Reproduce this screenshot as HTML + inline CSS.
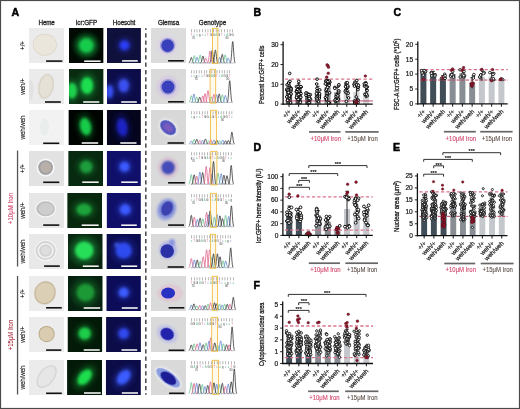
<!DOCTYPE html>
<html><head><meta charset="utf-8"><style>
html,body{margin:0;padding:0;background:#fff;width:520px;height:409px;overflow:hidden}
svg{display:block}
svg text{font-family:"Liberation Sans", Arial, sans-serif}
</style></head><body>
<svg width="520" height="409" viewBox="0 0 520 409">
<defs><clipPath id="c1"><rect x="29" y="28" width="35" height="35"/></clipPath>
<filter id="b2" x="-50%" y="-50%" width="200%" height="200%"><feGaussianBlur stdDeviation="0.5"/></filter>
<filter id="b3" x="-50%" y="-50%" width="200%" height="200%"><feGaussianBlur stdDeviation="0.6"/></filter>
<clipPath id="c4"><rect x="69" y="28" width="34.6" height="35"/></clipPath>
<filter id="b5" x="-50%" y="-50%" width="200%" height="200%"><feGaussianBlur stdDeviation="2.4"/></filter>
<filter id="b6" x="-50%" y="-50%" width="200%" height="200%"><feGaussianBlur stdDeviation="1.8"/></filter>
<clipPath id="c7"><rect x="107" y="28" width="33.9" height="35"/></clipPath>
<filter id="b8" x="-50%" y="-50%" width="200%" height="200%"><feGaussianBlur stdDeviation="1.5"/></filter>
<clipPath id="c9"><rect x="151" y="28" width="35" height="35"/></clipPath>
<filter id="b10" x="-50%" y="-50%" width="200%" height="200%"><feGaussianBlur stdDeviation="1.0"/></filter>
<filter id="b11" x="-50%" y="-50%" width="200%" height="200%"><feGaussianBlur stdDeviation="0.7"/></filter>
<clipPath id="c12"><rect x="29" y="69" width="35" height="35"/></clipPath>
<clipPath id="c13"><rect x="69" y="69" width="34.6" height="35"/></clipPath>
<clipPath id="c14"><rect x="107" y="69" width="33.9" height="35"/></clipPath>
<clipPath id="c15"><rect x="151" y="69" width="35" height="35"/></clipPath>
<clipPath id="c16"><rect x="29" y="110" width="35" height="35"/></clipPath>
<clipPath id="c17"><rect x="68.4" y="110" width="34.8" height="35"/></clipPath>
<clipPath id="c18"><rect x="106.8" y="110" width="34.1" height="35"/></clipPath>
<clipPath id="c19"><rect x="151" y="110" width="35" height="35"/></clipPath>
<filter id="b20" x="-50%" y="-50%" width="200%" height="200%"><feGaussianBlur stdDeviation="0.8"/></filter>
<clipPath id="c21"><rect x="29" y="151" width="35" height="35"/></clipPath>
<clipPath id="c22"><rect x="68.2" y="151" width="34.8" height="35"/></clipPath>
<clipPath id="c23"><rect x="106.7" y="151" width="34.2" height="35"/></clipPath>
<clipPath id="c24"><rect x="151" y="151" width="35" height="35"/></clipPath>
<filter id="b25" x="-50%" y="-50%" width="200%" height="200%"><feGaussianBlur stdDeviation="1.3"/></filter>
<filter id="b26" x="-50%" y="-50%" width="200%" height="200%"><feGaussianBlur stdDeviation="0.9"/></filter>
<clipPath id="c27"><rect x="29" y="193" width="35" height="35"/></clipPath>
<clipPath id="c28"><rect x="67.2" y="193" width="34.8" height="35"/></clipPath>
<clipPath id="c29"><rect x="106.6" y="193" width="34.3" height="35"/></clipPath>
<clipPath id="c30"><rect x="151" y="193" width="35" height="35"/></clipPath>
<clipPath id="c31"><rect x="29" y="234" width="35" height="35"/></clipPath>
<clipPath id="c32"><rect x="67.9" y="234" width="34.8" height="35"/></clipPath>
<clipPath id="c33"><rect x="106.4" y="234" width="34.5" height="35"/></clipPath>
<clipPath id="c34"><rect x="151" y="234" width="35" height="35"/></clipPath>
<clipPath id="c35"><rect x="29" y="276" width="35" height="35"/></clipPath>
<clipPath id="c36"><rect x="67.9" y="276" width="34.8" height="35"/></clipPath>
<clipPath id="c37"><rect x="106.3" y="276" width="34.6" height="35"/></clipPath>
<clipPath id="c38"><rect x="151" y="276" width="35" height="35"/></clipPath>
<filter id="b39" x="-50%" y="-50%" width="200%" height="200%"><feGaussianBlur stdDeviation="1.1"/></filter>
<clipPath id="c40"><rect x="29" y="317" width="35" height="35"/></clipPath>
<clipPath id="c41"><rect x="67.5" y="317" width="34.8" height="35"/></clipPath>
<clipPath id="c42"><rect x="106.1" y="317" width="34.8" height="35"/></clipPath>
<clipPath id="c43"><rect x="151" y="317" width="35" height="35"/></clipPath>
<clipPath id="c44"><rect x="29" y="360" width="35" height="35"/></clipPath>
<clipPath id="c45"><rect x="67.1" y="360" width="35" height="35"/></clipPath>
<clipPath id="c46"><rect x="105.8" y="360" width="35.1" height="35"/></clipPath>
<clipPath id="c47"><rect x="151" y="360" width="35" height="35"/></clipPath></defs>
<rect width="520" height="409" fill="#fff"/>
<g clip-path="url(#c1)"><rect x="29" y="28" width="35" height="35" fill="#ebebeb"/>
<ellipse cx="44.8" cy="44.8" rx="12" ry="11" fill="#ddd6c8" filter="url(#b2)"/>
<ellipse cx="44.8" cy="44.8" rx="11.2" ry="10.2" fill="#ebe6dc" filter="url(#b3)"/>
</g>
<rect x="46.1" y="60.3" width="16.2" height="1.6" fill="#111"/>
<g clip-path="url(#c4)"><rect x="69" y="28" width="34.6" height="35" fill="#020a03"/>
<ellipse cx="86.3" cy="45.5" rx="11.52" ry="11.52" fill="#16cc4c" opacity="0.4675" filter="url(#b5)"/>
<ellipse cx="86.3" cy="45.5" rx="7.2" ry="7.2" fill="#16cc4c" filter="url(#b6)"/>
</g>
<rect x="84.2" y="60.4" width="16.4" height="1.6" fill="#f2f2f2"/>
<g clip-path="url(#c7)"><rect x="107" y="28" width="33.900000000000006" height="35" fill="#10103c"/>
<ellipse cx="124.5" cy="45.3" rx="7.68" ry="7.68" fill="#2c3cf4" opacity="0.30250000000000005" filter="url(#b5)"/>
<ellipse cx="124.5" cy="45.3" rx="4.8" ry="4.8" fill="#2c3cf4" filter="url(#b8)"/>
</g>
<rect x="122.1" y="60.1" width="15.7" height="1.6" fill="#f2f2f2"/>
<g clip-path="url(#c9)"><rect x="151" y="28" width="35" height="35" fill="#dcdcdc"/>
<ellipse cx="167.6" cy="45.6" rx="10.3" ry="10.3" fill="#dcd4e4" filter="url(#b10)"/>
<ellipse cx="167.6" cy="45.6" rx="7.8" ry="7.8" fill="#a8a4da" filter="url(#b11)"/>
<ellipse cx="167.6" cy="45.6" rx="6.3" ry="6.3" fill="#3840bc" filter="url(#b3)"/>
</g>
<rect x="168.1" y="60" width="15.7" height="1.6" fill="#111"/>
<g clip-path="url(#c12)"><rect x="29" y="69" width="35" height="35" fill="#ebebeb"/>
<ellipse cx="46" cy="86.3" rx="7.6" ry="12.3" fill="#cdc6b6" transform="rotate(12 46 86.3)" filter="url(#b2)"/>
<ellipse cx="46" cy="86.3" rx="6.8" ry="11.5" fill="#e6e1d6" transform="rotate(12 46 86.3)" filter="url(#b3)"/>
<ellipse cx="30.5" cy="90" rx="3.5" ry="10.5" fill="#e8e8e8" filter="url(#b2)"/>
<ellipse cx="30.5" cy="90" rx="3" ry="10" fill="#e2e2e2" filter="url(#b3)"/>
</g>
<rect x="45" y="101.2" width="15.8" height="1.6" fill="#111"/>
<g clip-path="url(#c13)"><rect x="69" y="69" width="34.6" height="35" fill="#0a2a12"/>
<ellipse cx="87" cy="85.5" rx="10.08" ry="13.76" fill="#1ade50" opacity="0.22000000000000003" filter="url(#b5)"/>
<ellipse cx="87" cy="85.5" rx="6.3" ry="8.6" fill="#1ade50" filter="url(#b6)"/>
<ellipse cx="72" cy="90.7" rx="8" ry="12.8" fill="#1ad24c" opacity="0.22000000000000003" filter="url(#b5)"/>
<ellipse cx="72" cy="90.7" rx="5" ry="8" fill="#1ad24c" filter="url(#b6)"/>
</g>
<rect x="83.2" y="101.2" width="16.1" height="1.6" fill="#f2f2f2"/>
<g clip-path="url(#c14)"><rect x="107" y="69" width="33.900000000000006" height="35" fill="#0c0c48"/>
<ellipse cx="123.7" cy="85.5" rx="8.32" ry="10.56" fill="#3a50f0" opacity="0.24750000000000003" filter="url(#b5)"/>
<ellipse cx="123.7" cy="85.5" rx="5.2" ry="6.6" fill="#3a50f0" filter="url(#b8)"/>
<ellipse cx="109.5" cy="91.5" rx="6.08" ry="10.56" fill="#3450f0" opacity="0.22000000000000003" filter="url(#b5)"/>
<ellipse cx="109.5" cy="91.5" rx="3.8" ry="6.6" fill="#3450f0" filter="url(#b8)"/>
</g>
<rect x="121.2" y="101.2" width="15.6" height="1.6" fill="#f2f2f2"/>
<g clip-path="url(#c15)"><rect x="151" y="69" width="35" height="35" fill="#dadada"/>
<ellipse cx="168" cy="87" rx="10.8" ry="10.8" fill="#d8cce2" filter="url(#b10)" stroke="#ccb8d6" stroke-width="0.6"/>
<ellipse cx="168" cy="87" rx="8" ry="8" fill="#a8a2da" filter="url(#b11)"/>
<ellipse cx="168" cy="87" rx="6.4" ry="6.4" fill="#3840bc" filter="url(#b3)"/>
</g>
<rect x="168.1" y="101" width="15.7" height="1.6" fill="#111"/>
<g clip-path="url(#c16)"><rect x="29" y="110" width="35" height="35" fill="#f2f2f2"/>
<ellipse cx="44.5" cy="127" rx="5.6" ry="9.6" fill="#f6f8f7" filter="url(#b2)"/>
<ellipse cx="44.5" cy="127" rx="5" ry="9" fill="#e9eeec" filter="url(#b3)"/>
</g>
<rect x="43.2" y="142.5" width="16.1" height="1.6" fill="#111"/>
<g clip-path="url(#c17)"><rect x="68.4" y="110" width="34.8" height="35" fill="#000400"/>
<ellipse cx="85.5" cy="126.5" rx="8.96" ry="14.4" fill="#16cc48" transform="rotate(-12 85.5 126.5)" opacity="0.1925" filter="url(#b5)"/>
<ellipse cx="85.5" cy="126.5" rx="5.6" ry="9" fill="#16cc48" transform="rotate(-12 85.5 126.5)" filter="url(#b6)"/>
</g>
<rect x="81.7" y="142.2" width="16.5" height="1.6" fill="#f2f2f2"/>
<g clip-path="url(#c18)"><rect x="106.8" y="110" width="34.10000000000001" height="35" fill="#05051e"/>
<ellipse cx="122.2" cy="127.2" rx="8.32" ry="14.4" fill="#1a22c4" transform="rotate(-8 122.2 127.2)" opacity="0.24750000000000003" filter="url(#b5)"/>
<ellipse cx="122.2" cy="127.2" rx="5.2" ry="9" fill="#1a22c4" transform="rotate(-8 122.2 127.2)" filter="url(#b8)"/>
</g>
<rect x="120.3" y="142.2" width="16.2" height="1.6" fill="#f2f2f2"/>
<g clip-path="url(#c19)"><rect x="151" y="110" width="35" height="35" fill="#d8d8d8"/>
<ellipse cx="168.1" cy="127.6" rx="10.5" ry="7.5" fill="#f0f0f4" transform="rotate(40 168.1 127.6)" filter="url(#b20)"/>
<ellipse cx="168.1" cy="127.6" rx="9" ry="6.2" fill="#4a52bc" transform="rotate(40 168.1 127.6)" filter="url(#b2)"/>
<ellipse cx="168.1" cy="127.6" rx="6" ry="4" fill="#7a5cc0" transform="rotate(40 168.1 127.6)" filter="url(#b20)"/>
</g>
<rect x="167.6" y="142.2" width="16.2" height="1.6" fill="#111"/>
<g clip-path="url(#c21)"><rect x="29" y="151" width="35" height="35" fill="#e2e2e2"/>
<ellipse cx="45.6" cy="167.6" rx="9" ry="9" fill="#f8f8f8" filter="url(#b2)"/>
<ellipse cx="45.6" cy="167.6" rx="7.4" ry="7.4" fill="#a2a2a6" filter="url(#b3)"/>
<ellipse cx="45.8" cy="167.4" rx="5.3" ry="5.3" fill="#b4aeaa" filter="url(#b2)"/>
<ellipse cx="45.8" cy="167.4" rx="5" ry="5" fill="#b8b0a8" filter="url(#b3)"/>
</g>
<rect x="43.2" y="181.5" width="16.1" height="1.6" fill="#111"/>
<g clip-path="url(#c22)"><rect x="68.2" y="151" width="34.8" height="35" fill="#082a10"/>
<ellipse cx="86.2" cy="166.8" rx="9.92" ry="9.92" fill="#1c9e3c" opacity="0.275" filter="url(#b5)"/>
<ellipse cx="86.2" cy="166.8" rx="6.2" ry="6.2" fill="#1c9e3c" filter="url(#b6)"/>
</g>
<rect x="82.2" y="181.4" width="16.5" height="1.6" fill="#f2f2f2"/>
<g clip-path="url(#c23)"><rect x="106.7" y="151" width="34.2" height="35" fill="#10106a"/>
<ellipse cx="124.5" cy="166.7" rx="8" ry="8" fill="#3a5aff" opacity="0.24750000000000003" filter="url(#b5)"/>
<ellipse cx="124.5" cy="166.7" rx="5" ry="5" fill="#3a5aff" filter="url(#b8)"/>
</g>
<rect x="121.2" y="181.4" width="16.5" height="1.6" fill="#f2f2f2"/>
<g clip-path="url(#c24)"><rect x="151" y="151" width="35" height="35" fill="#dadada"/>
<ellipse cx="168.1" cy="167.6" rx="10" ry="10" fill="#d8c6d4" filter="url(#b25)" stroke="#d4b0cc" stroke-width="0.6"/>
<ellipse cx="168.1" cy="167.6" rx="6.8" ry="6.8" fill="#444cb8" filter="url(#b26)"/>
</g>
<rect x="168.1" y="182" width="16.7" height="1.6" fill="#111"/>
<g clip-path="url(#c27)"><rect x="29" y="193" width="35" height="35" fill="#e6e6e6"/>
<ellipse cx="45.6" cy="208.8" rx="10.6" ry="8.8" fill="#f6f6f6" filter="url(#b2)"/>
<ellipse cx="45.6" cy="208.8" rx="9.3" ry="7.5" fill="#bcbcbc" filter="url(#b3)"/>
<ellipse cx="46" cy="208.8" rx="7.6" ry="6.1" fill="#c8c8c8" filter="url(#b2)"/>
<ellipse cx="46" cy="208.8" rx="7.3" ry="5.8" fill="#cdcdcd" filter="url(#b3)"/>
</g>
<rect x="43.2" y="224.3" width="16.1" height="1.6" fill="#111"/>
<g clip-path="url(#c28)"><rect x="67.2" y="193" width="34.8" height="35" fill="#08280e"/>
<ellipse cx="84" cy="209.5" rx="12.16" ry="9.6" fill="#1ca43a" opacity="0.275" filter="url(#b5)"/>
<ellipse cx="84" cy="209.5" rx="7.6" ry="6" fill="#1ca43a" filter="url(#b6)"/>
</g>
<rect x="81.7" y="224.4" width="17" height="1.6" fill="#f2f2f2"/>
<g clip-path="url(#c29)"><rect x="106.6" y="193" width="34.30000000000001" height="35" fill="#10106a"/>
<ellipse cx="125.2" cy="209.5" rx="8.64" ry="8.64" fill="#3a5aff" opacity="0.24750000000000003" filter="url(#b5)"/>
<ellipse cx="125.2" cy="209.5" rx="5.4" ry="5.4" fill="#3a5aff" filter="url(#b8)"/>
</g>
<rect x="121.2" y="224.4" width="15.6" height="1.6" fill="#f2f2f2"/>
<g clip-path="url(#c30)"><rect x="151" y="193" width="35" height="35" fill="#d8d8d8"/>
<ellipse cx="166.5" cy="209.5" rx="9.5" ry="11.5" fill="#aab4e2" transform="rotate(25 166.5 209.5)" filter="url(#b26)"/>
<ellipse cx="166.8" cy="209" rx="8" ry="9.5" fill="#7e8cd6" transform="rotate(25 166.8 209)" filter="url(#b20)"/>
<ellipse cx="167" cy="208.5" rx="5.5" ry="7.5" fill="#3c42b0" transform="rotate(25 167 208.5)" filter="url(#b11)"/>
</g>
<rect x="168.1" y="224.3" width="15.9" height="1.6" fill="#111"/>
<g clip-path="url(#c31)"><rect x="29" y="234" width="35" height="35" fill="#e8e8e8"/>
<ellipse cx="45.6" cy="250.6" rx="11.2" ry="10.7" fill="#f4f4f4" filter="url(#b2)"/>
<ellipse cx="45.6" cy="250.6" rx="10" ry="9.5" fill="#d0d0d0" filter="url(#b3)"/>
<ellipse cx="45.6" cy="250.6" rx="8.3" ry="7.9" fill="#e8e8e8" filter="url(#b2)"/>
<ellipse cx="45.6" cy="250.6" rx="8" ry="7.6" fill="#eeeeee" filter="url(#b3)"/>
<ellipse cx="45.6" cy="250.6" rx="6.3" ry="6.1" fill="#d6d6d6" filter="url(#b2)"/>
<ellipse cx="45.6" cy="250.6" rx="6" ry="5.8" fill="#d2d2d2" filter="url(#b3)"/>
<ellipse cx="45.8" cy="250.6" rx="4.6" ry="4.4" fill="#dadada" filter="url(#b2)"/>
<ellipse cx="45.8" cy="250.6" rx="4.3" ry="4.1" fill="#dedede" filter="url(#b3)"/>
</g>
<rect x="44.1" y="265.3" width="15.7" height="1.6" fill="#111"/>
<g clip-path="url(#c32)"><rect x="67.9" y="234" width="34.8" height="35" fill="#082410"/>
<ellipse cx="84.2" cy="250.5" rx="15.04" ry="14.72" fill="#26de58" opacity="0.24750000000000003" filter="url(#b5)"/>
<ellipse cx="84.2" cy="250.5" rx="9.4" ry="9.2" fill="#26de58" filter="url(#b6)"/>
</g>
<rect x="82.8" y="265.4" width="15.9" height="1.6" fill="#f2f2f2"/>
<g clip-path="url(#c33)"><rect x="106.4" y="234" width="34.5" height="35" fill="#0c0c50"/>
<ellipse cx="123.7" cy="250.5" rx="12.8" ry="12.8" fill="#2e4cf0" opacity="0.22000000000000003" filter="url(#b5)"/>
<ellipse cx="123.7" cy="250.5" rx="8" ry="8" fill="#2e4cf0" filter="url(#b8)"/>
<ellipse cx="116.8" cy="245" rx="3.2" ry="3.2" fill="#4a6aff" opacity="0.11000000000000001" filter="url(#b5)"/>
<ellipse cx="116.8" cy="245" rx="2" ry="2" fill="#4a6aff" filter="url(#b8)"/>
</g>
<rect x="121.2" y="265.4" width="16" height="1.6" fill="#f2f2f2"/>
<g clip-path="url(#c34)"><rect x="151" y="234" width="35" height="35" fill="#d9d9d9"/>
<ellipse cx="168" cy="250" rx="9" ry="9" fill="#b0b8e4" filter="url(#b10)"/>
<ellipse cx="172" cy="242.5" rx="3" ry="3.5" fill="#8a96e0" filter="url(#b20)"/>
<ellipse cx="167.2" cy="251.1" rx="6.8" ry="6.8" fill="#2c30a6" filter="url(#b11)"/>
</g>
<rect x="167.6" y="266.2" width="16.2" height="1.6" fill="#111"/>
<g clip-path="url(#c35)"><rect x="29" y="276" width="35" height="35" fill="#ececec"/>
<ellipse cx="45" cy="292.8" rx="10.5" ry="11.5" fill="#bcaa88" transform="rotate(20 45 292.8)" filter="url(#b2)"/>
<ellipse cx="45" cy="292.8" rx="9.6" ry="10.6" fill="#dbd0b6" transform="rotate(20 45 292.8)" filter="url(#b3)"/>
</g>
<rect x="46.1" y="307" width="15.7" height="1.6" fill="#111"/>
<g clip-path="url(#c36)"><rect x="67.9" y="276" width="34.8" height="35" fill="#062010"/>
<ellipse cx="85.5" cy="292.5" rx="14.4" ry="14.4" fill="#1a9834" opacity="0.30250000000000005" filter="url(#b5)"/>
<ellipse cx="85.5" cy="292.5" rx="9" ry="9" fill="#1a9834" filter="url(#b6)"/>
</g>
<rect x="83.7" y="307.2" width="16.5" height="1.6" fill="#f2f2f2"/>
<g clip-path="url(#c37)"><rect x="106.3" y="276" width="34.60000000000001" height="35" fill="#0c0c58"/>
<ellipse cx="123.7" cy="292.5" rx="8" ry="8" fill="#3a5cff" opacity="0.24750000000000003" filter="url(#b5)"/>
<ellipse cx="123.7" cy="292.5" rx="5" ry="5" fill="#3a5cff" filter="url(#b8)"/>
</g>
<rect x="121.8" y="307.2" width="15.9" height="1.6" fill="#f2f2f2"/>
<g clip-path="url(#c38)"><rect x="151" y="276" width="35" height="35" fill="#dadada"/>
<ellipse cx="170" cy="293.1" rx="12" ry="8" fill="#e2cad6" filter="url(#b39)" stroke="#d8b0c6" stroke-width="0.6"/>
<ellipse cx="168.1" cy="293.1" rx="7" ry="5.5" fill="#2a30c4" filter="url(#b3)"/>
</g>
<rect x="168.6" y="307" width="15.7" height="1.6" fill="#111"/>
<g clip-path="url(#c40)"><rect x="29" y="317" width="35" height="35" fill="#ececec"/>
<ellipse cx="46.6" cy="334.1" rx="8.1" ry="8.1" fill="#b8a686" filter="url(#b2)"/>
<ellipse cx="46.6" cy="334.1" rx="7.2" ry="7.2" fill="#d9ccb0" filter="url(#b3)"/>
</g>
<rect x="46.1" y="349.3" width="15.2" height="1.6" fill="#111"/>
<g clip-path="url(#c41)"><rect x="67.5" y="317" width="34.8" height="35" fill="#041a08"/>
<ellipse cx="84.7" cy="333.5" rx="9.92" ry="9.92" fill="#1cce4a" opacity="0.22000000000000003" filter="url(#b5)"/>
<ellipse cx="84.7" cy="333.5" rx="6.2" ry="6.2" fill="#1cce4a" filter="url(#b6)"/>
</g>
<rect x="83.7" y="349.2" width="16" height="1.6" fill="#f2f2f2"/>
<g clip-path="url(#c42)"><rect x="106.1" y="317" width="34.80000000000001" height="35" fill="#0c0c48"/>
<ellipse cx="123.7" cy="333.5" rx="8.32" ry="8.32" fill="#3048f0" opacity="0.24750000000000003" filter="url(#b5)"/>
<ellipse cx="123.7" cy="333.5" rx="5.2" ry="5.2" fill="#3048f0" filter="url(#b8)"/>
</g>
<rect x="121.5" y="349.2" width="15.7" height="1.6" fill="#f2f2f2"/>
<g clip-path="url(#c43)"><rect x="151" y="317" width="35" height="35" fill="#d9d9d9"/>
<ellipse cx="167.1" cy="334.1" rx="11" ry="8.5" fill="#c0c2e4" transform="rotate(30 167.1 334.1)" filter="url(#b10)"/>
<ellipse cx="167.1" cy="334.1" rx="7" ry="6" fill="#2424ac" transform="rotate(30 167.1 334.1)" filter="url(#b3)"/>
</g>
<rect x="168.6" y="349.5" width="15.7" height="1.6" fill="#111"/>
<g clip-path="url(#c44)"><rect x="29" y="360" width="35" height="35" fill="#ebebeb"/>
<ellipse cx="46.6" cy="376.6" rx="12.9" ry="7.7" fill="#c9c9c9" transform="rotate(-52 46.6 376.6)" filter="url(#b2)"/>
<ellipse cx="46.6" cy="376.6" rx="12" ry="6.8" fill="#e6e6e6" transform="rotate(-52 46.6 376.6)" filter="url(#b3)"/>
</g>
<rect x="46.1" y="392.5" width="15.7" height="1.6" fill="#111"/>
<g clip-path="url(#c45)"><rect x="67.1" y="360" width="35" height="35" fill="#041a08"/>
<ellipse cx="84.7" cy="377.2" rx="14.72" ry="8.96" fill="#1cde4e" transform="rotate(-50 84.7 377.2)" opacity="0.22000000000000003" filter="url(#b5)"/>
<ellipse cx="84.7" cy="377.2" rx="9.2" ry="5.6" fill="#1cde4e" transform="rotate(-50 84.7 377.2)" filter="url(#b6)"/>
</g>
<rect x="84" y="392.2" width="16.8" height="1.6" fill="#f2f2f2"/>
<g clip-path="url(#c46)"><rect x="105.8" y="360" width="35.10000000000001" height="35" fill="#0c0c48"/>
<ellipse cx="123.7" cy="377.2" rx="13.44" ry="8.96" fill="#3a5cff" transform="rotate(-50 123.7 377.2)" opacity="0.22000000000000003" filter="url(#b5)"/>
<ellipse cx="123.7" cy="377.2" rx="8.4" ry="5.6" fill="#3a5cff" transform="rotate(-50 123.7 377.2)" filter="url(#b8)"/>
</g>
<rect x="121.8" y="392.2" width="16.2" height="1.6" fill="#f2f2f2"/>
<g clip-path="url(#c47)"><rect x="151" y="360" width="35" height="35" fill="#d9d9d9"/>
<ellipse cx="168.1" cy="377.8" rx="15.5" ry="7.2" fill="#eef0f6" transform="rotate(37 168.1 377.8)" filter="url(#b20)"/>
<ellipse cx="168.1" cy="377.8" rx="14.2" ry="6" fill="#8c9ee0" transform="rotate(37 168.1 377.8)" filter="url(#b3)"/>
<ellipse cx="168.4" cy="378.2" rx="9" ry="5" fill="#1c1c94" transform="rotate(37 168.4 378.2)" filter="url(#b3)"/>
</g>
<rect x="169.1" y="392.5" width="15.2" height="1.6" fill="#111"/>
<rect x="212.5" y="28.3" width="5.3" height="35.3" fill="#fffaec"/>
<rect x="191.2" y="29.2" width="0.6" height="3.2" fill="#8a8a8a"/>
<rect x="193.95" y="29.2" width="0.6" height="3.2" fill="#8a8a8a"/>
<rect x="196.69" y="29.2" width="0.6" height="3.2" fill="#8a8a8a"/>
<rect x="199.44" y="29.2" width="0.6" height="3.2" fill="#8a8a8a"/>
<rect x="202.19" y="29.2" width="0.6" height="3.2" fill="#8a8a8a"/>
<rect x="204.93" y="29.2" width="0.6" height="3.2" fill="#8a8a8a"/>
<rect x="207.68" y="29.2" width="0.6" height="3.2" fill="#8a8a8a"/>
<rect x="210.43" y="29.2" width="0.6" height="3.2" fill="#8a8a8a"/>
<rect x="213.17" y="29.2" width="0.6" height="3.2" fill="#8a8a8a"/>
<rect x="215.92" y="29.2" width="0.6" height="3.2" fill="#8a8a8a"/>
<rect x="218.67" y="29.2" width="0.6" height="3.2" fill="#8a8a8a"/>
<rect x="221.41" y="29.2" width="0.6" height="3.2" fill="#8a8a8a"/>
<rect x="224.16" y="29.2" width="0.6" height="3.2" fill="#8a8a8a"/>
<rect x="226.91" y="29.2" width="0.6" height="3.2" fill="#8a8a8a"/>
<rect x="229.65" y="29.2" width="0.6" height="3.2" fill="#8a8a8a"/>
<rect x="232.4" y="29.2" width="0.6" height="3.2" fill="#8a8a8a"/>
<text x="191.5" y="35.6" font-size="2.8" fill="#e0628c" text-anchor="middle">T</text>
<text x="194.25" y="35.6" font-size="2.8" fill="#6486d0" text-anchor="middle">c</text>
<text x="196.99" y="35.6" font-size="2.8" fill="#66c08a" text-anchor="middle">a</text>
<text x="199.74" y="35.6" font-size="2.8" fill="#333" text-anchor="middle">g</text>
<text x="202.49" y="35.6" font-size="2.8" fill="#6486d0" text-anchor="middle">c</text>
<text x="205.23" y="35.6" font-size="2.8" fill="#66c08a" text-anchor="middle">a</text>
<text x="207.98" y="35.6" font-size="2.8" fill="#e0628c" text-anchor="middle">T</text>
<text x="210.73" y="35.6" font-size="2.8" fill="#333" text-anchor="middle">G</text>
<text x="213.47" y="35.6" font-size="2.8" fill="#333" text-anchor="middle">G</text>
<text x="216.22" y="35.6" font-size="2.8" fill="#66c08a" text-anchor="middle">A</text>
<text x="218.97" y="35.6" font-size="2.8" fill="#333" text-anchor="middle">G</text>
<text x="221.71" y="35.6" font-size="2.8" fill="#e0628c" text-anchor="middle">T</text>
<text x="224.46" y="35.6" font-size="2.8" fill="#6486d0" text-anchor="middle">c</text>
<text x="227.21" y="35.6" font-size="2.8" fill="#66c08a" text-anchor="middle">A</text>
<text x="229.95" y="35.6" font-size="2.8" fill="#333" text-anchor="middle">G</text>
<text x="232.7" y="35.6" font-size="2.8" fill="#333" text-anchor="middle">G</text>
<text x="192" y="39" font-size="2.8" fill="#444">70</text>
<text x="225.5" y="39" font-size="2.8" fill="#444">80</text>
<line x1="190.6" y1="63" x2="235.3" y2="63" stroke="#8a8a9a" stroke-width="0.5"/>
<polyline points="188.7,62.95 189,62.86 189.3,62.65 189.6,62.25 189.9,61.57 190.2,60.6 190.5,59.45 190.8,58.34 191.1,57.62 191.4,57.5 191.7,58.05 192,59.06 192.3,60.23 192.6,61.28 192.9,62.06 193.2,62.54 193.5,62.81 193.8,62.93" fill="none" stroke="#333333" stroke-width="0.8"/>
<polyline points="191.66,62.93 191.96,62.81 192.26,62.54 192.56,62.01 192.86,61.11 193.16,59.82 193.46,58.28 193.76,56.82 194.06,55.86 194.36,55.71 194.66,56.43 194.96,57.77 195.26,59.32 195.56,60.72 195.86,61.75 196.16,62.4 196.46,62.74 196.76,62.9" fill="none" stroke="#66c08a" stroke-width="0.8"/>
<polyline points="194.5,62.95 194.8,62.85 195.1,62.64 195.4,62.22 195.7,61.52 196,60.52 196.3,59.32 196.6,58.18 196.9,57.42 197.2,57.31 197.5,57.87 197.8,58.92 198.1,60.13 198.4,61.22 198.7,62.03 199,62.53 199.3,62.8 199.6,62.92" fill="none" stroke="#6486d0" stroke-width="0.8"/>
<polyline points="197.53,62.93 197.83,62.79 198.13,62.5 198.43,61.92 198.73,60.94 199.03,59.53 199.33,57.86 199.63,56.26 199.93,55.21 200.23,55.05 200.53,55.83 200.83,57.29 201.13,58.99 201.43,60.51 201.73,61.64 202.03,62.34 202.33,62.72 202.63,62.89" fill="none" stroke="#66c08a" stroke-width="0.8"/>
<polyline points="200.38,62.94 200.68,62.82 200.98,62.57 201.28,62.07 201.58,61.24 201.88,60.04 202.18,58.6 202.48,57.24 202.78,56.34 203.08,56.2 203.38,56.87 203.68,58.12 203.98,59.57 204.28,60.87 204.58,61.84 204.88,62.44 205.18,62.76 205.48,62.91" fill="none" stroke="#333333" stroke-width="0.8"/>
<polyline points="203.08,62.95 203.38,62.87 203.68,62.69 203.98,62.34 204.28,61.73 204.58,60.87 204.88,59.85 205.18,58.87 205.48,58.22 205.78,58.12 206.08,58.6 206.38,59.5 206.68,60.54 206.98,61.47 207.28,62.16 207.58,62.6 207.88,62.83 208.18,62.94" fill="none" stroke="#e0628c" stroke-width="0.8"/>
<polyline points="217.06,62.95 217.36,62.85 217.66,62.64 217.96,62.22 218.26,61.51 218.56,60.49 218.86,59.28 219.16,58.12 219.46,57.36 219.76,57.24 220.06,57.81 220.36,58.87 220.66,60.1 220.96,61.2 221.26,62.01 221.56,62.52 221.86,62.8 222.16,62.92" fill="none" stroke="#6486d0" stroke-width="0.8"/>
<polyline points="219.63,62.92 219.93,62.78 220.23,62.45 220.53,61.82 220.83,60.75 221.13,59.22 221.43,57.39 221.73,55.65 222.03,54.5 222.33,54.32 222.63,55.18 222.93,56.77 223.23,58.62 223.53,60.29 223.83,61.51 224.13,62.28 224.43,62.69 224.73,62.88" fill="none" stroke="#333333" stroke-width="0.8"/>
<polyline points="222.63,62.92 222.93,62.79 223.23,62.48 223.53,61.88 223.83,60.87 224.13,59.42 224.43,57.69 224.73,56.04 225.03,54.96 225.33,54.79 225.63,55.6 225.93,57.11 226.23,58.86 226.53,60.43 226.83,61.59 227.13,62.32 227.43,62.71 227.73,62.89" fill="none" stroke="#66c08a" stroke-width="0.8"/>
<polyline points="225.55,62.95 225.85,62.87 226.15,62.68 226.45,62.32 226.75,61.7 227.05,60.82 227.35,59.77 227.65,58.77 227.95,58.11 228.25,58 228.55,58.5 228.85,59.42 229.15,60.48 229.45,61.44 229.75,62.14 230.05,62.59 230.35,62.82 230.65,62.93" fill="none" stroke="#6486d0" stroke-width="0.8"/>
<polyline points="207.4,62.89 207.7,62.69 208,62.25 208.3,61.38 208.6,59.91 208.9,57.81 209.2,55.29 209.5,52.91 209.8,51.33 210.1,51.08 210.4,52.26 210.7,54.45 211,56.99 211.3,59.27 211.6,60.96 211.9,62.01 212.2,62.58 212.5,62.84" fill="none" stroke="#e0628c" stroke-width="0.8"/>
<polyline points="209.6,62.88 209.9,62.67 210.2,62.18 210.5,61.24 210.8,59.65 211.1,57.37 211.4,54.65 211.7,52.07 212,50.35 212.3,50.09 212.6,51.36 212.9,53.74 213.2,56.49 213.5,58.96 213.8,60.79 214.1,61.93 214.4,62.54 214.7,62.83" fill="none" stroke="#333333" stroke-width="0.8"/>
<polyline points="212.8,62.88 213.1,62.67 213.4,62.18 213.7,61.24 214,59.65 214.3,57.37 214.6,54.65 214.9,52.07 215.2,50.35 215.5,50.09 215.8,51.36 216.1,53.74 216.4,56.49 216.7,58.96 217,60.79 217.3,61.93 217.6,62.54 217.9,62.83" fill="none" stroke="#333333" stroke-width="0.8"/>
<polyline points="230.1,62.8 230.4,62.44 230.7,61.64 231,60.08 231.3,57.44 231.6,53.65 231.9,49.13 232.2,44.83 232.5,41.99 232.8,41.55 233.1,43.66 233.4,47.61 233.7,52.19 234,56.29 234.3,59.33 234.6,61.22 234.9,62.24 235.2,62.71" fill="none" stroke="#333333" stroke-width="0.8"/>
<rect x="212.5" y="28.3" width="5.3" height="35.3" fill="none" stroke="#f0ba3c" stroke-width="0.85"/>
<rect x="210.1" y="69.3" width="5.6" height="33.8" fill="#fffaec"/>
<rect x="191.2" y="70.2" width="0.6" height="3.2" fill="#8a8a8a"/>
<rect x="193.75" y="70.2" width="0.6" height="3.2" fill="#8a8a8a"/>
<rect x="196.29" y="70.2" width="0.6" height="3.2" fill="#8a8a8a"/>
<rect x="198.84" y="70.2" width="0.6" height="3.2" fill="#8a8a8a"/>
<rect x="201.39" y="70.2" width="0.6" height="3.2" fill="#8a8a8a"/>
<rect x="203.93" y="70.2" width="0.6" height="3.2" fill="#8a8a8a"/>
<rect x="206.48" y="70.2" width="0.6" height="3.2" fill="#8a8a8a"/>
<rect x="209.03" y="70.2" width="0.6" height="3.2" fill="#8a8a8a"/>
<rect x="211.57" y="70.2" width="0.6" height="3.2" fill="#8a8a8a"/>
<rect x="214.12" y="70.2" width="0.6" height="3.2" fill="#8a8a8a"/>
<rect x="216.67" y="70.2" width="0.6" height="3.2" fill="#8a8a8a"/>
<rect x="219.21" y="70.2" width="0.6" height="3.2" fill="#8a8a8a"/>
<rect x="221.76" y="70.2" width="0.6" height="3.2" fill="#8a8a8a"/>
<rect x="224.31" y="70.2" width="0.6" height="3.2" fill="#8a8a8a"/>
<rect x="226.85" y="70.2" width="0.6" height="3.2" fill="#8a8a8a"/>
<rect x="229.4" y="70.2" width="0.6" height="3.2" fill="#8a8a8a"/>
<text x="191.5" y="76.6" font-size="2.8" fill="#6486d0" text-anchor="middle">c</text>
<text x="194.05" y="76.6" font-size="2.8" fill="#66c08a" text-anchor="middle">a</text>
<text x="196.59" y="76.6" font-size="2.8" fill="#333" text-anchor="middle">g</text>
<text x="199.14" y="76.6" font-size="2.8" fill="#6486d0" text-anchor="middle">c</text>
<text x="201.69" y="76.6" font-size="2.8" fill="#66c08a" text-anchor="middle">a</text>
<text x="204.23" y="76.6" font-size="2.8" fill="#e0628c" text-anchor="middle">T</text>
<text x="206.78" y="76.6" font-size="2.8" fill="#333" text-anchor="middle">G</text>
<text x="209.33" y="76.6" font-size="2.8" fill="#333" text-anchor="middle">G</text>
<text x="211.87" y="76.6" font-size="2.8" fill="#66c08a" text-anchor="middle">A</text>
<text x="214.42" y="76.6" font-size="2.8" fill="#333" text-anchor="middle">G</text>
<text x="216.97" y="76.6" font-size="2.8" fill="#e0628c" text-anchor="middle">T</text>
<text x="219.51" y="76.6" font-size="2.8" fill="#6486d0" text-anchor="middle">c</text>
<text x="222.06" y="76.6" font-size="2.8" fill="#66c08a" text-anchor="middle">A</text>
<text x="224.61" y="76.6" font-size="2.8" fill="#333" text-anchor="middle">G</text>
<text x="227.15" y="76.6" font-size="2.8" fill="#333" text-anchor="middle">G</text>
<text x="229.7" y="76.6" font-size="2.8" fill="#e0628c" text-anchor="middle">T</text>
<text x="194.4" y="80" font-size="2.8" fill="#444">70</text>
<text x="226.3" y="80" font-size="2.8" fill="#444">80</text>
<line x1="190.6" y1="102.5" x2="232.3" y2="102.5" stroke="#8a8a9a" stroke-width="0.5"/>
<polyline points="188.7,102.44 189,102.32 189.3,102.07 189.6,101.58 189.9,100.74 190.2,99.55 190.5,98.12 190.8,96.77 191.1,95.87 191.4,95.73 191.7,96.4 192,97.64 192.3,99.09 192.6,100.38 192.9,101.34 193.2,101.94 193.5,102.26 193.8,102.41" fill="none" stroke="#66c08a" stroke-width="0.8"/>
<polyline points="191.32,102.42 191.62,102.28 191.92,101.96 192.22,101.34 192.52,100.29 192.82,98.79 193.12,97 193.42,95.3 193.72,94.17 194.02,93.99 194.32,94.83 194.62,96.4 194.92,98.21 195.22,99.84 195.52,101.04 195.82,101.8 196.12,102.2 196.42,102.39" fill="none" stroke="#6486d0" stroke-width="0.8"/>
<polyline points="194.09,102.45 194.39,102.36 194.69,102.15 194.99,101.76 195.29,101.08 195.59,100.12 195.89,98.97 196.19,97.88 196.49,97.15 196.79,97.04 197.09,97.58 197.39,98.58 197.69,99.75 197.99,100.79 198.29,101.57 198.59,102.05 198.89,102.31 199.19,102.43" fill="none" stroke="#66c08a" stroke-width="0.8"/>
<polyline points="197.13,102.45 197.43,102.36 197.73,102.16 198.03,101.77 198.33,101.11 198.63,100.17 198.93,99.04 199.23,97.97 199.53,97.27 199.83,97.16 200.13,97.68 200.43,98.67 200.73,99.81 201.03,100.83 201.33,101.58 201.63,102.06 201.93,102.31 202.23,102.43" fill="none" stroke="#333333" stroke-width="0.8"/>
<polyline points="200.24,102.44 200.54,102.33 200.84,102.08 201.14,101.6 201.44,100.79 201.74,99.62 202.04,98.23 202.34,96.91 202.64,96.04 202.94,95.9 203.24,96.55 203.54,97.77 203.84,99.17 204.14,100.44 204.44,101.37 204.74,101.95 205.04,102.27 205.34,102.41" fill="none" stroke="#e0628c" stroke-width="0.8"/>
<polyline points="208.72,102.45 209.02,102.36 209.32,102.15 209.62,101.74 209.92,101.05 210.22,100.07 210.52,98.89 210.82,97.77 211.12,97.03 211.42,96.92 211.72,97.47 212.02,98.5 212.32,99.69 212.62,100.76 212.92,101.54 213.22,102.04 213.52,102.3 213.82,102.43" fill="none" stroke="#66c08a" stroke-width="0.8"/>
<polyline points="211.29,102.42 211.59,102.29 211.89,101.98 212.19,101.39 212.49,100.38 212.79,98.94 213.09,97.21 213.39,95.57 213.69,94.49 213.99,94.32 214.29,95.13 214.59,96.63 214.89,98.38 215.19,99.94 215.49,101.1 215.79,101.82 216.09,102.21 216.39,102.39" fill="none" stroke="#e0628c" stroke-width="0.8"/>
<polyline points="213.98,102.43 214.28,102.3 214.58,102 214.88,101.43 215.18,100.46 215.48,99.08 215.78,97.42 216.08,95.85 216.38,94.81 216.68,94.65 216.98,95.42 217.28,96.87 217.58,98.54 217.88,100.05 218.18,101.16 218.48,101.85 218.78,102.22 219.08,102.4" fill="none" stroke="#6486d0" stroke-width="0.8"/>
<polyline points="216.65,102.42 216.95,102.28 217.25,101.96 217.55,101.33 217.85,100.28 218.15,98.76 218.45,96.96 218.75,95.24 219.05,94.11 219.35,93.93 219.65,94.77 219.95,96.35 220.25,98.18 220.55,99.82 220.85,101.03 221.15,101.79 221.45,102.2 221.75,102.39" fill="none" stroke="#333333" stroke-width="0.8"/>
<polyline points="219.74,102.43 220.04,102.3 220.34,102.01 220.64,101.44 220.94,100.49 221.24,99.12 221.54,97.49 221.84,95.93 222.14,94.91 222.44,94.75 222.74,95.51 223.04,96.94 223.34,98.59 223.64,100.08 223.94,101.17 224.24,101.86 224.54,102.23 224.84,102.4" fill="none" stroke="#66c08a" stroke-width="0.8"/>
<polyline points="222.75,102.43 223.05,102.32 223.35,102.05 223.65,101.53 223.95,100.66 224.25,99.41 224.55,97.92 224.85,96.5 225.15,95.56 225.45,95.41 225.75,96.11 226.05,97.42 226.35,98.93 226.65,100.28 226.95,101.29 227.25,101.91 227.55,102.25 227.85,102.41" fill="none" stroke="#6486d0" stroke-width="0.8"/>
<polyline points="205.4,102.39 205.7,102.19 206,101.75 206.3,100.88 206.6,99.41 206.9,97.31 207.2,94.79 207.5,92.41 207.8,90.83 208.1,90.58 208.4,91.76 208.7,93.95 209,96.49 209.3,98.77 209.6,100.46 209.9,101.51 210.2,102.08 210.5,102.34" fill="none" stroke="#e0628c" stroke-width="0.8"/>
<polyline points="202.4,102.42 202.7,102.27 203,101.94 203.3,101.28 203.6,100.18 203.9,98.6 204.2,96.72 204.5,94.93 204.8,93.75 205.1,93.56 205.4,94.44 205.7,96.09 206,98 206.3,99.71 206.6,100.97 206.9,101.76 207.2,102.18 207.5,102.38" fill="none" stroke="#e0628c" stroke-width="0.8"/>
<polyline points="227.1,102.3 227.4,101.93 227.7,101.12 228,99.52 228.3,96.83 228.6,92.98 228.9,88.37 229.2,84 229.5,81.1 229.8,80.65 230.1,82.81 230.4,86.83 230.7,91.49 231,95.67 231.3,98.76 231.6,100.69 231.9,101.73 232.2,102.21" fill="none" stroke="#333333" stroke-width="0.8"/>
<rect x="210.1" y="69.3" width="5.6" height="33.8" fill="none" stroke="#f0ba3c" stroke-width="0.85"/>
<rect x="210.6" y="110.3" width="6" height="34.3" fill="#fffaec"/>
<rect x="191.2" y="111.2" width="0.6" height="3.2" fill="#8a8a8a"/>
<rect x="193.89" y="111.2" width="0.6" height="3.2" fill="#8a8a8a"/>
<rect x="196.59" y="111.2" width="0.6" height="3.2" fill="#8a8a8a"/>
<rect x="199.28" y="111.2" width="0.6" height="3.2" fill="#8a8a8a"/>
<rect x="201.97" y="111.2" width="0.6" height="3.2" fill="#8a8a8a"/>
<rect x="204.67" y="111.2" width="0.6" height="3.2" fill="#8a8a8a"/>
<rect x="207.36" y="111.2" width="0.6" height="3.2" fill="#8a8a8a"/>
<rect x="210.05" y="111.2" width="0.6" height="3.2" fill="#8a8a8a"/>
<rect x="212.75" y="111.2" width="0.6" height="3.2" fill="#8a8a8a"/>
<rect x="215.44" y="111.2" width="0.6" height="3.2" fill="#8a8a8a"/>
<rect x="218.13" y="111.2" width="0.6" height="3.2" fill="#8a8a8a"/>
<rect x="220.83" y="111.2" width="0.6" height="3.2" fill="#8a8a8a"/>
<rect x="223.52" y="111.2" width="0.6" height="3.2" fill="#8a8a8a"/>
<rect x="226.21" y="111.2" width="0.6" height="3.2" fill="#8a8a8a"/>
<rect x="228.91" y="111.2" width="0.6" height="3.2" fill="#8a8a8a"/>
<rect x="231.6" y="111.2" width="0.6" height="3.2" fill="#8a8a8a"/>
<text x="191.5" y="117.6" font-size="2.8" fill="#66c08a" text-anchor="middle">a</text>
<text x="194.19" y="117.6" font-size="2.8" fill="#333" text-anchor="middle">g</text>
<text x="196.89" y="117.6" font-size="2.8" fill="#6486d0" text-anchor="middle">c</text>
<text x="199.58" y="117.6" font-size="2.8" fill="#66c08a" text-anchor="middle">a</text>
<text x="202.27" y="117.6" font-size="2.8" fill="#e0628c" text-anchor="middle">T</text>
<text x="204.97" y="117.6" font-size="2.8" fill="#333" text-anchor="middle">G</text>
<text x="207.66" y="117.6" font-size="2.8" fill="#333" text-anchor="middle">G</text>
<text x="210.35" y="117.6" font-size="2.8" fill="#66c08a" text-anchor="middle">A</text>
<text x="213.05" y="117.6" font-size="2.8" fill="#333" text-anchor="middle">G</text>
<text x="215.74" y="117.6" font-size="2.8" fill="#e0628c" text-anchor="middle">T</text>
<text x="218.43" y="117.6" font-size="2.8" fill="#6486d0" text-anchor="middle">c</text>
<text x="221.13" y="117.6" font-size="2.8" fill="#66c08a" text-anchor="middle">A</text>
<text x="223.82" y="117.6" font-size="2.8" fill="#333" text-anchor="middle">G</text>
<text x="226.51" y="117.6" font-size="2.8" fill="#333" text-anchor="middle">G</text>
<text x="229.21" y="117.6" font-size="2.8" fill="#e0628c" text-anchor="middle">T</text>
<text x="231.9" y="117.6" font-size="2.8" fill="#6486d0" text-anchor="middle">c</text>
<text x="220.9" y="121" font-size="2.8" fill="#444">80</text>
<line x1="190.6" y1="144" x2="234.5" y2="144" stroke="#8a8a9a" stroke-width="0.5"/>
<polyline points="188.7,143.97 189,143.92 189.3,143.81 189.6,143.58 189.9,143.21 190.2,142.67 190.5,142.03 190.8,141.42 191.1,141.01 191.4,140.95 191.7,141.25 192,141.81 192.3,142.46 192.6,143.05 192.9,143.48 193.2,143.75 193.5,143.89 193.8,143.96" fill="none" stroke="#6486d0" stroke-width="0.8"/>
<polyline points="191.54,143.96 191.84,143.88 192.14,143.71 192.44,143.37 192.74,142.81 193.04,142 193.34,141.03 193.64,140.11 193.94,139.51 194.24,139.41 194.54,139.86 194.84,140.71 195.14,141.69 195.44,142.57 195.74,143.21 196.04,143.62 196.34,143.84 196.64,143.94" fill="none" stroke="#66c08a" stroke-width="0.8"/>
<polyline points="194.21,143.96 194.51,143.88 194.81,143.7 195.11,143.35 195.41,142.76 195.71,141.91 196.01,140.9 196.31,139.94 196.61,139.3 196.91,139.2 197.21,139.68 197.51,140.56 197.81,141.58 198.11,142.5 198.41,143.18 198.71,143.6 199.01,143.83 199.31,143.94" fill="none" stroke="#333333" stroke-width="0.8"/>
<polyline points="197.29,143.97 197.59,143.9 197.89,143.77 198.19,143.5 198.49,143.05 198.79,142.4 199.09,141.62 199.39,140.89 199.69,140.4 199.99,140.32 200.29,140.69 200.59,141.36 200.89,142.15 201.19,142.85 201.49,143.37 201.79,143.7 202.09,143.87 202.39,143.95" fill="none" stroke="#e0628c" stroke-width="0.8"/>
<polyline points="200.06,143.96 200.36,143.9 200.66,143.76 200.96,143.49 201.26,143.02 201.56,142.36 201.86,141.56 202.16,140.81 202.46,140.31 202.76,140.23 203.06,140.6 203.36,141.3 203.66,142.1 203.96,142.82 204.26,143.35 204.56,143.69 204.86,143.87 205.16,143.95" fill="none" stroke="#6486d0" stroke-width="0.8"/>
<polyline points="202.84,143.95 203.14,143.87 203.44,143.69 203.74,143.32 204.04,142.71 204.34,141.84 204.64,140.8 204.94,139.8 205.24,139.15 205.54,139.05 205.84,139.53 206.14,140.45 206.44,141.5 206.74,142.45 207.04,143.15 207.34,143.59 207.64,143.82 207.94,143.93" fill="none" stroke="#333333" stroke-width="0.8"/>
<polyline points="205.62,143.97 205.92,143.93 206.22,143.82 206.52,143.61 206.82,143.26 207.12,142.76 207.42,142.16 207.72,141.6 208.02,141.22 208.32,141.16 208.62,141.44 208.92,141.96 209.22,142.57 209.52,143.11 209.82,143.51 210.12,143.76 210.42,143.9 210.72,143.96" fill="none" stroke="#66c08a" stroke-width="0.8"/>
<polyline points="208.23,143.96 208.53,143.89 208.83,143.73 209.13,143.41 209.43,142.87 209.73,142.1 210.03,141.19 210.33,140.32 210.63,139.74 210.93,139.65 211.23,140.08 211.53,140.88 211.83,141.81 212.13,142.64 212.43,143.26 212.73,143.64 213.03,143.85 213.33,143.94" fill="none" stroke="#e0628c" stroke-width="0.8"/>
<polyline points="211.37,143.96 211.67,143.9 211.97,143.76 212.27,143.47 212.57,143 212.87,142.32 213.17,141.5 213.47,140.73 213.77,140.22 214.07,140.14 214.37,140.52 214.67,141.23 214.97,142.05 215.27,142.79 215.57,143.34 215.87,143.68 216.17,143.86 216.47,143.95" fill="none" stroke="#6486d0" stroke-width="0.8"/>
<polyline points="214.22,143.96 214.52,143.9 214.82,143.75 215.12,143.46 215.42,142.97 215.72,142.26 216.02,141.42 216.32,140.63 216.62,140.1 216.92,140.02 217.22,140.41 217.52,141.14 217.82,141.99 218.12,142.75 218.42,143.32 218.72,143.67 219.02,143.86 219.32,143.95" fill="none" stroke="#333333" stroke-width="0.8"/>
<polyline points="217.22,143.97 217.52,143.92 217.82,143.79 218.12,143.55 218.42,143.15 218.72,142.58 219.02,141.89 219.32,141.23 219.62,140.8 219.92,140.73 220.22,141.06 220.52,141.66 220.82,142.35 221.12,142.98 221.42,143.44 221.72,143.73 222.02,143.88 222.32,143.96" fill="none" stroke="#66c08a" stroke-width="0.8"/>
<polyline points="220.13,143.96 220.43,143.9 220.73,143.75 221.03,143.46 221.33,142.96 221.63,142.26 221.93,141.42 222.23,140.62 222.53,140.09 222.83,140 223.13,140.4 223.43,141.13 223.73,141.99 224.03,142.75 224.33,143.32 224.63,143.67 224.93,143.86 225.23,143.95" fill="none" stroke="#6486d0" stroke-width="0.8"/>
<polyline points="223.06,143.97 223.36,143.92 223.66,143.8 223.96,143.57 224.26,143.18 224.56,142.62 224.86,141.95 225.16,141.31 225.46,140.89 225.76,140.82 226.06,141.14 226.36,141.72 226.66,142.4 226.96,143.01 227.26,143.46 227.56,143.74 227.86,143.89 228.16,143.96" fill="none" stroke="#333333" stroke-width="0.8"/>
<polyline points="225.71,143.97 226.01,143.91 226.31,143.78 226.61,143.52 226.91,143.08 227.21,142.46 227.51,141.71 227.81,141 228.11,140.53 228.41,140.46 228.71,140.81 229.01,141.46 229.31,142.21 229.61,142.89 229.91,143.39 230.21,143.71 230.51,143.87 230.81,143.95" fill="none" stroke="#333333" stroke-width="0.8"/>
<polyline points="229.3,143.89 229.6,143.69 229.9,143.25 230.2,142.38 230.5,140.91 230.8,138.81 231.1,136.29 231.4,133.91 231.7,132.33 232,132.08 232.3,133.26 232.6,135.45 232.9,137.99 233.2,140.27 233.5,141.96 233.8,143.01 234.1,143.58 234.4,143.84" fill="none" stroke="#333333" stroke-width="0.8"/>
<rect x="210.6" y="110.3" width="6" height="34.3" fill="none" stroke="#f0ba3c" stroke-width="0.85"/>
<rect x="210.8" y="151.3" width="6.1" height="33.6" fill="#fffaec"/>
<rect x="191.2" y="152.2" width="0.6" height="3.2" fill="#8a8a8a"/>
<rect x="193.85" y="152.2" width="0.6" height="3.2" fill="#8a8a8a"/>
<rect x="196.49" y="152.2" width="0.6" height="3.2" fill="#8a8a8a"/>
<rect x="199.14" y="152.2" width="0.6" height="3.2" fill="#8a8a8a"/>
<rect x="201.79" y="152.2" width="0.6" height="3.2" fill="#8a8a8a"/>
<rect x="204.43" y="152.2" width="0.6" height="3.2" fill="#8a8a8a"/>
<rect x="207.08" y="152.2" width="0.6" height="3.2" fill="#8a8a8a"/>
<rect x="209.73" y="152.2" width="0.6" height="3.2" fill="#8a8a8a"/>
<rect x="212.37" y="152.2" width="0.6" height="3.2" fill="#8a8a8a"/>
<rect x="215.02" y="152.2" width="0.6" height="3.2" fill="#8a8a8a"/>
<rect x="217.67" y="152.2" width="0.6" height="3.2" fill="#8a8a8a"/>
<rect x="220.31" y="152.2" width="0.6" height="3.2" fill="#8a8a8a"/>
<rect x="222.96" y="152.2" width="0.6" height="3.2" fill="#8a8a8a"/>
<rect x="225.61" y="152.2" width="0.6" height="3.2" fill="#8a8a8a"/>
<rect x="228.25" y="152.2" width="0.6" height="3.2" fill="#8a8a8a"/>
<rect x="230.9" y="152.2" width="0.6" height="3.2" fill="#8a8a8a"/>
<text x="191.5" y="158.6" font-size="2.8" fill="#333" text-anchor="middle">g</text>
<text x="194.15" y="158.6" font-size="2.8" fill="#6486d0" text-anchor="middle">c</text>
<text x="196.79" y="158.6" font-size="2.8" fill="#66c08a" text-anchor="middle">a</text>
<text x="199.44" y="158.6" font-size="2.8" fill="#e0628c" text-anchor="middle">T</text>
<text x="202.09" y="158.6" font-size="2.8" fill="#333" text-anchor="middle">G</text>
<text x="204.73" y="158.6" font-size="2.8" fill="#333" text-anchor="middle">G</text>
<text x="207.38" y="158.6" font-size="2.8" fill="#66c08a" text-anchor="middle">A</text>
<text x="210.03" y="158.6" font-size="2.8" fill="#333" text-anchor="middle">G</text>
<text x="212.67" y="158.6" font-size="2.8" fill="#e0628c" text-anchor="middle">T</text>
<text x="215.32" y="158.6" font-size="2.8" fill="#6486d0" text-anchor="middle">c</text>
<text x="217.97" y="158.6" font-size="2.8" fill="#66c08a" text-anchor="middle">A</text>
<text x="220.61" y="158.6" font-size="2.8" fill="#333" text-anchor="middle">G</text>
<text x="223.26" y="158.6" font-size="2.8" fill="#333" text-anchor="middle">G</text>
<text x="225.91" y="158.6" font-size="2.8" fill="#e0628c" text-anchor="middle">T</text>
<text x="228.55" y="158.6" font-size="2.8" fill="#6486d0" text-anchor="middle">c</text>
<text x="231.2" y="158.6" font-size="2.8" fill="#66c08a" text-anchor="middle">a</text>
<text x="192" y="162" font-size="2.8" fill="#444">70</text>
<text x="222" y="162" font-size="2.8" fill="#444">80</text>
<line x1="190.6" y1="184.3" x2="233.8" y2="184.3" stroke="#8a8a9a" stroke-width="0.5"/>
<polyline points="188.7,184.21 189,184.05 189.3,183.68 189.6,182.97 189.9,181.78 190.2,180.06 190.5,178.01 190.8,176.06 191.1,174.77 191.4,174.57 191.7,175.53 192,177.32 192.3,179.4 192.6,181.26 192.9,182.63 193.2,183.49 193.5,183.96 193.8,184.17" fill="none" stroke="#66c08a" stroke-width="0.8"/>
<polyline points="191.61,184.21 191.91,184.05 192.21,183.7 192.51,183.01 192.81,181.84 193.11,180.16 193.41,178.16 193.71,176.26 194.01,175.01 194.31,174.81 194.61,175.75 194.91,177.49 195.21,179.52 195.51,181.33 195.81,182.68 196.11,183.51 196.41,183.96 196.71,184.17" fill="none" stroke="#333333" stroke-width="0.8"/>
<polyline points="194.22,184.22 194.52,184.09 194.82,183.79 195.12,183.2 195.42,182.21 195.72,180.8 196.02,179.1 196.32,177.49 196.62,176.42 196.92,176.26 197.22,177.05 197.52,178.53 197.82,180.25 198.12,181.79 198.42,182.92 198.72,183.63 199.02,184.02 199.32,184.19" fill="none" stroke="#e0628c" stroke-width="0.8"/>
<polyline points="197.26,184.18 197.56,183.98 197.86,183.52 198.16,182.62 198.46,181.11 198.76,178.93 199.06,176.34 199.36,173.87 199.66,172.24 199.96,171.98 200.26,173.2 200.56,175.47 200.86,178.09 201.16,180.45 201.46,182.19 201.76,183.28 202.06,183.86 202.36,184.14" fill="none" stroke="#6486d0" stroke-width="0.8"/>
<polyline points="200.03,184.19 200.33,184 200.63,183.56 200.93,182.7 201.23,181.25 201.53,179.18 201.83,176.7 202.13,174.35 202.43,172.79 202.73,172.55 203.03,173.71 203.33,175.87 203.63,178.38 203.93,180.63 204.23,182.29 204.53,183.33 204.83,183.88 205.13,184.14" fill="none" stroke="#333333" stroke-width="0.8"/>
<polyline points="209.2,184.21 209.5,184.04 209.8,183.66 210.1,182.92 210.4,181.68 210.7,179.9 211,177.77 211.3,175.75 211.6,174.42 211.9,174.21 212.2,175.2 212.5,177.06 212.8,179.21 213.1,181.14 213.4,182.57 213.7,183.46 214,183.94 214.3,184.17" fill="none" stroke="#6486d0" stroke-width="0.8"/>
<polyline points="215.47,184.2 215.77,184.01 216.07,183.59 216.37,182.77 216.67,181.4 216.97,179.42 217.27,177.06 217.57,174.82 217.87,173.34 218.17,173.11 218.47,174.21 218.77,176.27 219.07,178.66 219.37,180.8 219.67,182.38 219.97,183.37 220.27,183.9 220.57,184.15" fill="none" stroke="#66c08a" stroke-width="0.8"/>
<polyline points="218.55,184.2 218.85,184.03 219.15,183.63 219.45,182.86 219.75,181.55 220.05,179.68 220.35,177.45 220.65,175.33 220.95,173.92 221.25,173.7 221.55,174.75 221.85,176.7 222.15,178.96 222.45,180.99 222.75,182.49 223.05,183.42 223.35,183.93 223.65,184.16" fill="none" stroke="#6486d0" stroke-width="0.8"/>
<polyline points="221.33,184.21 221.63,184.06 221.93,183.72 222.23,183.06 222.53,181.93 222.83,180.32 223.13,178.39 223.43,176.57 223.73,175.36 224.03,175.17 224.33,176.07 224.63,177.75 224.93,179.7 225.23,181.44 225.53,182.74 225.83,183.54 226.13,183.98 226.43,184.18" fill="none" stroke="#333333" stroke-width="0.8"/>
<polyline points="224.4,184.22 224.7,184.08 225,183.75 225.3,183.13 225.6,182.06 225.9,180.54 226.2,178.72 226.5,177 226.8,175.86 227.1,175.68 227.4,176.53 227.7,178.11 228,179.95 228.3,181.6 228.6,182.82 228.9,183.59 229.2,184 229.5,184.19" fill="none" stroke="#333333" stroke-width="0.8"/>
<polyline points="203.6,184.13 203.9,183.84 204.2,183.17 204.5,181.86 204.8,179.66 205.1,176.51 205.4,172.74 205.7,169.16 206,166.79 206.3,166.42 206.6,168.19 206.9,171.48 207.2,175.29 207.5,178.71 207.8,181.24 208.1,182.82 208.4,183.67 208.7,184.06" fill="none" stroke="#e0628c" stroke-width="0.8"/>
<polyline points="207.4,184.14 207.7,183.86 208,183.23 208.3,182 208.6,179.92 208.9,176.94 209.2,173.38 209.5,170 209.8,167.76 210.1,167.42 210.4,169.08 210.7,172.19 211,175.79 211.3,179.02 211.6,181.41 211.9,182.9 212.2,183.7 212.5,184.08" fill="none" stroke="#e0628c" stroke-width="0.8"/>
<polyline points="210.9,184.09 211.2,183.71 211.5,182.86 211.8,181.19 212.1,178.38 212.4,174.34 212.7,169.53 213,164.95 213.3,161.93 213.6,161.46 213.9,163.71 214.2,167.91 214.5,172.79 214.8,177.16 215.1,180.39 215.4,182.41 215.7,183.49 216,184" fill="none" stroke="#333333" stroke-width="0.8"/>
<polyline points="228.6,184.12 228.9,183.81 229.2,183.11 229.5,181.73 229.8,179.41 230.1,176.08 230.4,172.1 230.7,168.32 231,165.82 231.3,165.43 231.6,167.29 231.9,170.76 232.2,174.79 232.5,178.4 232.8,181.07 233.1,182.74 233.4,183.63 233.7,184.05" fill="none" stroke="#333333" stroke-width="0.8"/>
<rect x="210.8" y="151.3" width="6.1" height="33.6" fill="none" stroke="#f0ba3c" stroke-width="0.85"/>
<rect x="210.6" y="193.3" width="5.9" height="34" fill="#fffaec"/>
<rect x="191.2" y="194.2" width="0.6" height="3.2" fill="#8a8a8a"/>
<rect x="193.86" y="194.2" width="0.6" height="3.2" fill="#8a8a8a"/>
<rect x="196.52" y="194.2" width="0.6" height="3.2" fill="#8a8a8a"/>
<rect x="199.18" y="194.2" width="0.6" height="3.2" fill="#8a8a8a"/>
<rect x="201.84" y="194.2" width="0.6" height="3.2" fill="#8a8a8a"/>
<rect x="204.5" y="194.2" width="0.6" height="3.2" fill="#8a8a8a"/>
<rect x="207.16" y="194.2" width="0.6" height="3.2" fill="#8a8a8a"/>
<rect x="209.82" y="194.2" width="0.6" height="3.2" fill="#8a8a8a"/>
<rect x="212.48" y="194.2" width="0.6" height="3.2" fill="#8a8a8a"/>
<rect x="215.14" y="194.2" width="0.6" height="3.2" fill="#8a8a8a"/>
<rect x="217.8" y="194.2" width="0.6" height="3.2" fill="#8a8a8a"/>
<rect x="220.46" y="194.2" width="0.6" height="3.2" fill="#8a8a8a"/>
<rect x="223.12" y="194.2" width="0.6" height="3.2" fill="#8a8a8a"/>
<rect x="225.78" y="194.2" width="0.6" height="3.2" fill="#8a8a8a"/>
<rect x="228.44" y="194.2" width="0.6" height="3.2" fill="#8a8a8a"/>
<rect x="231.1" y="194.2" width="0.6" height="3.2" fill="#8a8a8a"/>
<text x="191.5" y="200.6" font-size="2.8" fill="#6486d0" text-anchor="middle">c</text>
<text x="194.16" y="200.6" font-size="2.8" fill="#66c08a" text-anchor="middle">a</text>
<text x="196.82" y="200.6" font-size="2.8" fill="#e0628c" text-anchor="middle">T</text>
<text x="199.48" y="200.6" font-size="2.8" fill="#333" text-anchor="middle">G</text>
<text x="202.14" y="200.6" font-size="2.8" fill="#333" text-anchor="middle">G</text>
<text x="204.8" y="200.6" font-size="2.8" fill="#66c08a" text-anchor="middle">A</text>
<text x="207.46" y="200.6" font-size="2.8" fill="#333" text-anchor="middle">G</text>
<text x="210.12" y="200.6" font-size="2.8" fill="#e0628c" text-anchor="middle">T</text>
<text x="212.78" y="200.6" font-size="2.8" fill="#6486d0" text-anchor="middle">c</text>
<text x="215.44" y="200.6" font-size="2.8" fill="#66c08a" text-anchor="middle">A</text>
<text x="218.1" y="200.6" font-size="2.8" fill="#333" text-anchor="middle">G</text>
<text x="220.76" y="200.6" font-size="2.8" fill="#333" text-anchor="middle">G</text>
<text x="223.42" y="200.6" font-size="2.8" fill="#e0628c" text-anchor="middle">T</text>
<text x="226.08" y="200.6" font-size="2.8" fill="#6486d0" text-anchor="middle">c</text>
<text x="228.74" y="200.6" font-size="2.8" fill="#66c08a" text-anchor="middle">a</text>
<text x="231.4" y="200.6" font-size="2.8" fill="#333" text-anchor="middle">g</text>
<text x="192" y="204" font-size="2.8" fill="#444">70</text>
<text x="225" y="204" font-size="2.8" fill="#444">80</text>
<line x1="190.6" y1="226.7" x2="234" y2="226.7" stroke="#8a8a9a" stroke-width="0.5"/>
<polyline points="188.7,226.59 189,226.41 189.3,225.98 189.6,225.15 189.9,223.76 190.2,221.75 190.5,219.36 190.8,217.09 191.1,215.58 191.4,215.35 191.7,216.47 192,218.56 192.3,220.98 192.6,223.15 192.9,224.76 193.2,225.76 193.5,226.3 193.8,226.55" fill="none" stroke="#333333" stroke-width="0.8"/>
<polyline points="191.71,226.61 192.01,226.45 192.31,226.09 192.61,225.39 192.91,224.21 193.21,222.52 193.51,220.5 193.81,218.58 194.11,217.31 194.41,217.11 194.71,218.05 195.01,219.82 195.31,221.87 195.61,223.7 195.91,225.06 196.21,225.91 196.51,226.36 196.81,226.57" fill="none" stroke="#e0628c" stroke-width="0.8"/>
<polyline points="194.77,226.63 195.07,226.51 195.37,226.24 195.67,225.71 195.97,224.82 196.27,223.55 196.57,222.02 196.87,220.57 197.17,219.61 197.47,219.46 197.77,220.18 198.07,221.51 198.37,223.05 198.67,224.44 198.97,225.46 199.27,226.1 199.57,226.44 199.87,226.6" fill="none" stroke="#6486d0" stroke-width="0.8"/>
<polyline points="197.47,226.62 197.77,226.48 198.07,226.16 198.37,225.54 198.67,224.49 198.97,222.98 199.27,221.18 199.57,219.47 199.87,218.34 200.17,218.16 200.47,219.01 200.77,220.58 201.07,222.4 201.37,224.03 201.67,225.24 201.97,225.99 202.27,226.4 202.57,226.59" fill="none" stroke="#333333" stroke-width="0.8"/>
<polyline points="200.27,226.63 200.57,226.5 200.87,226.2 201.17,225.63 201.47,224.66 201.77,223.26 202.07,221.6 202.37,220.02 202.67,218.98 202.97,218.82 203.27,219.59 203.57,221.04 203.87,222.73 204.17,224.24 204.47,225.35 204.77,226.05 205.07,226.42 205.37,226.59" fill="none" stroke="#66c08a" stroke-width="0.8"/>
<polyline points="205.62,226.59 205.92,226.39 206.22,225.95 206.52,225.08 206.82,223.62 207.12,221.53 207.42,219.03 207.72,216.65 208.02,215.08 208.32,214.84 208.62,216.01 208.92,218.19 209.22,220.72 209.52,222.99 209.82,224.67 210.12,225.72 210.42,226.28 210.72,226.54" fill="none" stroke="#6486d0" stroke-width="0.8"/>
<polyline points="211.76,226.61 212.06,226.45 212.36,226.1 212.66,225.4 212.96,224.22 213.26,222.53 213.56,220.51 213.86,218.6 214.16,217.33 214.46,217.13 214.76,218.08 215.06,219.84 215.36,221.88 215.66,223.71 215.96,225.06 216.26,225.91 216.56,226.36 216.86,226.57" fill="none" stroke="#66c08a" stroke-width="0.8"/>
<polyline points="214.46,226.59 214.76,226.38 215.06,225.93 215.36,225.04 215.66,223.54 215.96,221.39 216.26,218.82 216.56,216.38 216.86,214.76 217.16,214.51 217.46,215.71 217.76,217.96 218.06,220.56 218.36,222.89 218.66,224.61 218.96,225.69 219.26,226.27 219.56,226.54" fill="none" stroke="#6486d0" stroke-width="0.8"/>
<polyline points="217.32,226.6 217.62,226.42 217.92,226.01 218.22,225.21 218.52,223.86 218.82,221.94 219.12,219.63 219.42,217.44 219.72,215.99 220.02,215.77 220.32,216.85 220.62,218.86 220.92,221.19 221.22,223.28 221.52,224.83 221.82,225.79 222.12,226.31 222.42,226.55" fill="none" stroke="#333333" stroke-width="0.8"/>
<polyline points="219.89,226.62 220.19,226.49 220.49,226.19 220.79,225.59 221.09,224.6 221.39,223.17 221.69,221.46 221.99,219.83 222.29,218.76 222.59,218.59 222.89,219.39 223.19,220.88 223.49,222.61 223.79,224.16 224.09,225.31 224.39,226.03 224.69,226.41 224.99,226.59" fill="none" stroke="#333333" stroke-width="0.8"/>
<polyline points="222.94,226.59 223.24,226.41 223.54,225.99 223.84,225.16 224.14,223.77 224.44,221.78 224.74,219.4 225.04,217.13 225.34,215.64 225.64,215.4 225.94,216.52 226.24,218.6 226.54,221.01 226.84,223.17 227.14,224.77 227.44,225.76 227.74,226.3 228.04,226.55" fill="none" stroke="#66c08a" stroke-width="0.8"/>
<polyline points="226.02,226.6 226.32,226.44 226.62,226.05 226.92,225.31 227.22,224.04 227.52,222.24 227.82,220.08 228.12,218.03 228.42,216.67 228.72,216.46 229.02,217.47 229.32,219.36 229.62,221.54 229.92,223.5 230.22,224.95 230.52,225.85 230.82,226.34 231.12,226.56" fill="none" stroke="#6486d0" stroke-width="0.8"/>
<polyline points="204,226.57 204.3,226.33 204.6,225.79 204.9,224.74 205.2,222.97 205.5,220.42 205.8,217.39 206.1,214.5 206.4,212.6 206.7,212.3 207,213.72 207.3,216.37 207.6,219.44 207.9,222.2 208.2,224.23 208.5,225.51 208.8,226.19 209.1,226.51" fill="none" stroke="#e0628c" stroke-width="0.8"/>
<polyline points="207.5,226.55 207.8,226.29 208.1,225.7 208.4,224.53 208.7,222.58 209,219.77 209.3,216.43 209.6,213.24 209.9,211.14 210.2,210.81 210.5,212.38 210.8,215.3 211.1,218.69 211.4,221.73 211.7,223.98 212,225.38 212.3,226.14 212.6,226.49" fill="none" stroke="#333333" stroke-width="0.8"/>
<polyline points="228.8,226.5 229.1,226.16 229.4,225.38 229.7,223.86 230,221.29 230.3,217.61 230.6,213.21 230.9,209.04 231.2,206.27 231.5,205.84 231.8,207.9 232.1,211.74 232.4,216.19 232.7,220.18 233,223.13 233.3,224.97 233.6,225.96 233.9,226.42" fill="none" stroke="#333333" stroke-width="0.8"/>
<rect x="210.6" y="193.3" width="5.9" height="34" fill="none" stroke="#f0ba3c" stroke-width="0.85"/>
<rect x="210.4" y="234.3" width="5.3" height="34" fill="#fffaec"/>
<rect x="191.2" y="235.2" width="0.6" height="3.2" fill="#8a8a8a"/>
<rect x="193.81" y="235.2" width="0.6" height="3.2" fill="#8a8a8a"/>
<rect x="196.43" y="235.2" width="0.6" height="3.2" fill="#8a8a8a"/>
<rect x="199.04" y="235.2" width="0.6" height="3.2" fill="#8a8a8a"/>
<rect x="201.65" y="235.2" width="0.6" height="3.2" fill="#8a8a8a"/>
<rect x="204.27" y="235.2" width="0.6" height="3.2" fill="#8a8a8a"/>
<rect x="206.88" y="235.2" width="0.6" height="3.2" fill="#8a8a8a"/>
<rect x="209.49" y="235.2" width="0.6" height="3.2" fill="#8a8a8a"/>
<rect x="212.11" y="235.2" width="0.6" height="3.2" fill="#8a8a8a"/>
<rect x="214.72" y="235.2" width="0.6" height="3.2" fill="#8a8a8a"/>
<rect x="217.33" y="235.2" width="0.6" height="3.2" fill="#8a8a8a"/>
<rect x="219.95" y="235.2" width="0.6" height="3.2" fill="#8a8a8a"/>
<rect x="222.56" y="235.2" width="0.6" height="3.2" fill="#8a8a8a"/>
<rect x="225.17" y="235.2" width="0.6" height="3.2" fill="#8a8a8a"/>
<rect x="227.79" y="235.2" width="0.6" height="3.2" fill="#8a8a8a"/>
<rect x="230.4" y="235.2" width="0.6" height="3.2" fill="#8a8a8a"/>
<text x="191.5" y="241.6" font-size="2.8" fill="#66c08a" text-anchor="middle">a</text>
<text x="194.11" y="241.6" font-size="2.8" fill="#e0628c" text-anchor="middle">T</text>
<text x="196.73" y="241.6" font-size="2.8" fill="#333" text-anchor="middle">G</text>
<text x="199.34" y="241.6" font-size="2.8" fill="#333" text-anchor="middle">G</text>
<text x="201.95" y="241.6" font-size="2.8" fill="#66c08a" text-anchor="middle">A</text>
<text x="204.57" y="241.6" font-size="2.8" fill="#333" text-anchor="middle">G</text>
<text x="207.18" y="241.6" font-size="2.8" fill="#e0628c" text-anchor="middle">T</text>
<text x="209.79" y="241.6" font-size="2.8" fill="#6486d0" text-anchor="middle">c</text>
<text x="212.41" y="241.6" font-size="2.8" fill="#66c08a" text-anchor="middle">A</text>
<text x="215.02" y="241.6" font-size="2.8" fill="#333" text-anchor="middle">G</text>
<text x="217.63" y="241.6" font-size="2.8" fill="#333" text-anchor="middle">G</text>
<text x="220.25" y="241.6" font-size="2.8" fill="#e0628c" text-anchor="middle">T</text>
<text x="222.86" y="241.6" font-size="2.8" fill="#6486d0" text-anchor="middle">c</text>
<text x="225.47" y="241.6" font-size="2.8" fill="#66c08a" text-anchor="middle">a</text>
<text x="228.09" y="241.6" font-size="2.8" fill="#333" text-anchor="middle">g</text>
<text x="230.7" y="241.6" font-size="2.8" fill="#6486d0" text-anchor="middle">c</text>
<text x="219.5" y="245" font-size="2.8" fill="#444">80</text>
<line x1="190.6" y1="267.7" x2="233.3" y2="267.7" stroke="#8a8a9a" stroke-width="0.5"/>
<polyline points="188.7,267.61 189,267.46 189.3,267.12 189.6,266.46 189.9,265.34 190.2,263.73 190.5,261.81 190.8,259.98 191.1,258.77 191.4,258.59 191.7,259.49 192,261.16 192.3,263.11 192.6,264.85 192.9,266.14 193.2,266.95 193.5,267.38 193.8,267.58" fill="none" stroke="#e0628c" stroke-width="0.8"/>
<polyline points="191.76,267.63 192.06,267.5 192.36,267.21 192.66,266.64 192.96,265.68 193.26,264.31 193.56,262.68 193.86,261.12 194.16,260.09 194.46,259.93 194.76,260.7 195.06,262.13 195.36,263.78 195.66,265.27 195.96,266.37 196.26,267.06 196.56,267.43 196.86,267.6" fill="none" stroke="#6486d0" stroke-width="0.8"/>
<polyline points="194.63,267.63 194.93,267.5 195.23,267.22 195.53,266.66 195.83,265.73 196.13,264.38 196.43,262.78 196.73,261.25 197.03,260.24 197.33,260.09 197.63,260.84 197.93,262.24 198.23,263.86 198.53,265.32 198.83,266.4 199.13,267.07 199.43,267.43 199.73,267.6" fill="none" stroke="#333333" stroke-width="0.8"/>
<polyline points="197.64,267.64 197.94,267.54 198.24,267.3 198.54,266.84 198.84,266.06 199.14,264.95 199.44,263.62 199.74,262.36 200.04,261.52 200.34,261.39 200.64,262.01 200.94,263.18 201.24,264.52 201.54,265.73 201.84,266.62 202.14,267.18 202.44,267.48 202.74,267.62" fill="none" stroke="#66c08a" stroke-width="0.8"/>
<polyline points="200.6,267.6 200.9,267.42 201.2,267.01 201.5,266.21 201.8,264.86 202.1,262.93 202.4,260.62 202.7,258.43 203,256.98 203.3,256.75 203.6,257.83 203.9,259.85 204.2,262.18 204.5,264.28 204.8,265.83 205.1,266.79 205.4,267.31 205.7,267.55" fill="none" stroke="#e0628c" stroke-width="0.8"/>
<polyline points="209.01,267.6 209.31,267.43 209.61,267.04 209.91,266.28 210.21,264.99 210.51,263.15 210.81,260.95 211.11,258.85 211.41,257.47 211.71,257.26 212.01,258.29 212.31,260.21 212.61,262.44 212.91,264.43 213.21,265.91 213.51,266.84 213.81,267.33 214.11,267.56" fill="none" stroke="#66c08a" stroke-width="0.8"/>
<polyline points="217.41,267.6 217.71,267.42 218.01,267.01 218.31,266.21 218.61,264.85 218.91,262.92 219.21,260.61 219.51,258.41 219.81,256.96 220.11,256.73 220.41,257.81 220.71,259.83 221.01,262.17 221.31,264.27 221.61,265.82 221.91,266.79 222.21,267.31 222.51,267.55" fill="none" stroke="#333333" stroke-width="0.8"/>
<polyline points="220.5,267.64 220.8,267.52 221.1,267.26 221.4,266.76 221.7,265.91 222,264.69 222.3,263.23 222.6,261.84 222.9,260.93 223.2,260.79 223.5,261.47 223.8,262.74 224.1,264.22 224.4,265.54 224.7,266.52 225,267.13 225.3,267.46 225.6,267.61" fill="none" stroke="#66c08a" stroke-width="0.8"/>
<polyline points="223.11,267.64 223.41,267.53 223.71,267.28 224.01,266.78 224.31,265.96 224.61,264.77 224.91,263.36 225.21,262.01 225.51,261.12 225.81,260.98 226.11,261.64 226.41,262.88 226.71,264.31 227.01,265.6 227.31,266.55 227.61,267.14 227.91,267.46 228.21,267.61" fill="none" stroke="#6486d0" stroke-width="0.8"/>
<polyline points="204,267.53 204.3,267.24 204.6,266.57 204.9,265.26 205.2,263.06 205.5,259.91 205.8,256.14 206.1,252.56 206.4,250.19 206.7,249.82 207,251.59 207.3,254.88 207.6,258.69 207.9,262.11 208.2,264.64 208.5,266.22 208.8,267.07 209.1,267.46" fill="none" stroke="#e0628c" stroke-width="0.8"/>
<polyline points="207,267.53 207.3,267.24 207.6,266.57 207.9,265.26 208.2,263.06 208.5,259.91 208.8,256.14 209.1,252.56 209.4,250.19 209.7,249.82 210,251.59 210.3,254.88 210.6,258.69 210.9,262.11 211.2,264.64 211.5,266.22 211.8,267.07 212.1,267.46" fill="none" stroke="#e0628c" stroke-width="0.8"/>
<polyline points="210.9,267.57 211.2,267.34 211.5,266.82 211.8,265.81 212.1,264.09 212.4,261.64 212.7,258.71 213,255.92 213.3,254.08 213.6,253.8 213.9,255.17 214.2,257.73 214.5,260.69 214.8,263.35 215.1,265.32 215.4,266.55 215.7,267.21 216,267.51" fill="none" stroke="#333333" stroke-width="0.8"/>
<polyline points="214.8,267.57 215.1,267.34 215.4,266.82 215.7,265.81 216,264.09 216.3,261.64 216.6,258.71 216.9,255.92 217.2,254.08 217.5,253.8 217.8,255.17 218.1,257.73 218.4,260.69 218.7,263.35 219,265.32 219.3,266.55 219.6,267.21 219.9,267.51" fill="none" stroke="#333333" stroke-width="0.8"/>
<polyline points="228.1,267.51 228.4,267.19 228.7,266.44 229,264.99 229.3,262.55 229.6,259.04 229.9,254.86 230.2,250.88 230.5,248.25 230.8,247.84 231.1,249.8 231.4,253.45 231.7,257.69 232,261.49 232.3,264.3 232.6,266.06 232.9,267 233.2,267.44" fill="none" stroke="#333333" stroke-width="0.8"/>
<rect x="210.4" y="234.3" width="5.3" height="34" fill="none" stroke="#f0ba3c" stroke-width="0.85"/>
<rect x="212.3" y="276.3" width="5.3" height="34" fill="#fffaec"/>
<rect x="191.2" y="277.2" width="0.6" height="3.2" fill="#8a8a8a"/>
<rect x="193.99" y="277.2" width="0.6" height="3.2" fill="#8a8a8a"/>
<rect x="196.77" y="277.2" width="0.6" height="3.2" fill="#8a8a8a"/>
<rect x="199.56" y="277.2" width="0.6" height="3.2" fill="#8a8a8a"/>
<rect x="202.35" y="277.2" width="0.6" height="3.2" fill="#8a8a8a"/>
<rect x="205.13" y="277.2" width="0.6" height="3.2" fill="#8a8a8a"/>
<rect x="207.92" y="277.2" width="0.6" height="3.2" fill="#8a8a8a"/>
<rect x="210.71" y="277.2" width="0.6" height="3.2" fill="#8a8a8a"/>
<rect x="213.49" y="277.2" width="0.6" height="3.2" fill="#8a8a8a"/>
<rect x="216.28" y="277.2" width="0.6" height="3.2" fill="#8a8a8a"/>
<rect x="219.07" y="277.2" width="0.6" height="3.2" fill="#8a8a8a"/>
<rect x="221.85" y="277.2" width="0.6" height="3.2" fill="#8a8a8a"/>
<rect x="224.64" y="277.2" width="0.6" height="3.2" fill="#8a8a8a"/>
<rect x="227.43" y="277.2" width="0.6" height="3.2" fill="#8a8a8a"/>
<rect x="230.21" y="277.2" width="0.6" height="3.2" fill="#8a8a8a"/>
<rect x="233" y="277.2" width="0.6" height="3.2" fill="#8a8a8a"/>
<text x="191.5" y="283.6" font-size="2.8" fill="#e0628c" text-anchor="middle">T</text>
<text x="194.29" y="283.6" font-size="2.8" fill="#333" text-anchor="middle">G</text>
<text x="197.07" y="283.6" font-size="2.8" fill="#333" text-anchor="middle">G</text>
<text x="199.86" y="283.6" font-size="2.8" fill="#66c08a" text-anchor="middle">A</text>
<text x="202.65" y="283.6" font-size="2.8" fill="#333" text-anchor="middle">G</text>
<text x="205.43" y="283.6" font-size="2.8" fill="#e0628c" text-anchor="middle">T</text>
<text x="208.22" y="283.6" font-size="2.8" fill="#6486d0" text-anchor="middle">c</text>
<text x="211.01" y="283.6" font-size="2.8" fill="#66c08a" text-anchor="middle">A</text>
<text x="213.79" y="283.6" font-size="2.8" fill="#333" text-anchor="middle">G</text>
<text x="216.58" y="283.6" font-size="2.8" fill="#333" text-anchor="middle">G</text>
<text x="219.37" y="283.6" font-size="2.8" fill="#e0628c" text-anchor="middle">T</text>
<text x="222.15" y="283.6" font-size="2.8" fill="#6486d0" text-anchor="middle">c</text>
<text x="224.94" y="283.6" font-size="2.8" fill="#66c08a" text-anchor="middle">a</text>
<text x="227.73" y="283.6" font-size="2.8" fill="#333" text-anchor="middle">g</text>
<text x="230.51" y="283.6" font-size="2.8" fill="#6486d0" text-anchor="middle">c</text>
<text x="233.3" y="283.6" font-size="2.8" fill="#66c08a" text-anchor="middle">a</text>
<text x="191.5" y="287" font-size="2.8" fill="#444">70</text>
<text x="225" y="287" font-size="2.8" fill="#444">80</text>
<line x1="190.6" y1="309.7" x2="235.9" y2="309.7" stroke="#8a8a9a" stroke-width="0.5"/>
<polyline points="188.7,309.66 189,309.58 189.3,309.4 189.6,309.06 189.9,308.48 190.2,307.65 190.5,306.66 190.8,305.72 191.1,305.1 191.4,305 191.7,305.47 192,306.33 192.3,307.33 192.6,308.23 192.9,308.9 193.2,309.31 193.5,309.53 193.8,309.64" fill="none" stroke="#6486d0" stroke-width="0.8"/>
<polyline points="191.33,309.65 191.63,309.55 191.93,309.33 192.23,308.9 192.53,308.18 192.83,307.15 193.13,305.92 193.43,304.75 193.73,303.98 194.03,303.86 194.33,304.43 194.63,305.51 194.93,306.75 195.23,307.87 195.53,308.7 195.83,309.22 196.13,309.49 196.43,309.62" fill="none" stroke="#333333" stroke-width="0.8"/>
<polyline points="194.28,309.66 194.58,309.6 194.88,309.46 195.18,309.18 195.48,308.71 195.78,308.03 196.08,307.23 196.38,306.46 196.68,305.96 196.98,305.88 197.28,306.26 197.58,306.96 197.88,307.77 198.18,308.51 198.48,309.05 198.78,309.38 199.08,309.56 199.38,309.65" fill="none" stroke="#66c08a" stroke-width="0.8"/>
<polyline points="197.15,309.66 197.45,309.59 197.75,309.42 198.05,309.11 198.35,308.57 198.65,307.8 198.95,306.88 199.25,306.01 199.55,305.43 199.85,305.34 200.15,305.77 200.45,306.57 200.75,307.5 201.05,308.34 201.35,308.95 201.65,309.34 201.95,309.55 202.25,309.64" fill="none" stroke="#e0628c" stroke-width="0.8"/>
<polyline points="200,309.66 200.3,309.59 200.6,309.44 200.9,309.14 201.2,308.64 201.5,307.92 201.8,307.06 202.1,306.25 202.4,305.71 202.7,305.62 203,306.03 203.3,306.78 203.6,307.65 203.9,308.43 204.2,309 204.5,309.36 204.8,309.56 205.1,309.65" fill="none" stroke="#6486d0" stroke-width="0.8"/>
<polyline points="202.65,309.66 202.95,309.6 203.25,309.45 203.55,309.16 203.85,308.67 204.15,307.97 204.45,307.13 204.75,306.33 205.05,305.8 205.35,305.72 205.65,306.11 205.95,306.85 206.25,307.69 206.55,308.46 206.85,309.02 207.15,309.37 207.45,309.56 207.75,309.65" fill="none" stroke="#333333" stroke-width="0.8"/>
<polyline points="205.42,309.65 205.72,309.56 206.02,309.36 206.32,308.96 206.62,308.3 206.92,307.34 207.22,306.2 207.52,305.11 207.82,304.4 208.12,304.29 208.42,304.82 208.72,305.82 209.02,306.97 209.32,308.01 209.62,308.77 209.92,309.25 210.22,309.51 210.52,309.63" fill="none" stroke="#66c08a" stroke-width="0.8"/>
<polyline points="213.86,309.65 214.16,309.55 214.46,309.33 214.76,308.9 215.06,308.18 215.36,307.14 215.66,305.91 215.96,304.73 216.26,303.96 216.56,303.84 216.86,304.42 217.16,305.49 217.46,306.75 217.76,307.87 218.06,308.7 218.36,309.21 218.66,309.49 218.96,309.62" fill="none" stroke="#333333" stroke-width="0.8"/>
<polyline points="216.87,309.65 217.17,309.55 217.47,309.34 217.77,308.93 218.07,308.24 218.37,307.24 218.67,306.06 218.97,304.93 219.27,304.18 219.57,304.06 219.87,304.62 220.17,305.66 220.47,306.86 220.77,307.94 221.07,308.74 221.37,309.23 221.67,309.5 221.97,309.62" fill="none" stroke="#66c08a" stroke-width="0.8"/>
<polyline points="219.43,309.66 219.73,309.58 220.03,309.4 220.33,309.05 220.63,308.47 220.93,307.63 221.23,306.63 221.53,305.68 221.83,305.05 222.13,304.96 222.43,305.42 222.73,306.3 223.03,307.31 223.33,308.22 223.63,308.89 223.93,309.31 224.23,309.53 224.53,309.64" fill="none" stroke="#6486d0" stroke-width="0.8"/>
<polyline points="222.02,309.65 222.32,309.56 222.62,309.35 222.92,308.94 223.22,308.26 223.52,307.28 223.82,306.1 224.12,304.99 224.42,304.25 224.72,304.14 225.02,304.69 225.32,305.71 225.62,306.9 225.92,307.96 226.22,308.75 226.52,309.24 226.82,309.5 227.12,309.63" fill="none" stroke="#66c08a" stroke-width="0.8"/>
<polyline points="224.67,309.65 224.97,309.56 225.27,309.36 225.57,308.96 225.87,308.29 226.17,307.34 226.47,306.2 226.77,305.11 227.07,304.39 227.37,304.28 227.67,304.82 227.97,305.81 228.27,306.97 228.57,308.01 228.87,308.77 229.17,309.25 229.47,309.51 229.77,309.63" fill="none" stroke="#333333" stroke-width="0.8"/>
<polyline points="227.37,309.65 227.67,309.56 227.97,309.36 228.27,308.97 228.57,308.3 228.87,307.36 229.17,306.22 229.47,305.14 229.77,304.43 230.07,304.32 230.37,304.85 230.67,305.84 230.97,306.99 231.27,308.02 231.57,308.78 231.87,309.25 232.17,309.51 232.47,309.63" fill="none" stroke="#e0628c" stroke-width="0.8"/>
<polyline points="207.9,309.63 208.2,309.52 208.5,309.26 208.8,308.75 209.1,307.9 209.4,306.67 209.7,305.2 210,303.81 210.3,302.89 210.6,302.75 210.9,303.43 211.2,304.71 211.5,306.2 211.8,307.53 212.1,308.51 212.4,309.12 212.7,309.45 213,309.61" fill="none" stroke="#e0628c" stroke-width="0.8"/>
<polyline points="211.9,309.63 212.2,309.52 212.5,309.26 212.8,308.75 213.1,307.9 213.4,306.67 213.7,305.2 214,303.81 214.3,302.89 214.6,302.75 214.9,303.43 215.2,304.71 215.5,306.2 215.8,307.53 216.1,308.51 216.4,309.12 216.7,309.45 217,309.61" fill="none" stroke="#333333" stroke-width="0.8"/>
<polyline points="230.7,309.58 231,309.38 231.3,308.92 231.6,308.01 231.9,306.48 232.2,304.29 232.5,301.67 232.8,299.19 233.1,297.54 233.4,297.29 233.7,298.51 234,300.79 234.3,303.44 234.6,305.82 234.9,307.57 235.2,308.67 235.5,309.26 235.8,309.53" fill="none" stroke="#333333" stroke-width="0.8"/>
<rect x="212.3" y="276.3" width="5.3" height="34" fill="none" stroke="#f0ba3c" stroke-width="0.85"/>
<rect x="211.7" y="317.3" width="5.9" height="34" fill="#fffaec"/>
<rect x="191.2" y="318.2" width="0.6" height="3.2" fill="#8a8a8a"/>
<rect x="193.91" y="318.2" width="0.6" height="3.2" fill="#8a8a8a"/>
<rect x="196.61" y="318.2" width="0.6" height="3.2" fill="#8a8a8a"/>
<rect x="199.32" y="318.2" width="0.6" height="3.2" fill="#8a8a8a"/>
<rect x="202.03" y="318.2" width="0.6" height="3.2" fill="#8a8a8a"/>
<rect x="204.73" y="318.2" width="0.6" height="3.2" fill="#8a8a8a"/>
<rect x="207.44" y="318.2" width="0.6" height="3.2" fill="#8a8a8a"/>
<rect x="210.15" y="318.2" width="0.6" height="3.2" fill="#8a8a8a"/>
<rect x="212.85" y="318.2" width="0.6" height="3.2" fill="#8a8a8a"/>
<rect x="215.56" y="318.2" width="0.6" height="3.2" fill="#8a8a8a"/>
<rect x="218.27" y="318.2" width="0.6" height="3.2" fill="#8a8a8a"/>
<rect x="220.97" y="318.2" width="0.6" height="3.2" fill="#8a8a8a"/>
<rect x="223.68" y="318.2" width="0.6" height="3.2" fill="#8a8a8a"/>
<rect x="226.39" y="318.2" width="0.6" height="3.2" fill="#8a8a8a"/>
<rect x="229.09" y="318.2" width="0.6" height="3.2" fill="#8a8a8a"/>
<rect x="231.8" y="318.2" width="0.6" height="3.2" fill="#8a8a8a"/>
<text x="191.5" y="324.6" font-size="2.8" fill="#333" text-anchor="middle">G</text>
<text x="194.21" y="324.6" font-size="2.8" fill="#333" text-anchor="middle">G</text>
<text x="196.91" y="324.6" font-size="2.8" fill="#66c08a" text-anchor="middle">A</text>
<text x="199.62" y="324.6" font-size="2.8" fill="#333" text-anchor="middle">G</text>
<text x="202.33" y="324.6" font-size="2.8" fill="#e0628c" text-anchor="middle">T</text>
<text x="205.03" y="324.6" font-size="2.8" fill="#6486d0" text-anchor="middle">c</text>
<text x="207.74" y="324.6" font-size="2.8" fill="#66c08a" text-anchor="middle">A</text>
<text x="210.45" y="324.6" font-size="2.8" fill="#333" text-anchor="middle">G</text>
<text x="213.15" y="324.6" font-size="2.8" fill="#333" text-anchor="middle">G</text>
<text x="215.86" y="324.6" font-size="2.8" fill="#e0628c" text-anchor="middle">T</text>
<text x="218.57" y="324.6" font-size="2.8" fill="#6486d0" text-anchor="middle">c</text>
<text x="221.27" y="324.6" font-size="2.8" fill="#66c08a" text-anchor="middle">a</text>
<text x="223.98" y="324.6" font-size="2.8" fill="#333" text-anchor="middle">g</text>
<text x="226.69" y="324.6" font-size="2.8" fill="#6486d0" text-anchor="middle">c</text>
<text x="229.39" y="324.6" font-size="2.8" fill="#66c08a" text-anchor="middle">a</text>
<text x="232.1" y="324.6" font-size="2.8" fill="#e0628c" text-anchor="middle">T</text>
<text x="218.5" y="328" font-size="2.8" fill="#444">80</text>
<line x1="190.6" y1="350.7" x2="234.7" y2="350.7" stroke="#8a8a9a" stroke-width="0.5"/>
<polyline points="188.7,350.65 189,350.55 189.3,350.34 189.6,349.92 189.9,349.21 190.2,348.2 190.5,346.99 190.8,345.83 191.1,345.07 191.4,344.96 191.7,345.52 192,346.58 192.3,347.8 192.6,348.9 192.9,349.72 193.2,350.22 193.5,350.5 193.8,350.62" fill="none" stroke="#333333" stroke-width="0.8"/>
<polyline points="191.48,350.64 191.78,350.52 192.08,350.26 192.38,349.76 192.68,348.91 192.98,347.69 193.28,346.23 193.58,344.84 193.88,343.93 194.18,343.79 194.48,344.47 194.78,345.74 195.08,347.22 195.38,348.54 195.68,349.52 195.98,350.13 196.28,350.46 196.58,350.61" fill="none" stroke="#66c08a" stroke-width="0.8"/>
<polyline points="194.57,350.64 194.87,350.52 195.17,350.27 195.47,349.77 195.77,348.92 196.07,347.71 196.37,346.27 196.67,344.9 196.97,343.99 197.27,343.85 197.57,344.52 197.87,345.79 198.17,347.25 198.47,348.56 198.77,349.53 199.07,350.13 199.37,350.46 199.67,350.61" fill="none" stroke="#e0628c" stroke-width="0.8"/>
<polyline points="197.43,350.63 197.73,350.49 198.03,350.2 198.33,349.62 198.63,348.63 198.93,347.23 199.23,345.55 199.53,343.96 199.83,342.9 200.13,342.74 200.43,343.52 200.73,344.99 201.03,346.69 201.33,348.21 201.63,349.34 201.93,350.04 202.23,350.42 202.53,350.59" fill="none" stroke="#6486d0" stroke-width="0.8"/>
<polyline points="200.54,350.64 200.84,350.54 201.14,350.32 201.44,349.88 201.74,349.15 202.04,348.09 202.34,346.83 202.64,345.62 202.94,344.83 203.24,344.71 203.54,345.3 203.84,346.4 204.14,347.68 204.44,348.83 204.74,349.67 205.04,350.2 205.34,350.49 205.64,350.62" fill="none" stroke="#333333" stroke-width="0.8"/>
<polyline points="203.46,350.63 203.76,350.5 204.06,350.21 204.36,349.64 204.66,348.68 204.96,347.31 205.26,345.67 205.56,344.11 205.86,343.08 206.16,342.92 206.46,343.69 206.76,345.12 207.06,346.78 207.36,348.27 207.66,349.37 207.96,350.06 208.26,350.42 208.56,350.6" fill="none" stroke="#66c08a" stroke-width="0.8"/>
<polyline points="206.45,350.61 206.75,350.45 207.05,350.08 207.35,349.37 207.65,348.16 207.95,346.43 208.25,344.37 208.55,342.41 208.85,341.11 209.15,340.91 209.45,341.88 209.75,343.68 210.05,345.77 210.35,347.64 210.65,349.02 210.95,349.89 211.25,350.35 211.55,350.57" fill="none" stroke="#6486d0" stroke-width="0.8"/>
<polyline points="212.15,350.63 212.45,350.5 212.75,350.2 213.05,349.63 213.35,348.66 213.65,347.27 213.95,345.62 214.25,344.04 214.55,343 214.85,342.84 215.15,343.62 215.45,345.06 215.75,346.74 216.05,348.24 216.35,349.35 216.65,350.05 216.95,350.42 217.25,350.6" fill="none" stroke="#333333" stroke-width="0.8"/>
<polyline points="215.04,350.65 215.34,350.55 215.64,350.33 215.94,349.9 216.24,349.19 216.54,348.15 216.84,346.92 217.14,345.75 217.44,344.98 217.74,344.86 218.04,345.44 218.34,346.51 218.64,347.76 218.94,348.87 219.24,349.7 219.54,350.22 219.84,350.49 220.14,350.62" fill="none" stroke="#66c08a" stroke-width="0.8"/>
<polyline points="218.08,350.61 218.38,350.45 218.68,350.08 218.98,349.36 219.28,348.15 219.58,346.42 219.88,344.34 220.18,342.37 220.48,341.07 220.78,340.87 221.08,341.84 221.38,343.65 221.68,345.75 221.98,347.63 222.28,349.02 222.58,349.89 222.88,350.35 223.18,350.57" fill="none" stroke="#6486d0" stroke-width="0.8"/>
<polyline points="220.84,350.63 221.14,350.52 221.44,350.26 221.74,349.75 222.04,348.9 222.34,347.67 222.64,346.21 222.94,344.81 223.24,343.89 223.54,343.75 223.84,344.43 224.14,345.71 224.44,347.2 224.74,348.53 225.04,349.51 225.34,350.12 225.64,350.45 225.94,350.61" fill="none" stroke="#66c08a" stroke-width="0.8"/>
<polyline points="223.99,350.64 224.29,350.54 224.59,350.32 224.89,349.88 225.19,349.14 225.49,348.07 225.79,346.8 226.09,345.59 226.39,344.79 226.69,344.67 226.99,345.26 227.29,346.37 227.59,347.66 227.89,348.81 228.19,349.67 228.49,350.2 228.79,350.49 229.09,350.62" fill="none" stroke="#333333" stroke-width="0.8"/>
<polyline points="226.58,350.64 226.88,350.55 227.18,350.33 227.48,349.9 227.78,349.17 228.08,348.14 228.38,346.9 228.68,345.72 228.98,344.94 229.28,344.82 229.58,345.4 229.88,346.48 230.18,347.74 230.48,348.86 230.78,349.69 231.08,350.21 231.38,350.49 231.68,350.62" fill="none" stroke="#e0628c" stroke-width="0.8"/>
<polyline points="208.2,350.58 208.5,350.37 208.8,349.88 209.1,348.94 209.4,347.35 209.7,345.07 210,342.35 210.3,339.77 210.6,338.05 210.9,337.79 211.2,339.06 211.5,341.44 211.8,344.19 212.1,346.66 212.4,348.49 212.7,349.63 213,350.24 213.3,350.53" fill="none" stroke="#e0628c" stroke-width="0.8"/>
<polyline points="229.5,350.48 229.8,350.08 230.1,349.19 230.4,347.45 230.7,344.52 231,340.31 231.3,335.29 231.6,330.51 231.9,327.36 232.2,326.87 232.5,329.22 232.8,333.6 233.1,338.69 233.4,343.25 233.7,346.62 234,348.73 234.3,349.86 234.6,350.38" fill="none" stroke="#333333" stroke-width="0.8"/>
<rect x="211.7" y="317.3" width="5.9" height="34" fill="none" stroke="#f0ba3c" stroke-width="0.85"/>
<rect x="212.3" y="360.3" width="6.1" height="34" fill="#fffaec"/>
<rect x="191.2" y="361.2" width="0.6" height="3.2" fill="#8a8a8a"/>
<rect x="194.05" y="361.2" width="0.6" height="3.2" fill="#8a8a8a"/>
<rect x="196.91" y="361.2" width="0.6" height="3.2" fill="#8a8a8a"/>
<rect x="199.76" y="361.2" width="0.6" height="3.2" fill="#8a8a8a"/>
<rect x="202.61" y="361.2" width="0.6" height="3.2" fill="#8a8a8a"/>
<rect x="205.47" y="361.2" width="0.6" height="3.2" fill="#8a8a8a"/>
<rect x="208.32" y="361.2" width="0.6" height="3.2" fill="#8a8a8a"/>
<rect x="211.17" y="361.2" width="0.6" height="3.2" fill="#8a8a8a"/>
<rect x="214.03" y="361.2" width="0.6" height="3.2" fill="#8a8a8a"/>
<rect x="216.88" y="361.2" width="0.6" height="3.2" fill="#8a8a8a"/>
<rect x="219.73" y="361.2" width="0.6" height="3.2" fill="#8a8a8a"/>
<rect x="222.59" y="361.2" width="0.6" height="3.2" fill="#8a8a8a"/>
<rect x="225.44" y="361.2" width="0.6" height="3.2" fill="#8a8a8a"/>
<rect x="228.29" y="361.2" width="0.6" height="3.2" fill="#8a8a8a"/>
<rect x="231.15" y="361.2" width="0.6" height="3.2" fill="#8a8a8a"/>
<rect x="234" y="361.2" width="0.6" height="3.2" fill="#8a8a8a"/>
<text x="191.5" y="367.6" font-size="2.8" fill="#333" text-anchor="middle">G</text>
<text x="194.35" y="367.6" font-size="2.8" fill="#66c08a" text-anchor="middle">A</text>
<text x="197.21" y="367.6" font-size="2.8" fill="#333" text-anchor="middle">G</text>
<text x="200.06" y="367.6" font-size="2.8" fill="#e0628c" text-anchor="middle">T</text>
<text x="202.91" y="367.6" font-size="2.8" fill="#6486d0" text-anchor="middle">c</text>
<text x="205.77" y="367.6" font-size="2.8" fill="#66c08a" text-anchor="middle">A</text>
<text x="208.62" y="367.6" font-size="2.8" fill="#333" text-anchor="middle">G</text>
<text x="211.47" y="367.6" font-size="2.8" fill="#333" text-anchor="middle">G</text>
<text x="214.33" y="367.6" font-size="2.8" fill="#e0628c" text-anchor="middle">T</text>
<text x="217.18" y="367.6" font-size="2.8" fill="#6486d0" text-anchor="middle">c</text>
<text x="220.03" y="367.6" font-size="2.8" fill="#66c08a" text-anchor="middle">a</text>
<text x="222.89" y="367.6" font-size="2.8" fill="#333" text-anchor="middle">g</text>
<text x="225.74" y="367.6" font-size="2.8" fill="#6486d0" text-anchor="middle">c</text>
<text x="228.59" y="367.6" font-size="2.8" fill="#66c08a" text-anchor="middle">a</text>
<text x="231.45" y="367.6" font-size="2.8" fill="#e0628c" text-anchor="middle">T</text>
<text x="234.3" y="367.6" font-size="2.8" fill="#333" text-anchor="middle">G</text>
<text x="195" y="371" font-size="2.8" fill="#444">70</text>
<text x="229.5" y="371" font-size="2.8" fill="#444">80</text>
<line x1="190.6" y1="393.7" x2="236.9" y2="393.7" stroke="#8a8a9a" stroke-width="0.5"/>
<polyline points="188.7,393.6 189,393.41 189.3,393 189.6,392.19 189.9,390.82 190.2,388.86 190.5,386.52 190.8,384.3 191.1,382.83 191.4,382.6 191.7,383.69 192,385.74 192.3,388.1 192.6,390.23 192.9,391.8 193.2,392.78 193.5,393.31 193.8,393.55" fill="none" stroke="#66c08a" stroke-width="0.8"/>
<polyline points="191.52,393.6 191.82,393.43 192.12,393.05 192.42,392.29 192.72,391.02 193.02,389.19 193.32,387.01 193.62,384.94 193.92,383.57 194.22,383.35 194.52,384.37 194.82,386.28 195.12,388.49 195.42,390.47 195.72,391.93 196.02,392.84 196.32,393.33 196.62,393.56" fill="none" stroke="#e0628c" stroke-width="0.8"/>
<polyline points="194.08,393.6 194.38,393.43 194.68,393.04 194.98,392.27 195.28,390.98 195.58,389.14 195.88,386.93 196.18,384.83 196.48,383.44 196.78,383.23 197.08,384.26 197.38,386.19 197.68,388.42 197.98,390.43 198.28,391.91 198.58,392.83 198.88,393.33 199.18,393.56" fill="none" stroke="#6486d0" stroke-width="0.8"/>
<polyline points="196.9,393.61 197.2,393.45 197.5,393.08 197.8,392.37 198.1,391.16 198.4,389.44 198.7,387.38 199,385.42 199.3,384.12 199.6,383.92 199.9,384.89 200.2,386.69 200.5,388.77 200.8,390.64 201.1,392.03 201.4,392.89 201.7,393.35 202,393.57" fill="none" stroke="#333333" stroke-width="0.8"/>
<polyline points="199.68,393.61 199.98,393.46 200.28,393.12 200.58,392.45 200.88,391.33 201.18,389.71 201.48,387.79 201.78,385.95 202.08,384.74 202.38,384.56 202.68,385.46 202.98,387.14 203.28,389.09 203.58,390.84 203.88,392.13 204.18,392.94 204.48,393.38 204.78,393.58" fill="none" stroke="#66c08a" stroke-width="0.8"/>
<polyline points="202.37,393.63 202.67,393.51 202.97,393.24 203.27,392.72 203.57,391.83 203.87,390.55 204.17,389.03 204.47,387.59 204.77,386.63 205.07,386.48 205.37,387.19 205.67,388.52 205.97,390.06 206.27,391.44 206.57,392.46 206.87,393.1 207.17,393.44 207.47,393.6" fill="none" stroke="#6486d0" stroke-width="0.8"/>
<polyline points="205.18,393.62 205.48,393.49 205.78,393.18 206.08,392.57 206.38,391.55 206.68,390.08 206.98,388.33 207.28,386.67 207.58,385.57 207.88,385.4 208.18,386.22 208.48,387.75 208.78,389.52 209.08,391.1 209.38,392.28 209.68,393.01 209.98,393.41 210.28,393.59" fill="none" stroke="#333333" stroke-width="0.8"/>
<polyline points="214.17,393.61 214.47,393.46 214.77,393.1 215.07,392.41 215.37,391.25 215.67,389.58 215.97,387.59 216.27,385.7 216.57,384.45 216.87,384.26 217.17,385.19 217.47,386.93 217.77,388.94 218.07,390.75 218.37,392.08 218.67,392.92 218.97,393.37 219.27,393.57" fill="none" stroke="#6486d0" stroke-width="0.8"/>
<polyline points="216.86,393.62 217.16,393.47 217.46,393.13 217.76,392.47 218.06,391.35 218.36,389.75 218.66,387.84 218.96,386.03 219.26,384.83 219.56,384.64 219.86,385.54 220.16,387.2 220.46,389.14 220.76,390.87 221.06,392.15 221.36,392.95 221.66,393.38 221.96,393.58" fill="none" stroke="#66c08a" stroke-width="0.8"/>
<polyline points="219.71,393.6 220.01,393.43 220.31,393.04 220.61,392.28 220.91,391 221.21,389.17 221.51,386.97 221.81,384.89 222.11,383.51 222.41,383.3 222.71,384.32 223.01,386.24 223.31,388.46 223.61,390.45 223.91,391.92 224.21,392.84 224.51,393.33 224.81,393.56" fill="none" stroke="#333333" stroke-width="0.8"/>
<polyline points="222.83,393.63 223.13,393.51 223.43,393.23 223.73,392.69 224.03,391.78 224.33,390.47 224.63,388.9 224.93,387.42 225.23,386.43 225.53,386.28 225.83,387.01 226.13,388.38 226.43,389.96 226.73,391.38 227.03,392.43 227.33,393.09 227.63,393.44 227.93,393.6" fill="none" stroke="#e0628c" stroke-width="0.8"/>
<polyline points="225.67,393.61 225.97,393.45 226.27,393.09 226.57,392.39 226.87,391.2 227.17,389.5 227.47,387.47 227.77,385.54 228.07,384.26 228.37,384.06 228.67,385.01 228.97,386.79 229.27,388.84 229.57,390.69 229.87,392.05 230.17,392.9 230.47,393.36 230.77,393.57" fill="none" stroke="#6486d0" stroke-width="0.8"/>
<polyline points="228.65,393.59 228.95,393.39 229.25,392.95 229.55,392.09 229.85,390.64 230.15,388.55 230.45,386.06 230.75,383.69 231.05,382.13 231.35,381.88 231.65,383.05 231.95,385.22 232.25,387.74 232.55,390.01 232.85,391.68 233.15,392.72 233.45,393.28 233.75,393.54" fill="none" stroke="#333333" stroke-width="0.8"/>
<polyline points="207.9,393.59 208.2,393.39 208.5,392.95 208.8,392.08 209.1,390.61 209.4,388.51 209.7,385.99 210,383.61 210.3,382.03 210.6,381.78 210.9,382.96 211.2,385.15 211.5,387.69 211.8,389.97 212.1,391.66 212.4,392.71 212.7,393.28 213,393.54" fill="none" stroke="#e0628c" stroke-width="0.8"/>
<polyline points="211.4,393.6 211.7,393.42 212,393.01 212.3,392.21 212.6,390.87 212.9,388.94 213.2,386.64 213.5,384.45 213.8,383 214.1,382.78 214.4,383.85 214.7,385.86 215,388.19 215.3,390.28 215.6,391.83 215.9,392.8 216.2,393.31 216.5,393.55" fill="none" stroke="#333333" stroke-width="0.8"/>
<polyline points="231.7,393.47 232,393.06 232.3,392.13 232.6,390.32 232.9,387.26 233.2,382.88 233.5,377.65 233.8,372.67 234.1,369.38 234.4,368.87 234.7,371.32 235,375.89 235.3,381.19 235.6,385.94 235.9,389.45 236.2,391.64 236.5,392.82 236.8,393.37" fill="none" stroke="#333333" stroke-width="0.8"/>
<rect x="212.3" y="360.3" width="6.1" height="34" fill="none" stroke="#f0ba3c" stroke-width="0.85"/>
<line x1="145.8" y1="28.3" x2="145.8" y2="394.8" stroke="#505050" stroke-width="1.6" stroke-dasharray="4.3 3.05" stroke-dashoffset="2.5"/>
<text x="11.4" y="15.7" font-size="10.6" fill="#000" text-anchor="start" font-weight="bold" stroke="#000" stroke-width="0.5">A</text>
<text x="46.5" y="24.5" font-size="6.3" fill="#222" text-anchor="middle" font-weight="normal" stroke="#222" stroke-width="0.28" letter-spacing="-0.25">Heme</text>
<text x="86.5" y="24.5" font-size="6.3" fill="#222" text-anchor="middle" font-weight="normal" stroke="#222" stroke-width="0.28">lcr:GFP</text>
<text x="124" y="24.5" font-size="6.3" fill="#222" text-anchor="middle" font-weight="normal" stroke="#222" stroke-width="0.28" letter-spacing="-0.1">Hoescht</text>
<text x="168.5" y="24.5" font-size="6.3" fill="#222" text-anchor="middle" font-weight="normal" stroke="#222" stroke-width="0.28" letter-spacing="-0.1">Giemsa</text>
<text x="212.5" y="24.5" font-size="6.3" fill="#222" text-anchor="middle" font-weight="normal" stroke="#222" stroke-width="0.28">Genotype</text>
<text x="25.4" y="45.5" font-size="6.3" fill="#222" text-anchor="middle" font-weight="normal" stroke="#222" stroke-width="0.12" letter-spacing="-0.12" transform="rotate(-90 25.4 45.5)">+/+</text>
<text x="25.4" y="86.5" font-size="6.3" fill="#222" text-anchor="middle" font-weight="normal" stroke="#222" stroke-width="0.12" letter-spacing="-0.12" transform="rotate(-90 25.4 86.5)">weh/+</text>
<text x="25.4" y="127.5" font-size="6.3" fill="#222" text-anchor="middle" font-weight="normal" stroke="#222" stroke-width="0.12" letter-spacing="-0.12" transform="rotate(-90 25.4 127.5)">weh/weh</text>
<text x="25.4" y="168.5" font-size="6.3" fill="#222" text-anchor="middle" font-weight="normal" stroke="#222" stroke-width="0.12" letter-spacing="-0.12" transform="rotate(-90 25.4 168.5)">+/+</text>
<text x="25.4" y="210.5" font-size="6.3" fill="#222" text-anchor="middle" font-weight="normal" stroke="#222" stroke-width="0.12" letter-spacing="-0.12" transform="rotate(-90 25.4 210.5)">weh/+</text>
<text x="25.4" y="251.5" font-size="6.3" fill="#222" text-anchor="middle" font-weight="normal" stroke="#222" stroke-width="0.12" letter-spacing="-0.12" transform="rotate(-90 25.4 251.5)">weh/weh</text>
<text x="25.4" y="293.5" font-size="6.3" fill="#222" text-anchor="middle" font-weight="normal" stroke="#222" stroke-width="0.12" letter-spacing="-0.12" transform="rotate(-90 25.4 293.5)">+/+</text>
<text x="25.4" y="334.5" font-size="6.3" fill="#222" text-anchor="middle" font-weight="normal" stroke="#222" stroke-width="0.12" letter-spacing="-0.12" transform="rotate(-90 25.4 334.5)">weh/+</text>
<text x="25.4" y="377.5" font-size="6.3" fill="#222" text-anchor="middle" font-weight="normal" stroke="#222" stroke-width="0.12" letter-spacing="-0.12" transform="rotate(-90 25.4 377.5)">weh/weh</text>
<rect x="16.9" y="150.5" width="1.3" height="116" fill="#555"/>
<rect x="16.9" y="276" width="1.3" height="118.5" fill="#555"/>
<text x="13.4" y="208.5" font-size="6.3" fill="#d0456c" text-anchor="middle" font-weight="normal" stroke="#d0456c" stroke-width="0.08" transform="rotate(-90 13.4 208.5)" textLength="31.3" lengthAdjust="spacingAndGlyphs">+10μM Iron</text>
<text x="13.4" y="335" font-size="6.3" fill="#a3283a" text-anchor="middle" font-weight="normal" stroke="#a3283a" stroke-width="0.08" transform="rotate(-90 13.4 335)" textLength="30.5" lengthAdjust="spacingAndGlyphs">+15μM Iron</text>
<rect x="285.9" y="88.66" width="6.2" height="15.44" fill="#4e5256"/>
<rect x="295.53" y="89.25" width="6.2" height="14.85" fill="#4e5256"/>
<rect x="305.16" y="97.17" width="6.2" height="6.93" fill="#4e5256"/>
<rect x="314.79" y="92.22" width="6.2" height="11.88" fill="#94989c"/>
<rect x="324.42" y="87.27" width="6.2" height="16.83" fill="#94989c"/>
<rect x="334.05" y="92.22" width="6.2" height="11.88" fill="#94989c"/>
<rect x="343.68" y="90.24" width="6.2" height="13.86" fill="#d2d4d6"/>
<rect x="353.31" y="92.22" width="6.2" height="11.88" fill="#d2d4d6"/>
<rect x="362.94" y="92.22" width="6.2" height="11.88" fill="#d2d4d6"/>
<line x1="285.1" y1="79.15" x2="372.8" y2="79.15" stroke="#d9738a" stroke-width="1.3" stroke-dasharray="3.2 2.4"/>
<line x1="285.1" y1="100.93" x2="372.8" y2="100.93" stroke="#b03a58" stroke-width="0.9" stroke-dasharray="100 0"/>
<line x1="289" y1="94.6" x2="289" y2="82.72" stroke="#111" stroke-width="0.9"/>
<line x1="287.3" y1="82.72" x2="290.7" y2="82.72" stroke="#111" stroke-width="0.9"/>
<circle cx="289.21" cy="98.16" r="1.3" fill="#fff" stroke="#000" stroke-width="1.0"/>
<circle cx="289.5" cy="95.42" r="1.3" fill="#fff" stroke="#000" stroke-width="1.0"/>
<circle cx="286.91" cy="90.1" r="1.3" fill="#fff" stroke="#000" stroke-width="1.0"/>
<circle cx="290.62" cy="102.84" r="1.3" fill="#fff" stroke="#000" stroke-width="1.0"/>
<circle cx="287.72" cy="97.72" r="1.3" fill="#fff" stroke="#000" stroke-width="1.0"/>
<circle cx="288.86" cy="82.41" r="1.3" fill="#fff" stroke="#000" stroke-width="1.0"/>
<circle cx="288.89" cy="85.72" r="1.3" fill="#fff" stroke="#000" stroke-width="1.0"/>
<circle cx="287.32" cy="89.82" r="1.3" fill="#fff" stroke="#000" stroke-width="1.0"/>
<circle cx="290.77" cy="89.91" r="1.3" fill="#fff" stroke="#000" stroke-width="1.0"/>
<circle cx="290.16" cy="92.23" r="1.3" fill="#fff" stroke="#000" stroke-width="1.0"/>
<circle cx="286.91" cy="89.15" r="1.3" fill="#fff" stroke="#000" stroke-width="1.0"/>
<circle cx="289.44" cy="87.35" r="1.3" fill="#fff" stroke="#000" stroke-width="1.0"/>
<circle cx="286.75" cy="96.85" r="1.3" fill="#fff" stroke="#000" stroke-width="1.0"/>
<circle cx="288.87" cy="85.12" r="1.3" fill="#fff" stroke="#000" stroke-width="1.0"/>
<circle cx="290.82" cy="88.17" r="1.3" fill="#fff" stroke="#000" stroke-width="1.0"/>
<circle cx="291.02" cy="88.26" r="1.3" fill="#fff" stroke="#000" stroke-width="1.0"/>
<circle cx="290.44" cy="94.9" r="1.3" fill="#fff" stroke="#000" stroke-width="1.0"/>
<circle cx="291.09" cy="93.87" r="1.3" fill="#fff" stroke="#000" stroke-width="1.0"/>
<circle cx="287.07" cy="84.84" r="1.3" fill="#fff" stroke="#000" stroke-width="1.0"/>
<circle cx="287.64" cy="100.28" r="1.3" fill="#fff" stroke="#000" stroke-width="1.0"/>
<circle cx="288.69" cy="83.04" r="1.3" fill="#fff" stroke="#000" stroke-width="1.0"/>
<circle cx="288.04" cy="90.08" r="1.3" fill="#fff" stroke="#000" stroke-width="1.0"/>
<circle cx="288.45" cy="92.56" r="1.3" fill="#fff" stroke="#000" stroke-width="1.0"/>
<circle cx="289.41" cy="95.81" r="1.3" fill="#fff" stroke="#000" stroke-width="1.0"/>
<circle cx="290.94" cy="90.96" r="1.3" fill="#fff" stroke="#000" stroke-width="1.0"/>
<circle cx="291.06" cy="88.93" r="1.3" fill="#fff" stroke="#000" stroke-width="1.0"/>
<circle cx="289.71" cy="73.41" r="1.3" fill="#fff" stroke="#000" stroke-width="1.0"/>
<circle cx="289.98" cy="81.33" r="1.3" fill="#fff" stroke="#000" stroke-width="1.0"/>
<line x1="298.63" y1="95.19" x2="298.63" y2="83.31" stroke="#111" stroke-width="0.9"/>
<line x1="296.93" y1="83.31" x2="300.33" y2="83.31" stroke="#111" stroke-width="0.9"/>
<circle cx="297.01" cy="90.48" r="1.3" fill="#fff" stroke="#000" stroke-width="1.0"/>
<circle cx="300.86" cy="86.92" r="1.3" fill="#fff" stroke="#000" stroke-width="1.0"/>
<circle cx="298.96" cy="86.09" r="1.3" fill="#fff" stroke="#000" stroke-width="1.0"/>
<circle cx="297.24" cy="89.68" r="1.3" fill="#fff" stroke="#000" stroke-width="1.0"/>
<circle cx="298.98" cy="87.47" r="1.3" fill="#fff" stroke="#000" stroke-width="1.0"/>
<circle cx="296.53" cy="97.75" r="1.3" fill="#fff" stroke="#000" stroke-width="1.0"/>
<circle cx="300.98" cy="87.05" r="1.3" fill="#fff" stroke="#000" stroke-width="1.0"/>
<circle cx="300.07" cy="101.44" r="1.3" fill="#fff" stroke="#000" stroke-width="1.0"/>
<circle cx="296.95" cy="95.39" r="1.3" fill="#fff" stroke="#000" stroke-width="1.0"/>
<circle cx="299.92" cy="97.58" r="1.3" fill="#fff" stroke="#000" stroke-width="1.0"/>
<circle cx="296.44" cy="86.69" r="1.3" fill="#fff" stroke="#000" stroke-width="1.0"/>
<circle cx="296.45" cy="91.55" r="1.3" fill="#fff" stroke="#000" stroke-width="1.0"/>
<circle cx="297.82" cy="89.6" r="1.3" fill="#fff" stroke="#000" stroke-width="1.0"/>
<circle cx="300.94" cy="86.54" r="1.3" fill="#fff" stroke="#000" stroke-width="1.0"/>
<circle cx="301.02" cy="93.6" r="1.3" fill="#fff" stroke="#000" stroke-width="1.0"/>
<circle cx="296.6" cy="97.29" r="1.3" fill="#fff" stroke="#000" stroke-width="1.0"/>
<circle cx="296.38" cy="91.83" r="1.3" fill="#fff" stroke="#000" stroke-width="1.0"/>
<circle cx="298.19" cy="99.4" r="1.3" fill="#fff" stroke="#000" stroke-width="1.0"/>
<circle cx="296.98" cy="91.63" r="1.3" fill="#fff" stroke="#000" stroke-width="1.0"/>
<circle cx="300.4" cy="102.31" r="1.3" fill="#fff" stroke="#000" stroke-width="1.0"/>
<circle cx="300.83" cy="97.21" r="1.3" fill="#fff" stroke="#000" stroke-width="1.0"/>
<circle cx="298.04" cy="86.24" r="1.3" fill="#fff" stroke="#000" stroke-width="1.0"/>
<circle cx="298.73" cy="94.45" r="1.3" fill="#fff" stroke="#000" stroke-width="1.0"/>
<circle cx="299.09" cy="91" r="1.3" fill="#fff" stroke="#000" stroke-width="1.0"/>
<circle cx="298.75" cy="81.33" r="1.3" fill="#fff" stroke="#000" stroke-width="1.0"/>
<line x1="308.26" y1="101.13" x2="308.26" y2="93.21" stroke="#111" stroke-width="0.9"/>
<line x1="306.56" y1="93.21" x2="309.96" y2="93.21" stroke="#111" stroke-width="0.9"/>
<circle cx="310.37" cy="94.67" r="1.3" fill="#fff" stroke="#000" stroke-width="1.0"/>
<circle cx="307.93" cy="96.28" r="1.3" fill="#fff" stroke="#000" stroke-width="1.0"/>
<circle cx="307" cy="93.24" r="1.3" fill="#fff" stroke="#000" stroke-width="1.0"/>
<circle cx="310.55" cy="99.21" r="1.3" fill="#fff" stroke="#000" stroke-width="1.0"/>
<circle cx="308.49" cy="96.08" r="1.3" fill="#fff" stroke="#000" stroke-width="1.0"/>
<circle cx="307.85" cy="103.34" r="1.3" fill="#fff" stroke="#000" stroke-width="1.0"/>
<circle cx="305.96" cy="95.24" r="1.3" fill="#fff" stroke="#000" stroke-width="1.0"/>
<circle cx="308.89" cy="94.73" r="1.3" fill="#fff" stroke="#000" stroke-width="1.0"/>
<circle cx="308.87" cy="102.65" r="1.3" fill="#fff" stroke="#000" stroke-width="1.0"/>
<circle cx="309.12" cy="96.86" r="1.3" fill="#fff" stroke="#000" stroke-width="1.0"/>
<circle cx="309.25" cy="98.48" r="1.3" fill="#fff" stroke="#000" stroke-width="1.0"/>
<circle cx="305.97" cy="92.98" r="1.3" fill="#fff" stroke="#000" stroke-width="1.0"/>
<circle cx="309.1" cy="102.64" r="1.3" fill="#fff" stroke="#000" stroke-width="1.0"/>
<line x1="317.89" y1="98.16" x2="317.89" y2="86.28" stroke="#111" stroke-width="0.9"/>
<line x1="316.19" y1="86.28" x2="319.59" y2="86.28" stroke="#111" stroke-width="0.9"/>
<circle cx="316.7" cy="84" r="1.3" fill="#fff" stroke="#000" stroke-width="1.0"/>
<circle cx="318.33" cy="93.54" r="1.3" fill="#fff" stroke="#000" stroke-width="1.0"/>
<circle cx="317.24" cy="96.1" r="1.3" fill="#fff" stroke="#000" stroke-width="1.0"/>
<circle cx="317.26" cy="96.24" r="1.3" fill="#fff" stroke="#000" stroke-width="1.0"/>
<circle cx="316.93" cy="90.92" r="1.3" fill="#fff" stroke="#000" stroke-width="1.0"/>
<circle cx="319.2" cy="95.03" r="1.3" fill="#fff" stroke="#000" stroke-width="1.0"/>
<circle cx="318.22" cy="101.61" r="1.3" fill="#fff" stroke="#000" stroke-width="1.0"/>
<circle cx="316.98" cy="88.29" r="1.3" fill="#fff" stroke="#000" stroke-width="1.0"/>
<circle cx="319.35" cy="97.93" r="1.3" fill="#fff" stroke="#000" stroke-width="1.0"/>
<circle cx="316.39" cy="97.63" r="1.3" fill="#fff" stroke="#000" stroke-width="1.0"/>
<circle cx="318.84" cy="93.93" r="1.3" fill="#fff" stroke="#000" stroke-width="1.0"/>
<circle cx="317.04" cy="100.2" r="1.3" fill="#fff" stroke="#000" stroke-width="1.0"/>
<circle cx="319.49" cy="95.84" r="1.3" fill="#fff" stroke="#000" stroke-width="1.0"/>
<circle cx="319.6" cy="93.87" r="1.3" fill="#fff" stroke="#000" stroke-width="1.0"/>
<circle cx="317.11" cy="98.94" r="1.3" fill="#fff" stroke="#000" stroke-width="1.0"/>
<circle cx="319.74" cy="89.89" r="1.3" fill="#fff" stroke="#000" stroke-width="1.0"/>
<circle cx="316.57" cy="93.63" r="1.3" fill="#fff" stroke="#000" stroke-width="1.0"/>
<circle cx="317.13" cy="79.15" r="1.3" fill="#fff" stroke="#000" stroke-width="1.0"/>
<line x1="327.52" y1="95.19" x2="327.52" y2="79.35" stroke="#111" stroke-width="0.9"/>
<line x1="325.82" y1="79.35" x2="329.22" y2="79.35" stroke="#111" stroke-width="0.9"/>
<circle cx="326.04" cy="90.53" r="1.3" fill="#fff" stroke="#000" stroke-width="1.0"/>
<circle cx="329.14" cy="83.94" r="1.3" fill="#fff" stroke="#000" stroke-width="1.0"/>
<circle cx="326.46" cy="98.75" r="1.3" fill="#fff" stroke="#000" stroke-width="1.0"/>
<circle cx="328.2" cy="83.93" r="1.3" fill="#fff" stroke="#000" stroke-width="1.0"/>
<circle cx="326.78" cy="83.95" r="1.3" fill="#fff" stroke="#000" stroke-width="1.0"/>
<circle cx="326.52" cy="100.03" r="1.3" fill="#fff" stroke="#000" stroke-width="1.0"/>
<circle cx="326.42" cy="84.25" r="1.3" fill="#fff" stroke="#000" stroke-width="1.0"/>
<circle cx="327.12" cy="94.88" r="1.3" fill="#fff" stroke="#000" stroke-width="1.0"/>
<circle cx="327.09" cy="93.14" r="1.3" fill="#fff" stroke="#000" stroke-width="1.0"/>
<circle cx="325.87" cy="81.24" r="1.3" fill="#fff" stroke="#000" stroke-width="1.0"/>
<circle cx="329.65" cy="103" r="1.3" fill="#fff" stroke="#000" stroke-width="1.0"/>
<circle cx="329.86" cy="82.2" r="1.3" fill="#fff" stroke="#000" stroke-width="1.0"/>
<circle cx="329.68" cy="92.79" r="1.3" fill="#fff" stroke="#000" stroke-width="1.0"/>
<circle cx="326.19" cy="81.08" r="1.3" fill="#fff" stroke="#000" stroke-width="1.0"/>
<circle cx="329.14" cy="85.4" r="1.3" fill="#fff" stroke="#000" stroke-width="1.0"/>
<circle cx="327.61" cy="87.36" r="1.3" fill="#fff" stroke="#000" stroke-width="1.0"/>
<circle cx="326.76" cy="96.24" r="1.3" fill="#fff" stroke="#000" stroke-width="1.0"/>
<circle cx="325.45" cy="97.71" r="1.3" fill="#fff" stroke="#000" stroke-width="1.0"/>
<circle cx="326.5" cy="89.12" r="1.3" fill="#fff" stroke="#000" stroke-width="1.0"/>
<circle cx="325.34" cy="83.86" r="1.3" fill="#fff" stroke="#000" stroke-width="1.0"/>
<circle cx="328.45" cy="81.64" r="1.3" fill="#fff" stroke="#000" stroke-width="1.0"/>
<circle cx="329.42" cy="81.16" r="1.3" fill="#fff" stroke="#000" stroke-width="1.0"/>
<circle cx="327.89" cy="81.73" r="1.3" fill="#fff" stroke="#000" stroke-width="1.0"/>
<circle cx="328.7" cy="102.8" r="1.3" fill="#fff" stroke="#000" stroke-width="1.0"/>
<circle cx="326.56" cy="99.03" r="1.3" fill="#fff" stroke="#000" stroke-width="1.0"/>
<circle cx="327.64" cy="87.36" r="1.3" fill="#fff" stroke="#000" stroke-width="1.0"/>
<circle cx="327.81" cy="65.59" r="1.35" fill="#8a1a2e" stroke="#5a0a1a" stroke-width="0.4"/>
<circle cx="327.11" cy="64.97" r="1.35" fill="#8a1a2e" stroke="#5a0a1a" stroke-width="0.4"/>
<circle cx="328.46" cy="67.17" r="1.35" fill="#8a1a2e" stroke="#5a0a1a" stroke-width="0.4"/>
<circle cx="328.25" cy="73.24" r="1.35" fill="#8a1a2e" stroke="#5a0a1a" stroke-width="0.4"/>
<circle cx="326.73" cy="77.15" r="1.35" fill="#8a1a2e" stroke="#5a0a1a" stroke-width="0.4"/>
<line x1="337.15" y1="97.17" x2="337.15" y2="87.27" stroke="#111" stroke-width="0.9"/>
<line x1="335.45" y1="87.27" x2="338.85" y2="87.27" stroke="#111" stroke-width="0.9"/>
<circle cx="338.67" cy="92.59" r="1.3" fill="#fff" stroke="#000" stroke-width="1.0"/>
<circle cx="338.55" cy="99.07" r="1.3" fill="#fff" stroke="#000" stroke-width="1.0"/>
<circle cx="338.62" cy="85.69" r="1.3" fill="#fff" stroke="#000" stroke-width="1.0"/>
<circle cx="334.79" cy="87.45" r="1.3" fill="#fff" stroke="#000" stroke-width="1.0"/>
<circle cx="338.89" cy="90.92" r="1.3" fill="#fff" stroke="#000" stroke-width="1.0"/>
<circle cx="336.05" cy="101.23" r="1.3" fill="#fff" stroke="#000" stroke-width="1.0"/>
<circle cx="337.28" cy="97.33" r="1.3" fill="#fff" stroke="#000" stroke-width="1.0"/>
<circle cx="337.02" cy="94.58" r="1.3" fill="#fff" stroke="#000" stroke-width="1.0"/>
<circle cx="334.76" cy="88.28" r="1.3" fill="#fff" stroke="#000" stroke-width="1.0"/>
<circle cx="335.36" cy="101.14" r="1.3" fill="#fff" stroke="#000" stroke-width="1.0"/>
<circle cx="335.08" cy="99.9" r="1.3" fill="#fff" stroke="#000" stroke-width="1.0"/>
<circle cx="338.85" cy="84.75" r="1.3" fill="#fff" stroke="#000" stroke-width="1.0"/>
<circle cx="337.16" cy="100.59" r="1.3" fill="#fff" stroke="#000" stroke-width="1.0"/>
<circle cx="336.26" cy="96.49" r="1.3" fill="#fff" stroke="#000" stroke-width="1.0"/>
<circle cx="337.86" cy="95.86" r="1.3" fill="#fff" stroke="#000" stroke-width="1.0"/>
<line x1="346.78" y1="98.16" x2="346.78" y2="82.32" stroke="#111" stroke-width="0.9"/>
<line x1="345.08" y1="82.32" x2="348.48" y2="82.32" stroke="#111" stroke-width="0.9"/>
<circle cx="346.11" cy="85.25" r="1.3" fill="#fff" stroke="#000" stroke-width="1.0"/>
<circle cx="345.96" cy="89.95" r="1.3" fill="#fff" stroke="#000" stroke-width="1.0"/>
<circle cx="347.05" cy="90.75" r="1.3" fill="#fff" stroke="#000" stroke-width="1.0"/>
<circle cx="346.21" cy="83.71" r="1.3" fill="#fff" stroke="#000" stroke-width="1.0"/>
<circle cx="345.24" cy="91.27" r="1.3" fill="#fff" stroke="#000" stroke-width="1.0"/>
<circle cx="347.28" cy="87.79" r="1.3" fill="#fff" stroke="#000" stroke-width="1.0"/>
<circle cx="346.21" cy="82.92" r="1.3" fill="#fff" stroke="#000" stroke-width="1.0"/>
<circle cx="347.37" cy="82.7" r="1.3" fill="#fff" stroke="#000" stroke-width="1.0"/>
<circle cx="346.17" cy="87.09" r="1.3" fill="#fff" stroke="#000" stroke-width="1.0"/>
<circle cx="347.75" cy="86.33" r="1.3" fill="#fff" stroke="#000" stroke-width="1.0"/>
<circle cx="347.71" cy="87.22" r="1.3" fill="#fff" stroke="#000" stroke-width="1.0"/>
<circle cx="345.56" cy="86.75" r="1.3" fill="#fff" stroke="#000" stroke-width="1.0"/>
<circle cx="347.72" cy="85.85" r="1.3" fill="#fff" stroke="#000" stroke-width="1.0"/>
<circle cx="346.42" cy="101.41" r="1.3" fill="#fff" stroke="#000" stroke-width="1.0"/>
<circle cx="348.6" cy="97.9" r="1.3" fill="#fff" stroke="#000" stroke-width="1.0"/>
<circle cx="346.18" cy="92.85" r="1.3" fill="#fff" stroke="#000" stroke-width="1.0"/>
<circle cx="348.18" cy="93.23" r="1.3" fill="#fff" stroke="#000" stroke-width="1.0"/>
<line x1="356.41" y1="100.14" x2="356.41" y2="84.3" stroke="#111" stroke-width="0.9"/>
<line x1="354.71" y1="84.3" x2="358.11" y2="84.3" stroke="#111" stroke-width="0.9"/>
<circle cx="356.24" cy="96.88" r="1.3" fill="#fff" stroke="#000" stroke-width="1.0"/>
<circle cx="357.91" cy="100.18" r="1.3" fill="#fff" stroke="#000" stroke-width="1.0"/>
<circle cx="358.27" cy="87.37" r="1.3" fill="#fff" stroke="#000" stroke-width="1.0"/>
<circle cx="357.21" cy="84.28" r="1.3" fill="#fff" stroke="#000" stroke-width="1.0"/>
<circle cx="356.72" cy="85.68" r="1.3" fill="#fff" stroke="#000" stroke-width="1.0"/>
<circle cx="356.83" cy="100.66" r="1.3" fill="#fff" stroke="#000" stroke-width="1.0"/>
<circle cx="354.7" cy="102.99" r="1.3" fill="#fff" stroke="#000" stroke-width="1.0"/>
<circle cx="354.22" cy="84.71" r="1.3" fill="#fff" stroke="#000" stroke-width="1.0"/>
<circle cx="354.49" cy="100.93" r="1.3" fill="#fff" stroke="#000" stroke-width="1.0"/>
<circle cx="354.87" cy="82.19" r="1.3" fill="#fff" stroke="#000" stroke-width="1.0"/>
<circle cx="358.05" cy="102.55" r="1.3" fill="#fff" stroke="#000" stroke-width="1.0"/>
<circle cx="358.06" cy="100.23" r="1.3" fill="#fff" stroke="#000" stroke-width="1.0"/>
<circle cx="358.02" cy="87.11" r="1.3" fill="#fff" stroke="#000" stroke-width="1.0"/>
<circle cx="356.79" cy="80.48" r="1.3" fill="#fff" stroke="#000" stroke-width="1.0"/>
<circle cx="354.18" cy="84.13" r="1.3" fill="#fff" stroke="#000" stroke-width="1.0"/>
<circle cx="356.46" cy="84.88" r="1.3" fill="#fff" stroke="#000" stroke-width="1.0"/>
<circle cx="354.52" cy="86.12" r="1.3" fill="#fff" stroke="#000" stroke-width="1.0"/>
<circle cx="358.5" cy="85.31" r="1.3" fill="#fff" stroke="#000" stroke-width="1.0"/>
<circle cx="355.57" cy="101.66" r="1.3" fill="#fff" stroke="#000" stroke-width="1.0"/>
<circle cx="357.98" cy="89.71" r="1.3" fill="#fff" stroke="#000" stroke-width="1.0"/>
<circle cx="356.71" cy="101.44" r="1.35" fill="#8a1a2e" stroke="#5a0a1a" stroke-width="0.4"/>
<circle cx="357.07" cy="101.51" r="1.35" fill="#8a1a2e" stroke="#5a0a1a" stroke-width="0.4"/>
<circle cx="356.13" cy="101.43" r="1.35" fill="#8a1a2e" stroke="#5a0a1a" stroke-width="0.4"/>
<circle cx="356.02" cy="102.67" r="1.35" fill="#8a1a2e" stroke="#5a0a1a" stroke-width="0.4"/>
<circle cx="356.2" cy="102.64" r="1.35" fill="#8a1a2e" stroke="#5a0a1a" stroke-width="0.4"/>
<line x1="366.04" y1="98.16" x2="366.04" y2="86.28" stroke="#111" stroke-width="0.9"/>
<line x1="364.34" y1="86.28" x2="367.74" y2="86.28" stroke="#111" stroke-width="0.9"/>
<circle cx="366.04" cy="95.93" r="1.3" fill="#fff" stroke="#000" stroke-width="1.0"/>
<circle cx="365.62" cy="82.72" r="1.3" fill="#fff" stroke="#000" stroke-width="1.0"/>
<circle cx="364.41" cy="86.07" r="1.3" fill="#fff" stroke="#000" stroke-width="1.0"/>
<circle cx="367.27" cy="86.91" r="1.3" fill="#fff" stroke="#000" stroke-width="1.0"/>
<circle cx="366.12" cy="87.16" r="1.3" fill="#fff" stroke="#000" stroke-width="1.0"/>
<circle cx="366.73" cy="89.99" r="1.3" fill="#fff" stroke="#000" stroke-width="1.0"/>
<circle cx="364.36" cy="83.84" r="1.3" fill="#fff" stroke="#000" stroke-width="1.0"/>
<circle cx="367.23" cy="95.75" r="1.3" fill="#fff" stroke="#000" stroke-width="1.0"/>
<circle cx="366.12" cy="83.56" r="1.3" fill="#fff" stroke="#000" stroke-width="1.0"/>
<circle cx="367.09" cy="90.59" r="1.3" fill="#fff" stroke="#000" stroke-width="1.0"/>
<circle cx="364.92" cy="94.41" r="1.3" fill="#fff" stroke="#000" stroke-width="1.0"/>
<circle cx="366.45" cy="94.21" r="1.3" fill="#fff" stroke="#000" stroke-width="1.0"/>
<circle cx="365.34" cy="76.01" r="1.35" fill="#8a1a2e" stroke="#5a0a1a" stroke-width="0.4"/>
<line x1="283.1" y1="41.4" x2="283.1" y2="104.7" stroke="#111" stroke-width="1.3"/>
<line x1="282.5" y1="104.1" x2="372.8" y2="104.1" stroke="#111" stroke-width="1.3"/>
<line x1="280.5" y1="104.1" x2="283.1" y2="104.1" stroke="#111" stroke-width="0.9"/>
<text x="278.5" y="106.4" font-size="6.6" fill="#1a1a1a" text-anchor="end" font-weight="normal" stroke="#1a1a1a" stroke-width="0.22">0</text>
<line x1="280.5" y1="84.3" x2="283.1" y2="84.3" stroke="#111" stroke-width="0.9"/>
<text x="278.5" y="86.6" font-size="6.6" fill="#1a1a1a" text-anchor="end" font-weight="normal" stroke="#1a1a1a" stroke-width="0.22">10</text>
<line x1="280.5" y1="64.5" x2="283.1" y2="64.5" stroke="#111" stroke-width="0.9"/>
<text x="278.5" y="66.8" font-size="6.6" fill="#1a1a1a" text-anchor="end" font-weight="normal" stroke="#1a1a1a" stroke-width="0.22">20</text>
<line x1="280.5" y1="44.7" x2="283.1" y2="44.7" stroke="#111" stroke-width="0.9"/>
<text x="278.5" y="47" font-size="6.6" fill="#1a1a1a" text-anchor="end" font-weight="normal" stroke="#1a1a1a" stroke-width="0.22">30</text>
<line x1="289" y1="104.1" x2="289" y2="106.9" stroke="#111" stroke-width="1.0"/>
<text x="291.4" y="112.3" font-size="6.3" fill="#1a1a1a" text-anchor="end" font-weight="normal" stroke="#1a1a1a" stroke-width="0.2" letter-spacing="-0.1" transform="rotate(-45 291.4 112.3)">+/+</text>
<line x1="298.63" y1="104.1" x2="298.63" y2="106.9" stroke="#111" stroke-width="1.0"/>
<text x="301.03" y="112.3" font-size="6.3" fill="#1a1a1a" text-anchor="end" font-weight="normal" stroke="#1a1a1a" stroke-width="0.2" letter-spacing="-0.1" transform="rotate(-45 301.03 112.3)">weh/+</text>
<line x1="308.26" y1="104.1" x2="308.26" y2="106.9" stroke="#111" stroke-width="1.0"/>
<text x="310.66" y="112.3" font-size="6.3" fill="#1a1a1a" text-anchor="end" font-weight="normal" stroke="#1a1a1a" stroke-width="0.2" letter-spacing="-0.1" transform="rotate(-45 310.66 112.3)">weh/weh</text>
<line x1="317.89" y1="104.1" x2="317.89" y2="106.9" stroke="#111" stroke-width="1.0"/>
<text x="320.29" y="112.3" font-size="6.3" fill="#1a1a1a" text-anchor="end" font-weight="normal" stroke="#1a1a1a" stroke-width="0.2" letter-spacing="-0.1" transform="rotate(-45 320.29 112.3)">+/+</text>
<line x1="327.52" y1="104.1" x2="327.52" y2="106.9" stroke="#111" stroke-width="1.0"/>
<text x="329.92" y="112.3" font-size="6.3" fill="#1a1a1a" text-anchor="end" font-weight="normal" stroke="#1a1a1a" stroke-width="0.2" letter-spacing="-0.1" transform="rotate(-45 329.92 112.3)">weh/+</text>
<line x1="337.15" y1="104.1" x2="337.15" y2="106.9" stroke="#111" stroke-width="1.0"/>
<text x="339.55" y="112.3" font-size="6.3" fill="#1a1a1a" text-anchor="end" font-weight="normal" stroke="#1a1a1a" stroke-width="0.2" letter-spacing="-0.1" transform="rotate(-45 339.55 112.3)">weh/weh</text>
<line x1="346.78" y1="104.1" x2="346.78" y2="106.9" stroke="#111" stroke-width="1.0"/>
<text x="349.18" y="112.3" font-size="6.3" fill="#1a1a1a" text-anchor="end" font-weight="normal" stroke="#1a1a1a" stroke-width="0.2" letter-spacing="-0.1" transform="rotate(-45 349.18 112.3)">+/+</text>
<line x1="356.41" y1="104.1" x2="356.41" y2="106.9" stroke="#111" stroke-width="1.0"/>
<text x="358.81" y="112.3" font-size="6.3" fill="#1a1a1a" text-anchor="end" font-weight="normal" stroke="#1a1a1a" stroke-width="0.2" letter-spacing="-0.1" transform="rotate(-45 358.81 112.3)">weh/+</text>
<line x1="366.04" y1="104.1" x2="366.04" y2="106.9" stroke="#111" stroke-width="1.0"/>
<text x="368.44" y="112.3" font-size="6.3" fill="#1a1a1a" text-anchor="end" font-weight="normal" stroke="#1a1a1a" stroke-width="0.2" letter-spacing="-0.1" transform="rotate(-45 368.44 112.3)">weh/weh</text>
<text x="264.2" y="74.8" font-size="7.6" fill="#1a1a1a" text-anchor="middle" font-weight="normal" stroke="#1a1a1a" stroke-width="0.3" transform="rotate(-90 264.2 74.8)" textLength="58.4" lengthAdjust="spacingAndGlyphs">Percent lcr:GFP+ cells</text>
<rect x="309" y="131.05" width="31.5" height="1.7" fill="#666666"/>
<rect x="345.3" y="131.05" width="33.4" height="1.7" fill="#666666"/>
<text x="325.75" y="140.7" font-size="6.3" fill="#d0456c" text-anchor="middle" font-weight="normal" stroke="#d0456c" stroke-width="0.1" textLength="30.5" lengthAdjust="spacingAndGlyphs">+10μM Iron</text>
<text x="362.5" y="140.7" font-size="6.3" fill="#5e5048" text-anchor="middle" font-weight="normal" stroke="#5e5048" stroke-width="0.1" textLength="30.5" lengthAdjust="spacingAndGlyphs">+15μM Iron</text>
<text x="253.4" y="15.7" font-size="10.6" fill="#000" text-anchor="start" font-weight="bold" stroke="#000" stroke-width="0.5">B</text>
<rect x="420.4" y="71.72" width="6" height="32.18" fill="#414d57"/>
<rect x="430.15" y="73.21" width="6" height="30.69" fill="#414d57"/>
<rect x="439.9" y="77.68" width="6" height="26.22" fill="#414d57"/>
<rect x="449.65" y="74.1" width="6" height="29.8" fill="#888e94"/>
<rect x="459.4" y="73.21" width="6" height="30.69" fill="#888e94"/>
<rect x="469.15" y="83.04" width="6" height="20.86" fill="#888e94"/>
<rect x="478.9" y="77.08" width="6" height="26.82" fill="#c4c7cb"/>
<rect x="488.65" y="76.48" width="6" height="27.42" fill="#c4c7cb"/>
<rect x="498.4" y="80.06" width="6" height="23.84" fill="#c4c7cb"/>
<line x1="419.8" y1="69.63" x2="507.7" y2="69.63" stroke="#d9738a" stroke-width="1.3" stroke-dasharray="3.2 2.2"/>
<line x1="419.8" y1="80.06" x2="507.7" y2="80.06" stroke="#c0405e" stroke-width="1.0" stroke-dasharray="3.2 1.4"/>
<line x1="423.4" y1="73.5" x2="423.4" y2="69.93" stroke="#111" stroke-width="0.9"/>
<line x1="421.7" y1="69.93" x2="425.1" y2="69.93" stroke="#111" stroke-width="0.9"/>
<circle cx="424.56" cy="72.14" r="1.3" fill="#fff" stroke="#000" stroke-width="0.8"/>
<circle cx="425.52" cy="71.26" r="1.3" fill="#fff" stroke="#000" stroke-width="0.8"/>
<circle cx="425.43" cy="71.54" r="1.3" fill="#fff" stroke="#000" stroke-width="0.8"/>
<circle cx="423.23" cy="75.15" r="1.3" fill="#fff" stroke="#000" stroke-width="0.8"/>
<circle cx="424.12" cy="70.51" r="1.3" fill="#fff" stroke="#000" stroke-width="0.8"/>
<circle cx="421.54" cy="70.73" r="1.3" fill="#fff" stroke="#000" stroke-width="0.8"/>
<circle cx="422.18" cy="72.92" r="1.3" fill="#fff" stroke="#000" stroke-width="0.8"/>
<circle cx="423.59" cy="79.39" r="1.35" fill="#8a1a2e" stroke="#5a0a1a" stroke-width="0.4"/>
<line x1="433.15" y1="74.99" x2="433.15" y2="71.42" stroke="#111" stroke-width="0.9"/>
<line x1="431.45" y1="71.42" x2="434.85" y2="71.42" stroke="#111" stroke-width="0.9"/>
<circle cx="431.79" cy="75.83" r="1.3" fill="#fff" stroke="#000" stroke-width="0.8"/>
<circle cx="435.15" cy="74.72" r="1.3" fill="#fff" stroke="#000" stroke-width="0.8"/>
<circle cx="431.52" cy="72.69" r="1.3" fill="#fff" stroke="#000" stroke-width="0.8"/>
<circle cx="431.42" cy="72.56" r="1.3" fill="#fff" stroke="#000" stroke-width="0.8"/>
<circle cx="431.36" cy="73.31" r="1.3" fill="#fff" stroke="#000" stroke-width="0.8"/>
<circle cx="434.93" cy="75.88" r="1.3" fill="#fff" stroke="#000" stroke-width="0.8"/>
<line x1="442.9" y1="79.76" x2="442.9" y2="75.59" stroke="#111" stroke-width="0.9"/>
<line x1="441.2" y1="75.59" x2="444.6" y2="75.59" stroke="#111" stroke-width="0.9"/>
<circle cx="441.53" cy="78.34" r="1.3" fill="#fff" stroke="#000" stroke-width="0.8"/>
<circle cx="444.69" cy="74.19" r="1.3" fill="#fff" stroke="#000" stroke-width="0.8"/>
<circle cx="445.12" cy="77.91" r="1.3" fill="#fff" stroke="#000" stroke-width="0.8"/>
<circle cx="443.75" cy="76.57" r="1.3" fill="#fff" stroke="#000" stroke-width="0.8"/>
<circle cx="445.02" cy="78.37" r="1.3" fill="#fff" stroke="#000" stroke-width="0.8"/>
<circle cx="445.14" cy="75.76" r="1.3" fill="#fff" stroke="#000" stroke-width="0.8"/>
<circle cx="442.38" cy="77.87" r="1.35" fill="#8a1a2e" stroke="#5a0a1a" stroke-width="0.4"/>
<line x1="452.65" y1="77.08" x2="452.65" y2="71.12" stroke="#111" stroke-width="0.9"/>
<line x1="450.95" y1="71.12" x2="454.35" y2="71.12" stroke="#111" stroke-width="0.9"/>
<circle cx="451.05" cy="74.6" r="1.3" fill="#fff" stroke="#000" stroke-width="0.8"/>
<circle cx="450.56" cy="76.08" r="1.3" fill="#fff" stroke="#000" stroke-width="0.8"/>
<circle cx="453.14" cy="75.01" r="1.3" fill="#fff" stroke="#000" stroke-width="0.8"/>
<circle cx="453.5" cy="77.06" r="1.3" fill="#fff" stroke="#000" stroke-width="0.8"/>
<circle cx="451.74" cy="74.76" r="1.3" fill="#fff" stroke="#000" stroke-width="0.8"/>
<circle cx="452.56" cy="71.47" r="1.3" fill="#fff" stroke="#000" stroke-width="0.8"/>
<circle cx="452.6" cy="69.07" r="1.35" fill="#8a1a2e" stroke="#5a0a1a" stroke-width="0.4"/>
<circle cx="451.5" cy="70.16" r="1.35" fill="#8a1a2e" stroke="#5a0a1a" stroke-width="0.4"/>
<line x1="462.4" y1="76.19" x2="462.4" y2="70.23" stroke="#111" stroke-width="0.9"/>
<line x1="460.7" y1="70.23" x2="464.1" y2="70.23" stroke="#111" stroke-width="0.9"/>
<circle cx="460.11" cy="69.82" r="1.3" fill="#fff" stroke="#000" stroke-width="0.8"/>
<circle cx="464.06" cy="71.49" r="1.3" fill="#fff" stroke="#000" stroke-width="0.8"/>
<circle cx="463.78" cy="76.95" r="1.3" fill="#fff" stroke="#000" stroke-width="0.8"/>
<circle cx="462.78" cy="74.35" r="1.3" fill="#fff" stroke="#000" stroke-width="0.8"/>
<circle cx="460.22" cy="77.01" r="1.3" fill="#fff" stroke="#000" stroke-width="0.8"/>
<circle cx="464.58" cy="75.73" r="1.3" fill="#fff" stroke="#000" stroke-width="0.8"/>
<circle cx="463.63" cy="75.62" r="1.3" fill="#fff" stroke="#000" stroke-width="0.8"/>
<circle cx="463.55" cy="67.67" r="1.35" fill="#8a1a2e" stroke="#5a0a1a" stroke-width="0.4"/>
<circle cx="462.02" cy="70.21" r="1.35" fill="#8a1a2e" stroke="#5a0a1a" stroke-width="0.4"/>
<line x1="472.15" y1="88.4" x2="472.15" y2="77.68" stroke="#111" stroke-width="0.9"/>
<line x1="470.45" y1="77.68" x2="473.85" y2="77.68" stroke="#111" stroke-width="0.9"/>
<circle cx="473.47" cy="75.91" r="1.3" fill="#fff" stroke="#000" stroke-width="0.8"/>
<circle cx="473.34" cy="78.02" r="1.3" fill="#fff" stroke="#000" stroke-width="0.8"/>
<circle cx="473.88" cy="74.53" r="1.3" fill="#fff" stroke="#000" stroke-width="0.8"/>
<circle cx="471.73" cy="85.91" r="1.35" fill="#8a1a2e" stroke="#5a0a1a" stroke-width="0.4"/>
<circle cx="473.25" cy="83.2" r="1.35" fill="#8a1a2e" stroke="#5a0a1a" stroke-width="0.4"/>
<circle cx="472.27" cy="85.75" r="1.35" fill="#8a1a2e" stroke="#5a0a1a" stroke-width="0.4"/>
<circle cx="471.66" cy="85" r="1.35" fill="#8a1a2e" stroke="#5a0a1a" stroke-width="0.4"/>
<circle cx="471.67" cy="84.2" r="1.35" fill="#8a1a2e" stroke="#5a0a1a" stroke-width="0.4"/>
<circle cx="471.31" cy="83.28" r="1.35" fill="#8a1a2e" stroke="#5a0a1a" stroke-width="0.4"/>
<line x1="481.9" y1="80.66" x2="481.9" y2="73.5" stroke="#111" stroke-width="0.9"/>
<line x1="480.2" y1="73.5" x2="483.6" y2="73.5" stroke="#111" stroke-width="0.9"/>
<circle cx="480.21" cy="77.64" r="1.3" fill="#fff" stroke="#000" stroke-width="0.8"/>
<circle cx="484.28" cy="72.73" r="1.3" fill="#fff" stroke="#000" stroke-width="0.8"/>
<circle cx="479.73" cy="76.97" r="1.3" fill="#fff" stroke="#000" stroke-width="0.8"/>
<circle cx="482.06" cy="70.33" r="1.3" fill="#fff" stroke="#000" stroke-width="0.8"/>
<circle cx="480.64" cy="75.01" r="1.3" fill="#fff" stroke="#000" stroke-width="0.8"/>
<circle cx="483.47" cy="73.49" r="1.3" fill="#fff" stroke="#000" stroke-width="0.8"/>
<circle cx="481.7" cy="69.41" r="1.35" fill="#8a1a2e" stroke="#5a0a1a" stroke-width="0.4"/>
<line x1="491.65" y1="80.36" x2="491.65" y2="72.61" stroke="#111" stroke-width="0.9"/>
<line x1="489.95" y1="72.61" x2="493.35" y2="72.61" stroke="#111" stroke-width="0.9"/>
<circle cx="493.65" cy="79.56" r="1.3" fill="#fff" stroke="#000" stroke-width="0.8"/>
<circle cx="491.62" cy="79.77" r="1.3" fill="#fff" stroke="#000" stroke-width="0.8"/>
<circle cx="489.88" cy="72.56" r="1.3" fill="#fff" stroke="#000" stroke-width="0.8"/>
<circle cx="493.81" cy="73.52" r="1.3" fill="#fff" stroke="#000" stroke-width="0.8"/>
<circle cx="493.03" cy="74.42" r="1.3" fill="#fff" stroke="#000" stroke-width="0.8"/>
<circle cx="491.34" cy="79.11" r="1.3" fill="#fff" stroke="#000" stroke-width="0.8"/>
<circle cx="493.3" cy="78.73" r="1.3" fill="#fff" stroke="#000" stroke-width="0.8"/>
<circle cx="491.53" cy="80.72" r="1.35" fill="#8a1a2e" stroke="#5a0a1a" stroke-width="0.4"/>
<circle cx="492.57" cy="69.63" r="1.35" fill="#8a1a2e" stroke="#5a0a1a" stroke-width="0.4"/>
<line x1="501.4" y1="80.95" x2="501.4" y2="79.17" stroke="#111" stroke-width="0.9"/>
<line x1="499.7" y1="79.17" x2="503.1" y2="79.17" stroke="#111" stroke-width="0.9"/>
<circle cx="501.18" cy="78.9" r="1.3" fill="#fff" stroke="#000" stroke-width="0.8"/>
<circle cx="502.5" cy="79.48" r="1.3" fill="#fff" stroke="#000" stroke-width="0.8"/>
<circle cx="501.15" cy="79.2" r="1.35" fill="#8a1a2e" stroke="#5a0a1a" stroke-width="0.4"/>
<circle cx="500.48" cy="79.54" r="1.35" fill="#8a1a2e" stroke="#5a0a1a" stroke-width="0.4"/>
<line x1="417.8" y1="41.4" x2="417.8" y2="104.5" stroke="#111" stroke-width="1.3"/>
<line x1="417.2" y1="103.9" x2="507.7" y2="103.9" stroke="#111" stroke-width="1.3"/>
<line x1="415.2" y1="103.9" x2="417.8" y2="103.9" stroke="#111" stroke-width="0.9"/>
<text x="413.2" y="106.2" font-size="6.6" fill="#1a1a1a" text-anchor="end" font-weight="normal" stroke="#1a1a1a" stroke-width="0.22">0</text>
<line x1="415.2" y1="89" x2="417.8" y2="89" stroke="#111" stroke-width="0.9"/>
<text x="413.2" y="91.3" font-size="6.6" fill="#1a1a1a" text-anchor="end" font-weight="normal" stroke="#1a1a1a" stroke-width="0.22">5</text>
<line x1="415.2" y1="74.1" x2="417.8" y2="74.1" stroke="#111" stroke-width="0.9"/>
<text x="413.2" y="76.4" font-size="6.6" fill="#1a1a1a" text-anchor="end" font-weight="normal" stroke="#1a1a1a" stroke-width="0.22">10</text>
<line x1="415.2" y1="59.2" x2="417.8" y2="59.2" stroke="#111" stroke-width="0.9"/>
<text x="413.2" y="61.5" font-size="6.6" fill="#1a1a1a" text-anchor="end" font-weight="normal" stroke="#1a1a1a" stroke-width="0.22">15</text>
<line x1="415.2" y1="44.3" x2="417.8" y2="44.3" stroke="#111" stroke-width="0.9"/>
<text x="413.2" y="46.6" font-size="6.6" fill="#1a1a1a" text-anchor="end" font-weight="normal" stroke="#1a1a1a" stroke-width="0.22">20</text>
<line x1="423.4" y1="103.9" x2="423.4" y2="106.7" stroke="#111" stroke-width="1.0"/>
<text x="425.8" y="112.1" font-size="6.3" fill="#1a1a1a" text-anchor="end" font-weight="normal" stroke="#1a1a1a" stroke-width="0.2" letter-spacing="-0.1" transform="rotate(-45 425.8 112.1)">+/+</text>
<line x1="433.15" y1="103.9" x2="433.15" y2="106.7" stroke="#111" stroke-width="1.0"/>
<text x="435.55" y="112.1" font-size="6.3" fill="#1a1a1a" text-anchor="end" font-weight="normal" stroke="#1a1a1a" stroke-width="0.2" letter-spacing="-0.1" transform="rotate(-45 435.55 112.1)">weh/+</text>
<line x1="442.9" y1="103.9" x2="442.9" y2="106.7" stroke="#111" stroke-width="1.0"/>
<text x="445.3" y="112.1" font-size="6.3" fill="#1a1a1a" text-anchor="end" font-weight="normal" stroke="#1a1a1a" stroke-width="0.2" letter-spacing="-0.1" transform="rotate(-45 445.3 112.1)">weh/weh</text>
<line x1="452.65" y1="103.9" x2="452.65" y2="106.7" stroke="#111" stroke-width="1.0"/>
<text x="455.05" y="112.1" font-size="6.3" fill="#1a1a1a" text-anchor="end" font-weight="normal" stroke="#1a1a1a" stroke-width="0.2" letter-spacing="-0.1" transform="rotate(-45 455.05 112.1)">+/+</text>
<line x1="462.4" y1="103.9" x2="462.4" y2="106.7" stroke="#111" stroke-width="1.0"/>
<text x="464.8" y="112.1" font-size="6.3" fill="#1a1a1a" text-anchor="end" font-weight="normal" stroke="#1a1a1a" stroke-width="0.2" letter-spacing="-0.1" transform="rotate(-45 464.8 112.1)">weh/+</text>
<line x1="472.15" y1="103.9" x2="472.15" y2="106.7" stroke="#111" stroke-width="1.0"/>
<text x="474.55" y="112.1" font-size="6.3" fill="#1a1a1a" text-anchor="end" font-weight="normal" stroke="#1a1a1a" stroke-width="0.2" letter-spacing="-0.1" transform="rotate(-45 474.55 112.1)">weh/weh</text>
<line x1="481.9" y1="103.9" x2="481.9" y2="106.7" stroke="#111" stroke-width="1.0"/>
<text x="484.3" y="112.1" font-size="6.3" fill="#1a1a1a" text-anchor="end" font-weight="normal" stroke="#1a1a1a" stroke-width="0.2" letter-spacing="-0.1" transform="rotate(-45 484.3 112.1)">+/+</text>
<line x1="491.65" y1="103.9" x2="491.65" y2="106.7" stroke="#111" stroke-width="1.0"/>
<text x="494.05" y="112.1" font-size="6.3" fill="#1a1a1a" text-anchor="end" font-weight="normal" stroke="#1a1a1a" stroke-width="0.2" letter-spacing="-0.1" transform="rotate(-45 494.05 112.1)">weh/+</text>
<line x1="501.4" y1="103.9" x2="501.4" y2="106.7" stroke="#111" stroke-width="1.0"/>
<text x="503.8" y="112.1" font-size="6.3" fill="#1a1a1a" text-anchor="end" font-weight="normal" stroke="#1a1a1a" stroke-width="0.2" letter-spacing="-0.1" transform="rotate(-45 503.8 112.1)">weh/weh</text>
<text x="399.4" y="74.3" font-size="7.6" fill="#1a1a1a" text-anchor="middle" font-weight="normal" stroke="#1a1a1a" stroke-width="0.3" transform="rotate(-90 399.4 74.3)" textLength="71.5" lengthAdjust="spacingAndGlyphs">FSC-A lcr:GFP+ cells (*10⁵)</text>
<rect x="443.9" y="130.85" width="31.9" height="1.7" fill="#666666"/>
<rect x="480.2" y="130.85" width="32.4" height="1.7" fill="#666666"/>
<text x="460.85" y="140.5" font-size="6.3" fill="#d0456c" text-anchor="middle" font-weight="normal" stroke="#d0456c" stroke-width="0.1" textLength="30.5" lengthAdjust="spacingAndGlyphs">+10μM Iron</text>
<text x="496.9" y="140.5" font-size="6.3" fill="#5e5048" text-anchor="middle" font-weight="normal" stroke="#5e5048" stroke-width="0.1" textLength="30.5" lengthAdjust="spacingAndGlyphs">+15μM Iron</text>
<text x="393.6" y="15.7" font-size="10.6" fill="#000" text-anchor="start" font-weight="bold" stroke="#000" stroke-width="0.5">C</text>
<rect x="286.2" y="211.9" width="6.1" height="23.5" fill="#414d57"/>
<rect x="295.83" y="213.08" width="6.1" height="22.32" fill="#414d57"/>
<rect x="305.46" y="233.05" width="6.1" height="2.35" fill="#414d57"/>
<rect x="315.09" y="215.43" width="6.1" height="19.98" fill="#888e94"/>
<rect x="324.72" y="221.89" width="6.1" height="13.51" fill="#888e94"/>
<rect x="334.35" y="230.7" width="6.1" height="4.7" fill="#888e94"/>
<rect x="343.98" y="208.96" width="6.1" height="26.44" fill="#c4c7cb"/>
<rect x="353.61" y="210.72" width="6.1" height="24.68" fill="#c4c7cb"/>
<rect x="363.24" y="213.08" width="6.1" height="22.32" fill="#c4c7cb"/>
<line x1="284.9" y1="196.92" x2="372.8" y2="196.92" stroke="#d9738a" stroke-width="1.3" stroke-dasharray="3.2 2.2"/>
<line x1="284.9" y1="230.11" x2="372.8" y2="230.11" stroke="#d9738a" stroke-width="1.3" stroke-dasharray="3.2 2.2"/>
<line x1="289.25" y1="217.78" x2="289.25" y2="206.03" stroke="#111" stroke-width="0.9"/>
<line x1="287.55" y1="206.03" x2="290.95" y2="206.03" stroke="#111" stroke-width="0.9"/>
<circle cx="289.54" cy="216.21" r="1.4" fill="#fff" stroke="#000" stroke-width="0.9"/>
<circle cx="289.08" cy="208.45" r="1.4" fill="#fff" stroke="#000" stroke-width="0.9"/>
<circle cx="289.68" cy="215.3" r="1.4" fill="#fff" stroke="#000" stroke-width="0.9"/>
<circle cx="289.31" cy="220.61" r="1.4" fill="#fff" stroke="#000" stroke-width="0.9"/>
<circle cx="290.69" cy="213.29" r="1.4" fill="#fff" stroke="#000" stroke-width="0.9"/>
<circle cx="288.29" cy="222.1" r="1.4" fill="#fff" stroke="#000" stroke-width="0.9"/>
<circle cx="290.77" cy="222.16" r="1.4" fill="#fff" stroke="#000" stroke-width="0.9"/>
<circle cx="287.01" cy="212.24" r="1.4" fill="#fff" stroke="#000" stroke-width="0.9"/>
<circle cx="291.53" cy="207.49" r="1.4" fill="#fff" stroke="#000" stroke-width="0.9"/>
<circle cx="289.82" cy="212.89" r="1.4" fill="#fff" stroke="#000" stroke-width="0.9"/>
<circle cx="286.87" cy="221.06" r="1.4" fill="#fff" stroke="#000" stroke-width="0.9"/>
<circle cx="287.09" cy="214.96" r="1.4" fill="#fff" stroke="#000" stroke-width="0.9"/>
<circle cx="287.99" cy="220.52" r="1.4" fill="#fff" stroke="#000" stroke-width="0.9"/>
<circle cx="289.07" cy="223.16" r="1.4" fill="#fff" stroke="#000" stroke-width="0.9"/>
<circle cx="290.93" cy="216.4" r="1.4" fill="#fff" stroke="#000" stroke-width="0.9"/>
<circle cx="289.94" cy="215.11" r="1.4" fill="#fff" stroke="#000" stroke-width="0.9"/>
<circle cx="289.25" cy="197.21" r="1.4" fill="#fff" stroke="#000" stroke-width="0.9"/>
<circle cx="289.14" cy="194.22" r="1.35" fill="#8a1a2e" stroke="#5a0a1a" stroke-width="0.4"/>
<line x1="298.88" y1="217.78" x2="298.88" y2="208.38" stroke="#111" stroke-width="0.9"/>
<line x1="297.18" y1="208.38" x2="300.58" y2="208.38" stroke="#111" stroke-width="0.9"/>
<circle cx="301.32" cy="218.23" r="1.4" fill="#fff" stroke="#000" stroke-width="0.9"/>
<circle cx="300.55" cy="207.27" r="1.4" fill="#fff" stroke="#000" stroke-width="0.9"/>
<circle cx="297.97" cy="211.66" r="1.4" fill="#fff" stroke="#000" stroke-width="0.9"/>
<circle cx="297.85" cy="218.97" r="1.4" fill="#fff" stroke="#000" stroke-width="0.9"/>
<circle cx="300.18" cy="221.4" r="1.4" fill="#fff" stroke="#000" stroke-width="0.9"/>
<circle cx="300.58" cy="216.36" r="1.4" fill="#fff" stroke="#000" stroke-width="0.9"/>
<circle cx="301.12" cy="216.57" r="1.4" fill="#fff" stroke="#000" stroke-width="0.9"/>
<circle cx="296.43" cy="209.53" r="1.4" fill="#fff" stroke="#000" stroke-width="0.9"/>
<circle cx="300.89" cy="219.27" r="1.4" fill="#fff" stroke="#000" stroke-width="0.9"/>
<circle cx="301.23" cy="215.3" r="1.4" fill="#fff" stroke="#000" stroke-width="0.9"/>
<circle cx="296.79" cy="216.4" r="1.4" fill="#fff" stroke="#000" stroke-width="0.9"/>
<circle cx="300.24" cy="212.86" r="1.4" fill="#fff" stroke="#000" stroke-width="0.9"/>
<circle cx="296.86" cy="218.35" r="1.4" fill="#fff" stroke="#000" stroke-width="0.9"/>
<circle cx="301.15" cy="217.39" r="1.4" fill="#fff" stroke="#000" stroke-width="0.9"/>
<circle cx="297.89" cy="195.95" r="1.35" fill="#8a1a2e" stroke="#5a0a1a" stroke-width="0.4"/>
<line x1="308.51" y1="234.22" x2="308.51" y2="231.88" stroke="#111" stroke-width="0.9"/>
<line x1="306.81" y1="231.88" x2="310.21" y2="231.88" stroke="#111" stroke-width="0.9"/>
<circle cx="306.56" cy="234.23" r="1.4" fill="#fff" stroke="#000" stroke-width="0.9"/>
<circle cx="309.97" cy="234.67" r="1.4" fill="#fff" stroke="#000" stroke-width="0.9"/>
<circle cx="308.8" cy="234.39" r="1.4" fill="#fff" stroke="#000" stroke-width="0.9"/>
<circle cx="308.3" cy="233.76" r="1.35" fill="#8a1a2e" stroke="#5a0a1a" stroke-width="0.4"/>
<circle cx="307.76" cy="234.36" r="1.35" fill="#8a1a2e" stroke="#5a0a1a" stroke-width="0.4"/>
<circle cx="307.91" cy="233.09" r="1.35" fill="#8a1a2e" stroke="#5a0a1a" stroke-width="0.4"/>
<circle cx="309.73" cy="234.5" r="1.35" fill="#8a1a2e" stroke="#5a0a1a" stroke-width="0.4"/>
<circle cx="309.3" cy="233.3" r="1.35" fill="#8a1a2e" stroke="#5a0a1a" stroke-width="0.4"/>
<circle cx="308" cy="234.54" r="1.35" fill="#8a1a2e" stroke="#5a0a1a" stroke-width="0.4"/>
<line x1="318.14" y1="220.12" x2="318.14" y2="210.72" stroke="#111" stroke-width="0.9"/>
<line x1="316.44" y1="210.72" x2="319.84" y2="210.72" stroke="#111" stroke-width="0.9"/>
<circle cx="316.72" cy="210.54" r="1.4" fill="#fff" stroke="#000" stroke-width="0.9"/>
<circle cx="319.88" cy="219.76" r="1.4" fill="#fff" stroke="#000" stroke-width="0.9"/>
<circle cx="316.18" cy="215.11" r="1.4" fill="#fff" stroke="#000" stroke-width="0.9"/>
<circle cx="316.73" cy="208.58" r="1.4" fill="#fff" stroke="#000" stroke-width="0.9"/>
<circle cx="319.48" cy="222.32" r="1.4" fill="#fff" stroke="#000" stroke-width="0.9"/>
<circle cx="317.14" cy="220.99" r="1.4" fill="#fff" stroke="#000" stroke-width="0.9"/>
<circle cx="316.13" cy="225.8" r="1.4" fill="#fff" stroke="#000" stroke-width="0.9"/>
<circle cx="316.88" cy="216.22" r="1.4" fill="#fff" stroke="#000" stroke-width="0.9"/>
<circle cx="317.51" cy="215.87" r="1.4" fill="#fff" stroke="#000" stroke-width="0.9"/>
<circle cx="320.39" cy="218.65" r="1.4" fill="#fff" stroke="#000" stroke-width="0.9"/>
<circle cx="318.51" cy="218.08" r="1.4" fill="#fff" stroke="#000" stroke-width="0.9"/>
<circle cx="316.59" cy="210.88" r="1.4" fill="#fff" stroke="#000" stroke-width="0.9"/>
<circle cx="320.14" cy="224.28" r="1.4" fill="#fff" stroke="#000" stroke-width="0.9"/>
<circle cx="316.91" cy="211.8" r="1.4" fill="#fff" stroke="#000" stroke-width="0.9"/>
<circle cx="319.31" cy="223.61" r="1.4" fill="#fff" stroke="#000" stroke-width="0.9"/>
<circle cx="316.65" cy="209.5" r="1.4" fill="#fff" stroke="#000" stroke-width="0.9"/>
<line x1="327.77" y1="225.41" x2="327.77" y2="218.36" stroke="#111" stroke-width="0.9"/>
<line x1="326.07" y1="218.36" x2="329.47" y2="218.36" stroke="#111" stroke-width="0.9"/>
<circle cx="329.64" cy="216.72" r="1.4" fill="#fff" stroke="#000" stroke-width="0.9"/>
<circle cx="327.39" cy="221.6" r="1.4" fill="#fff" stroke="#000" stroke-width="0.9"/>
<circle cx="325.51" cy="228.65" r="1.4" fill="#fff" stroke="#000" stroke-width="0.9"/>
<circle cx="326.49" cy="216.54" r="1.4" fill="#fff" stroke="#000" stroke-width="0.9"/>
<circle cx="326.58" cy="220.18" r="1.4" fill="#fff" stroke="#000" stroke-width="0.9"/>
<circle cx="328.24" cy="218.5" r="1.4" fill="#fff" stroke="#000" stroke-width="0.9"/>
<circle cx="326.18" cy="225.98" r="1.4" fill="#fff" stroke="#000" stroke-width="0.9"/>
<circle cx="325.66" cy="219.96" r="1.4" fill="#fff" stroke="#000" stroke-width="0.9"/>
<circle cx="328.06" cy="226.89" r="1.4" fill="#fff" stroke="#000" stroke-width="0.9"/>
<circle cx="328.33" cy="218.09" r="1.4" fill="#fff" stroke="#000" stroke-width="0.9"/>
<circle cx="329.82" cy="226.16" r="1.4" fill="#fff" stroke="#000" stroke-width="0.9"/>
<circle cx="325.4" cy="227.24" r="1.4" fill="#fff" stroke="#000" stroke-width="0.9"/>
<circle cx="327.5" cy="226.32" r="1.4" fill="#fff" stroke="#000" stroke-width="0.9"/>
<circle cx="326.18" cy="229.26" r="1.4" fill="#fff" stroke="#000" stroke-width="0.9"/>
<line x1="337.4" y1="233.05" x2="337.4" y2="228.35" stroke="#111" stroke-width="0.9"/>
<line x1="335.7" y1="228.35" x2="339.1" y2="228.35" stroke="#111" stroke-width="0.9"/>
<circle cx="337.75" cy="228.01" r="1.4" fill="#fff" stroke="#000" stroke-width="0.9"/>
<circle cx="336.72" cy="228.98" r="1.4" fill="#fff" stroke="#000" stroke-width="0.9"/>
<circle cx="339.75" cy="225.86" r="1.4" fill="#fff" stroke="#000" stroke-width="0.9"/>
<circle cx="337.92" cy="229.08" r="1.35" fill="#8a1a2e" stroke="#5a0a1a" stroke-width="0.4"/>
<circle cx="338.6" cy="228.86" r="1.35" fill="#8a1a2e" stroke="#5a0a1a" stroke-width="0.4"/>
<circle cx="336.16" cy="229.54" r="1.35" fill="#8a1a2e" stroke="#5a0a1a" stroke-width="0.4"/>
<circle cx="337.75" cy="232.39" r="1.35" fill="#8a1a2e" stroke="#5a0a1a" stroke-width="0.4"/>
<circle cx="337.35" cy="233.06" r="1.35" fill="#8a1a2e" stroke="#5a0a1a" stroke-width="0.4"/>
<circle cx="338" cy="233.17" r="1.35" fill="#8a1a2e" stroke="#5a0a1a" stroke-width="0.4"/>
<circle cx="336.93" cy="227.46" r="1.35" fill="#8a1a2e" stroke="#5a0a1a" stroke-width="0.4"/>
<line x1="347.03" y1="226.59" x2="347.03" y2="191.34" stroke="#111" stroke-width="0.9"/>
<line x1="345.33" y1="191.34" x2="348.73" y2="191.34" stroke="#111" stroke-width="0.9"/>
<circle cx="344.95" cy="196.63" r="1.4" fill="#fff" stroke="#000" stroke-width="0.9"/>
<circle cx="348.19" cy="199.56" r="1.4" fill="#fff" stroke="#000" stroke-width="0.9"/>
<circle cx="348.19" cy="197.27" r="1.4" fill="#fff" stroke="#000" stroke-width="0.9"/>
<circle cx="348.47" cy="198.54" r="1.4" fill="#fff" stroke="#000" stroke-width="0.9"/>
<circle cx="346.3" cy="197.17" r="1.4" fill="#fff" stroke="#000" stroke-width="0.9"/>
<circle cx="348.99" cy="198.66" r="1.4" fill="#fff" stroke="#000" stroke-width="0.9"/>
<circle cx="346.62" cy="197.46" r="1.4" fill="#fff" stroke="#000" stroke-width="0.9"/>
<circle cx="348.81" cy="225.81" r="1.4" fill="#fff" stroke="#000" stroke-width="0.9"/>
<circle cx="347.64" cy="226.83" r="1.4" fill="#fff" stroke="#000" stroke-width="0.9"/>
<circle cx="347.44" cy="227.73" r="1.4" fill="#fff" stroke="#000" stroke-width="0.9"/>
<circle cx="344.97" cy="226.66" r="1.4" fill="#fff" stroke="#000" stroke-width="0.9"/>
<circle cx="349.45" cy="226.52" r="1.4" fill="#fff" stroke="#000" stroke-width="0.9"/>
<circle cx="347.62" cy="184.27" r="1.35" fill="#8a1a2e" stroke="#5a0a1a" stroke-width="0.4"/>
<circle cx="347.64" cy="192.26" r="1.35" fill="#8a1a2e" stroke="#5a0a1a" stroke-width="0.4"/>
<circle cx="346.88" cy="193.66" r="1.35" fill="#8a1a2e" stroke="#5a0a1a" stroke-width="0.4"/>
<line x1="356.66" y1="222.47" x2="356.66" y2="198.97" stroke="#111" stroke-width="0.9"/>
<line x1="354.96" y1="198.97" x2="358.36" y2="198.97" stroke="#111" stroke-width="0.9"/>
<circle cx="354.62" cy="200.41" r="1.4" fill="#fff" stroke="#000" stroke-width="0.9"/>
<circle cx="354.36" cy="202.79" r="1.4" fill="#fff" stroke="#000" stroke-width="0.9"/>
<circle cx="356.57" cy="206.81" r="1.4" fill="#fff" stroke="#000" stroke-width="0.9"/>
<circle cx="357.63" cy="216.84" r="1.4" fill="#fff" stroke="#000" stroke-width="0.9"/>
<circle cx="357.22" cy="209.62" r="1.4" fill="#fff" stroke="#000" stroke-width="0.9"/>
<circle cx="355.46" cy="198.19" r="1.4" fill="#fff" stroke="#000" stroke-width="0.9"/>
<circle cx="355.69" cy="222.76" r="1.4" fill="#fff" stroke="#000" stroke-width="0.9"/>
<circle cx="355.2" cy="204.74" r="1.4" fill="#fff" stroke="#000" stroke-width="0.9"/>
<circle cx="358.65" cy="218.48" r="1.4" fill="#fff" stroke="#000" stroke-width="0.9"/>
<circle cx="356.38" cy="205.23" r="1.4" fill="#fff" stroke="#000" stroke-width="0.9"/>
<circle cx="355.81" cy="198.96" r="1.4" fill="#fff" stroke="#000" stroke-width="0.9"/>
<circle cx="355.18" cy="205.07" r="1.4" fill="#fff" stroke="#000" stroke-width="0.9"/>
<circle cx="358.16" cy="211.42" r="1.4" fill="#fff" stroke="#000" stroke-width="0.9"/>
<circle cx="358.52" cy="198.36" r="1.4" fill="#fff" stroke="#000" stroke-width="0.9"/>
<circle cx="357.07" cy="212.67" r="1.4" fill="#fff" stroke="#000" stroke-width="0.9"/>
<circle cx="354.88" cy="214.51" r="1.4" fill="#fff" stroke="#000" stroke-width="0.9"/>
<circle cx="358.31" cy="209.65" r="1.4" fill="#fff" stroke="#000" stroke-width="0.9"/>
<circle cx="357.69" cy="200.13" r="1.4" fill="#fff" stroke="#000" stroke-width="0.9"/>
<circle cx="356.08" cy="182.13" r="1.35" fill="#8a1a2e" stroke="#5a0a1a" stroke-width="0.4"/>
<circle cx="356.53" cy="194.98" r="1.35" fill="#8a1a2e" stroke="#5a0a1a" stroke-width="0.4"/>
<line x1="366.29" y1="217.78" x2="366.29" y2="208.38" stroke="#111" stroke-width="0.9"/>
<line x1="364.59" y1="208.38" x2="367.99" y2="208.38" stroke="#111" stroke-width="0.9"/>
<circle cx="364.89" cy="219.21" r="1.4" fill="#fff" stroke="#000" stroke-width="0.9"/>
<circle cx="366.91" cy="215.78" r="1.4" fill="#fff" stroke="#000" stroke-width="0.9"/>
<circle cx="365.39" cy="213.81" r="1.4" fill="#fff" stroke="#000" stroke-width="0.9"/>
<circle cx="368.65" cy="205.29" r="1.4" fill="#fff" stroke="#000" stroke-width="0.9"/>
<circle cx="364.21" cy="214.84" r="1.4" fill="#fff" stroke="#000" stroke-width="0.9"/>
<circle cx="368.12" cy="225.22" r="1.4" fill="#fff" stroke="#000" stroke-width="0.9"/>
<circle cx="367.31" cy="224.98" r="1.4" fill="#fff" stroke="#000" stroke-width="0.9"/>
<circle cx="365.35" cy="211.92" r="1.4" fill="#fff" stroke="#000" stroke-width="0.9"/>
<circle cx="363.93" cy="206.47" r="1.4" fill="#fff" stroke="#000" stroke-width="0.9"/>
<circle cx="366.07" cy="222.65" r="1.4" fill="#fff" stroke="#000" stroke-width="0.9"/>
<circle cx="367.91" cy="225.39" r="1.4" fill="#fff" stroke="#000" stroke-width="0.9"/>
<circle cx="364.53" cy="220.14" r="1.4" fill="#fff" stroke="#000" stroke-width="0.9"/>
<circle cx="366.92" cy="212.85" r="1.4" fill="#fff" stroke="#000" stroke-width="0.9"/>
<circle cx="366.93" cy="210.98" r="1.4" fill="#fff" stroke="#000" stroke-width="0.9"/>
<circle cx="367.8" cy="210" r="1.4" fill="#fff" stroke="#000" stroke-width="0.9"/>
<circle cx="367.19" cy="208.57" r="1.4" fill="#fff" stroke="#000" stroke-width="0.9"/>
<circle cx="366.17" cy="212.14" r="1.4" fill="#fff" stroke="#000" stroke-width="0.9"/>
<circle cx="363.89" cy="212.24" r="1.4" fill="#fff" stroke="#000" stroke-width="0.9"/>
<line x1="282.9" y1="173.4" x2="282.9" y2="236" stroke="#111" stroke-width="1.3"/>
<line x1="282.3" y1="235.4" x2="372.8" y2="235.4" stroke="#111" stroke-width="1.3"/>
<line x1="280.3" y1="235.4" x2="282.9" y2="235.4" stroke="#111" stroke-width="0.9"/>
<text x="278.3" y="237.7" font-size="6.6" fill="#1a1a1a" text-anchor="end" font-weight="normal" stroke="#1a1a1a" stroke-width="0.22">0</text>
<line x1="280.3" y1="223.65" x2="282.9" y2="223.65" stroke="#111" stroke-width="0.9"/>
<text x="278.3" y="225.95" font-size="6.6" fill="#1a1a1a" text-anchor="end" font-weight="normal" stroke="#1a1a1a" stroke-width="0.22">20</text>
<line x1="280.3" y1="211.9" x2="282.9" y2="211.9" stroke="#111" stroke-width="0.9"/>
<text x="278.3" y="214.2" font-size="6.6" fill="#1a1a1a" text-anchor="end" font-weight="normal" stroke="#1a1a1a" stroke-width="0.22">40</text>
<line x1="280.3" y1="200.15" x2="282.9" y2="200.15" stroke="#111" stroke-width="0.9"/>
<text x="278.3" y="202.45" font-size="6.6" fill="#1a1a1a" text-anchor="end" font-weight="normal" stroke="#1a1a1a" stroke-width="0.22">60</text>
<line x1="280.3" y1="188.4" x2="282.9" y2="188.4" stroke="#111" stroke-width="0.9"/>
<text x="278.3" y="190.7" font-size="6.6" fill="#1a1a1a" text-anchor="end" font-weight="normal" stroke="#1a1a1a" stroke-width="0.22">80</text>
<line x1="280.3" y1="176.65" x2="282.9" y2="176.65" stroke="#111" stroke-width="0.9"/>
<text x="278.3" y="178.95" font-size="6.6" fill="#1a1a1a" text-anchor="end" font-weight="normal" stroke="#1a1a1a" stroke-width="0.22">100</text>
<line x1="289.25" y1="235.4" x2="289.25" y2="238.2" stroke="#111" stroke-width="1.0"/>
<text x="291.65" y="243.6" font-size="6.3" fill="#1a1a1a" text-anchor="end" font-weight="normal" stroke="#1a1a1a" stroke-width="0.2" letter-spacing="-0.1" transform="rotate(-45 291.65 243.6)">+/+</text>
<line x1="298.88" y1="235.4" x2="298.88" y2="238.2" stroke="#111" stroke-width="1.0"/>
<text x="301.28" y="243.6" font-size="6.3" fill="#1a1a1a" text-anchor="end" font-weight="normal" stroke="#1a1a1a" stroke-width="0.2" letter-spacing="-0.1" transform="rotate(-45 301.28 243.6)">weh/+</text>
<line x1="308.51" y1="235.4" x2="308.51" y2="238.2" stroke="#111" stroke-width="1.0"/>
<text x="310.91" y="243.6" font-size="6.3" fill="#1a1a1a" text-anchor="end" font-weight="normal" stroke="#1a1a1a" stroke-width="0.2" letter-spacing="-0.1" transform="rotate(-45 310.91 243.6)">weh/weh</text>
<line x1="318.14" y1="235.4" x2="318.14" y2="238.2" stroke="#111" stroke-width="1.0"/>
<text x="320.54" y="243.6" font-size="6.3" fill="#1a1a1a" text-anchor="end" font-weight="normal" stroke="#1a1a1a" stroke-width="0.2" letter-spacing="-0.1" transform="rotate(-45 320.54 243.6)">+/+</text>
<line x1="327.77" y1="235.4" x2="327.77" y2="238.2" stroke="#111" stroke-width="1.0"/>
<text x="330.17" y="243.6" font-size="6.3" fill="#1a1a1a" text-anchor="end" font-weight="normal" stroke="#1a1a1a" stroke-width="0.2" letter-spacing="-0.1" transform="rotate(-45 330.17 243.6)">weh/+</text>
<line x1="337.4" y1="235.4" x2="337.4" y2="238.2" stroke="#111" stroke-width="1.0"/>
<text x="339.8" y="243.6" font-size="6.3" fill="#1a1a1a" text-anchor="end" font-weight="normal" stroke="#1a1a1a" stroke-width="0.2" letter-spacing="-0.1" transform="rotate(-45 339.8 243.6)">weh/weh</text>
<line x1="347.03" y1="235.4" x2="347.03" y2="238.2" stroke="#111" stroke-width="1.0"/>
<text x="349.43" y="243.6" font-size="6.3" fill="#1a1a1a" text-anchor="end" font-weight="normal" stroke="#1a1a1a" stroke-width="0.2" letter-spacing="-0.1" transform="rotate(-45 349.43 243.6)">+/+</text>
<line x1="356.66" y1="235.4" x2="356.66" y2="238.2" stroke="#111" stroke-width="1.0"/>
<text x="359.06" y="243.6" font-size="6.3" fill="#1a1a1a" text-anchor="end" font-weight="normal" stroke="#1a1a1a" stroke-width="0.2" letter-spacing="-0.1" transform="rotate(-45 359.06 243.6)">weh/+</text>
<line x1="366.29" y1="235.4" x2="366.29" y2="238.2" stroke="#111" stroke-width="1.0"/>
<text x="368.69" y="243.6" font-size="6.3" fill="#1a1a1a" text-anchor="end" font-weight="normal" stroke="#1a1a1a" stroke-width="0.2" letter-spacing="-0.1" transform="rotate(-45 368.69 243.6)">weh/weh</text>
<text x="260.8" y="205.7" font-size="7.6" fill="#1a1a1a" text-anchor="middle" font-weight="normal" stroke="#1a1a1a" stroke-width="0.3" transform="rotate(-90 260.8 205.7)" textLength="74.4" lengthAdjust="spacingAndGlyphs">lcr:GFP+ heme intensity (IU)</text>
<rect x="308.8" y="262.35" width="31.2" height="1.7" fill="#666666"/>
<rect x="345.4" y="262.35" width="32.6" height="1.7" fill="#666666"/>
<text x="325.4" y="272" font-size="6.3" fill="#d0456c" text-anchor="middle" font-weight="normal" stroke="#d0456c" stroke-width="0.1" textLength="30.5" lengthAdjust="spacingAndGlyphs">+10μM Iron</text>
<text x="362.2" y="272" font-size="6.3" fill="#5e5048" text-anchor="middle" font-weight="normal" stroke="#5e5048" stroke-width="0.1" textLength="30.5" lengthAdjust="spacingAndGlyphs">+15μM Iron</text>
<text x="253.4" y="151.4" font-size="10.6" fill="#000" text-anchor="start" font-weight="bold" stroke="#000" stroke-width="0.5">D</text>
<path d="M308.8 168V165.6H367V168" fill="none" stroke="#333" stroke-width="1.0"/>
<text x="337.9" y="166.3" font-size="5.4" fill="#222" text-anchor="middle" font-weight="normal" stroke="#222" stroke-width="0.2">***</text>
<path d="M289.2 176V173.6H337.7V176" fill="none" stroke="#333" stroke-width="1.0"/>
<text x="313.45" y="174.3" font-size="5.4" fill="#222" text-anchor="middle" font-weight="normal" stroke="#222" stroke-width="0.2">***</text>
<path d="M298.7 182.8V180.4H309.4V182.8" fill="none" stroke="#333" stroke-width="1.0"/>
<text x="304.05" y="181.1" font-size="5.4" fill="#222" text-anchor="middle" font-weight="normal" stroke="#222" stroke-width="0.2">***</text>
<path d="M289.2 189.7V187.3H309.4V189.7" fill="none" stroke="#333" stroke-width="1.0"/>
<text x="299.3" y="188" font-size="5.4" fill="#222" text-anchor="middle" font-weight="normal" stroke="#222" stroke-width="0.2">***</text>
<rect x="421.2" y="202.24" width="5.9" height="33.46" fill="#414d57"/>
<rect x="430.9" y="203.44" width="5.9" height="32.27" fill="#414d57"/>
<rect x="440.6" y="210.6" width="5.9" height="25.1" fill="#414d57"/>
<rect x="450.3" y="203.44" width="5.9" height="32.27" fill="#888e94"/>
<rect x="460" y="205.82" width="5.9" height="29.88" fill="#888e94"/>
<rect x="469.7" y="211.8" width="5.9" height="23.9" fill="#888e94"/>
<rect x="479.4" y="208.21" width="5.9" height="27.49" fill="#c4c7cb"/>
<rect x="489.1" y="207.02" width="5.9" height="28.68" fill="#c4c7cb"/>
<rect x="498.8" y="204.63" width="5.9" height="31.07" fill="#c4c7cb"/>
<line x1="419.4" y1="191.96" x2="507.5" y2="191.96" stroke="#d9738a" stroke-width="1.3" stroke-dasharray="3.2 2.2"/>
<line x1="419.4" y1="216.34" x2="507.5" y2="216.34" stroke="#c0405e" stroke-width="1.0" stroke-dasharray="3.2 1.4"/>
<line x1="424.15" y1="207.02" x2="424.15" y2="197.46" stroke="#111" stroke-width="0.9"/>
<line x1="422.45" y1="197.46" x2="425.85" y2="197.46" stroke="#111" stroke-width="0.9"/>
<circle cx="425.13" cy="211.58" r="1.05" fill="#fff" stroke="#000" stroke-width="0.8"/>
<circle cx="426" cy="201.43" r="1.05" fill="#fff" stroke="#000" stroke-width="0.8"/>
<circle cx="422.72" cy="213.34" r="1.05" fill="#fff" stroke="#000" stroke-width="0.8"/>
<circle cx="422.69" cy="214.26" r="1.05" fill="#fff" stroke="#000" stroke-width="0.8"/>
<circle cx="422.19" cy="200.23" r="1.05" fill="#fff" stroke="#000" stroke-width="0.8"/>
<circle cx="422.63" cy="205.08" r="1.05" fill="#fff" stroke="#000" stroke-width="0.8"/>
<circle cx="423.79" cy="210.73" r="1.05" fill="#fff" stroke="#000" stroke-width="0.8"/>
<circle cx="424.72" cy="197.76" r="1.05" fill="#fff" stroke="#000" stroke-width="0.8"/>
<circle cx="422.96" cy="217.43" r="1.05" fill="#fff" stroke="#000" stroke-width="0.8"/>
<circle cx="426.12" cy="214.27" r="1.05" fill="#fff" stroke="#000" stroke-width="0.8"/>
<circle cx="425.77" cy="198.42" r="1.05" fill="#fff" stroke="#000" stroke-width="0.8"/>
<circle cx="425.45" cy="198.02" r="1.05" fill="#fff" stroke="#000" stroke-width="0.8"/>
<circle cx="425.71" cy="195.09" r="1.05" fill="#fff" stroke="#000" stroke-width="0.8"/>
<circle cx="426" cy="211.64" r="1.05" fill="#fff" stroke="#000" stroke-width="0.8"/>
<circle cx="425.5" cy="206.14" r="1.05" fill="#fff" stroke="#000" stroke-width="0.8"/>
<circle cx="423.78" cy="204.29" r="1.05" fill="#fff" stroke="#000" stroke-width="0.8"/>
<circle cx="423.78" cy="209.07" r="1.05" fill="#fff" stroke="#000" stroke-width="0.8"/>
<circle cx="422.12" cy="210.28" r="1.05" fill="#fff" stroke="#000" stroke-width="0.8"/>
<circle cx="425.73" cy="198.19" r="1.05" fill="#fff" stroke="#000" stroke-width="0.8"/>
<circle cx="425.16" cy="194.22" r="1.05" fill="#fff" stroke="#000" stroke-width="0.8"/>
<circle cx="425.47" cy="204.53" r="1.05" fill="#fff" stroke="#000" stroke-width="0.8"/>
<circle cx="425.09" cy="214.55" r="1.05" fill="#fff" stroke="#000" stroke-width="0.8"/>
<circle cx="422.44" cy="207.18" r="1.05" fill="#fff" stroke="#000" stroke-width="0.8"/>
<circle cx="424.27" cy="212.93" r="1.05" fill="#fff" stroke="#000" stroke-width="0.8"/>
<circle cx="423.94" cy="211.72" r="1.05" fill="#fff" stroke="#000" stroke-width="0.8"/>
<circle cx="423.6" cy="203.3" r="1.05" fill="#fff" stroke="#000" stroke-width="0.8"/>
<circle cx="424.1" cy="214.65" r="1.05" fill="#fff" stroke="#000" stroke-width="0.8"/>
<circle cx="422.75" cy="212.15" r="1.05" fill="#fff" stroke="#000" stroke-width="0.8"/>
<circle cx="423.44" cy="213.13" r="1.05" fill="#fff" stroke="#000" stroke-width="0.8"/>
<circle cx="424.95" cy="216.02" r="1.05" fill="#fff" stroke="#000" stroke-width="0.8"/>
<circle cx="423.57" cy="194.98" r="1.05" fill="#fff" stroke="#000" stroke-width="0.8"/>
<circle cx="426.44" cy="200.59" r="1.05" fill="#fff" stroke="#000" stroke-width="0.8"/>
<circle cx="422.25" cy="216.74" r="1.05" fill="#fff" stroke="#000" stroke-width="0.8"/>
<circle cx="425.94" cy="198.51" r="1.05" fill="#fff" stroke="#000" stroke-width="0.8"/>
<circle cx="422.35" cy="202.5" r="1.05" fill="#fff" stroke="#000" stroke-width="0.8"/>
<circle cx="426.1" cy="207.89" r="1.05" fill="#fff" stroke="#000" stroke-width="0.8"/>
<circle cx="425.76" cy="196.6" r="1.05" fill="#fff" stroke="#000" stroke-width="0.8"/>
<circle cx="426.02" cy="212.92" r="1.05" fill="#fff" stroke="#000" stroke-width="0.8"/>
<circle cx="425.3" cy="208.82" r="1.05" fill="#fff" stroke="#000" stroke-width="0.8"/>
<circle cx="426.65" cy="214.5" r="1.05" fill="#fff" stroke="#000" stroke-width="0.8"/>
<circle cx="425.33" cy="203.35" r="1.05" fill="#fff" stroke="#000" stroke-width="0.8"/>
<circle cx="424.77" cy="212.71" r="1.05" fill="#fff" stroke="#000" stroke-width="0.8"/>
<circle cx="424.63" cy="203.89" r="1.05" fill="#fff" stroke="#000" stroke-width="0.8"/>
<circle cx="425.36" cy="209.19" r="1.05" fill="#fff" stroke="#000" stroke-width="0.8"/>
<circle cx="423.07" cy="209.62" r="1.05" fill="#fff" stroke="#000" stroke-width="0.8"/>
<circle cx="425.13" cy="213.84" r="1.05" fill="#fff" stroke="#000" stroke-width="0.8"/>
<circle cx="422.7" cy="215.09" r="1.05" fill="#fff" stroke="#000" stroke-width="0.8"/>
<circle cx="424.91" cy="216.12" r="1.05" fill="#fff" stroke="#000" stroke-width="0.8"/>
<circle cx="424.38" cy="204.48" r="1.05" fill="#fff" stroke="#000" stroke-width="0.8"/>
<circle cx="423.83" cy="216.85" r="1.05" fill="#fff" stroke="#000" stroke-width="0.8"/>
<circle cx="421.99" cy="209.58" r="1.05" fill="#fff" stroke="#000" stroke-width="0.8"/>
<circle cx="426.79" cy="217.7" r="1.05" fill="#fff" stroke="#000" stroke-width="0.8"/>
<circle cx="423.1" cy="214.87" r="1.05" fill="#fff" stroke="#000" stroke-width="0.8"/>
<circle cx="424.67" cy="211.35" r="1.05" fill="#fff" stroke="#000" stroke-width="0.8"/>
<circle cx="423.99" cy="215.92" r="1.05" fill="#fff" stroke="#000" stroke-width="0.8"/>
<circle cx="425.92" cy="209.01" r="1.05" fill="#fff" stroke="#000" stroke-width="0.8"/>
<circle cx="423.27" cy="217.64" r="1.05" fill="#fff" stroke="#000" stroke-width="0.8"/>
<circle cx="426.64" cy="205.91" r="1.05" fill="#fff" stroke="#000" stroke-width="0.8"/>
<circle cx="424.18" cy="220.4" r="1.05" fill="#fff" stroke="#000" stroke-width="0.8"/>
<line x1="433.85" y1="208.21" x2="433.85" y2="198.65" stroke="#111" stroke-width="0.9"/>
<line x1="432.15" y1="198.65" x2="435.55" y2="198.65" stroke="#111" stroke-width="0.9"/>
<circle cx="434.75" cy="205.94" r="1.05" fill="#fff" stroke="#000" stroke-width="0.8"/>
<circle cx="431.37" cy="210.82" r="1.05" fill="#fff" stroke="#000" stroke-width="0.8"/>
<circle cx="436.03" cy="205.19" r="1.05" fill="#fff" stroke="#000" stroke-width="0.8"/>
<circle cx="432.57" cy="198.68" r="1.05" fill="#fff" stroke="#000" stroke-width="0.8"/>
<circle cx="435.7" cy="200.17" r="1.05" fill="#fff" stroke="#000" stroke-width="0.8"/>
<circle cx="434.32" cy="211.86" r="1.05" fill="#fff" stroke="#000" stroke-width="0.8"/>
<circle cx="432.49" cy="209.2" r="1.05" fill="#fff" stroke="#000" stroke-width="0.8"/>
<circle cx="432.28" cy="211.07" r="1.05" fill="#fff" stroke="#000" stroke-width="0.8"/>
<circle cx="431.4" cy="209.33" r="1.05" fill="#fff" stroke="#000" stroke-width="0.8"/>
<circle cx="431.66" cy="208.04" r="1.05" fill="#fff" stroke="#000" stroke-width="0.8"/>
<circle cx="434.38" cy="198.13" r="1.05" fill="#fff" stroke="#000" stroke-width="0.8"/>
<circle cx="435.3" cy="218.86" r="1.05" fill="#fff" stroke="#000" stroke-width="0.8"/>
<circle cx="433.75" cy="213.74" r="1.05" fill="#fff" stroke="#000" stroke-width="0.8"/>
<circle cx="432.96" cy="203.73" r="1.05" fill="#fff" stroke="#000" stroke-width="0.8"/>
<circle cx="433.51" cy="211.01" r="1.05" fill="#fff" stroke="#000" stroke-width="0.8"/>
<circle cx="435.78" cy="215.2" r="1.05" fill="#fff" stroke="#000" stroke-width="0.8"/>
<circle cx="435.56" cy="215.89" r="1.05" fill="#fff" stroke="#000" stroke-width="0.8"/>
<circle cx="432.81" cy="212.97" r="1.05" fill="#fff" stroke="#000" stroke-width="0.8"/>
<circle cx="431.38" cy="208.3" r="1.05" fill="#fff" stroke="#000" stroke-width="0.8"/>
<circle cx="433.11" cy="215.44" r="1.05" fill="#fff" stroke="#000" stroke-width="0.8"/>
<circle cx="435.85" cy="206.83" r="1.05" fill="#fff" stroke="#000" stroke-width="0.8"/>
<circle cx="431.43" cy="191.76" r="1.05" fill="#fff" stroke="#000" stroke-width="0.8"/>
<circle cx="431.89" cy="204.26" r="1.05" fill="#fff" stroke="#000" stroke-width="0.8"/>
<circle cx="432.91" cy="196.88" r="1.05" fill="#fff" stroke="#000" stroke-width="0.8"/>
<circle cx="434.09" cy="194.43" r="1.05" fill="#fff" stroke="#000" stroke-width="0.8"/>
<circle cx="431.23" cy="215.52" r="1.05" fill="#fff" stroke="#000" stroke-width="0.8"/>
<circle cx="435.8" cy="212.15" r="1.05" fill="#fff" stroke="#000" stroke-width="0.8"/>
<circle cx="433.74" cy="214.85" r="1.05" fill="#fff" stroke="#000" stroke-width="0.8"/>
<circle cx="433.03" cy="208.76" r="1.05" fill="#fff" stroke="#000" stroke-width="0.8"/>
<circle cx="432.33" cy="196.93" r="1.05" fill="#fff" stroke="#000" stroke-width="0.8"/>
<circle cx="434.73" cy="199.23" r="1.05" fill="#fff" stroke="#000" stroke-width="0.8"/>
<circle cx="433.96" cy="193.26" r="1.05" fill="#fff" stroke="#000" stroke-width="0.8"/>
<circle cx="433.53" cy="193.67" r="1.05" fill="#fff" stroke="#000" stroke-width="0.8"/>
<circle cx="434.49" cy="203.21" r="1.05" fill="#fff" stroke="#000" stroke-width="0.8"/>
<circle cx="435.96" cy="195.89" r="1.05" fill="#fff" stroke="#000" stroke-width="0.8"/>
<circle cx="431.93" cy="215.8" r="1.05" fill="#fff" stroke="#000" stroke-width="0.8"/>
<circle cx="435.51" cy="204.3" r="1.05" fill="#fff" stroke="#000" stroke-width="0.8"/>
<circle cx="432.79" cy="204.3" r="1.05" fill="#fff" stroke="#000" stroke-width="0.8"/>
<circle cx="432.78" cy="192.53" r="1.05" fill="#fff" stroke="#000" stroke-width="0.8"/>
<circle cx="431.48" cy="216.58" r="1.05" fill="#fff" stroke="#000" stroke-width="0.8"/>
<circle cx="435.05" cy="218.13" r="1.05" fill="#fff" stroke="#000" stroke-width="0.8"/>
<circle cx="435" cy="216.02" r="1.05" fill="#fff" stroke="#000" stroke-width="0.8"/>
<circle cx="436.5" cy="195.16" r="1.05" fill="#fff" stroke="#000" stroke-width="0.8"/>
<circle cx="433.45" cy="196.73" r="1.05" fill="#fff" stroke="#000" stroke-width="0.8"/>
<circle cx="435.62" cy="201.87" r="1.05" fill="#fff" stroke="#000" stroke-width="0.8"/>
<circle cx="432.74" cy="199.29" r="1.05" fill="#fff" stroke="#000" stroke-width="0.8"/>
<circle cx="431.78" cy="198.03" r="1.05" fill="#fff" stroke="#000" stroke-width="0.8"/>
<circle cx="436.48" cy="210.49" r="1.05" fill="#fff" stroke="#000" stroke-width="0.8"/>
<circle cx="432.62" cy="206.02" r="1.05" fill="#fff" stroke="#000" stroke-width="0.8"/>
<circle cx="433.59" cy="197.4" r="1.05" fill="#fff" stroke="#000" stroke-width="0.8"/>
<circle cx="431.36" cy="218.87" r="1.05" fill="#fff" stroke="#000" stroke-width="0.8"/>
<circle cx="432.96" cy="211.85" r="1.05" fill="#fff" stroke="#000" stroke-width="0.8"/>
<circle cx="432.51" cy="193.21" r="1.05" fill="#fff" stroke="#000" stroke-width="0.8"/>
<circle cx="435.72" cy="195.61" r="1.05" fill="#fff" stroke="#000" stroke-width="0.8"/>
<circle cx="436.46" cy="207.53" r="1.05" fill="#fff" stroke="#000" stroke-width="0.8"/>
<circle cx="433.77" cy="198.03" r="1.05" fill="#fff" stroke="#000" stroke-width="0.8"/>
<circle cx="433.64" cy="211.78" r="1.05" fill="#fff" stroke="#000" stroke-width="0.8"/>
<circle cx="434.04" cy="194.18" r="1.05" fill="#fff" stroke="#000" stroke-width="0.8"/>
<circle cx="433.53" cy="181.65" r="1.2" fill="#8a1a2e" stroke="#5a0a1a" stroke-width="0.4"/>
<circle cx="433.05" cy="191.28" r="1.2" fill="#8a1a2e" stroke="#5a0a1a" stroke-width="0.4"/>
<line x1="443.55" y1="216.58" x2="443.55" y2="204.63" stroke="#111" stroke-width="0.9"/>
<line x1="441.85" y1="204.63" x2="445.25" y2="204.63" stroke="#111" stroke-width="0.9"/>
<circle cx="441.08" cy="207.17" r="1.05" fill="#fff" stroke="#000" stroke-width="0.8"/>
<circle cx="441.85" cy="203.61" r="1.05" fill="#fff" stroke="#000" stroke-width="0.8"/>
<circle cx="444.02" cy="213.91" r="1.05" fill="#fff" stroke="#000" stroke-width="0.8"/>
<circle cx="445.59" cy="210.98" r="1.05" fill="#fff" stroke="#000" stroke-width="0.8"/>
<circle cx="443.66" cy="208.26" r="1.05" fill="#fff" stroke="#000" stroke-width="0.8"/>
<circle cx="442.04" cy="203.42" r="1.05" fill="#fff" stroke="#000" stroke-width="0.8"/>
<circle cx="444.34" cy="204.7" r="1.05" fill="#fff" stroke="#000" stroke-width="0.8"/>
<circle cx="445.98" cy="209.24" r="1.05" fill="#fff" stroke="#000" stroke-width="0.8"/>
<circle cx="445.47" cy="215.07" r="1.05" fill="#fff" stroke="#000" stroke-width="0.8"/>
<circle cx="445.35" cy="213.33" r="1.05" fill="#fff" stroke="#000" stroke-width="0.8"/>
<circle cx="441.18" cy="213.18" r="1.05" fill="#fff" stroke="#000" stroke-width="0.8"/>
<circle cx="445.81" cy="208.21" r="1.05" fill="#fff" stroke="#000" stroke-width="0.8"/>
<circle cx="443.48" cy="211.69" r="1.05" fill="#fff" stroke="#000" stroke-width="0.8"/>
<circle cx="442.19" cy="206.67" r="1.05" fill="#fff" stroke="#000" stroke-width="0.8"/>
<circle cx="440.95" cy="207.78" r="1.05" fill="#fff" stroke="#000" stroke-width="0.8"/>
<circle cx="444.93" cy="208.94" r="1.05" fill="#fff" stroke="#000" stroke-width="0.8"/>
<circle cx="442.07" cy="210.51" r="1.05" fill="#fff" stroke="#000" stroke-width="0.8"/>
<circle cx="444.61" cy="214.66" r="1.05" fill="#fff" stroke="#000" stroke-width="0.8"/>
<circle cx="445.74" cy="209.26" r="1.05" fill="#fff" stroke="#000" stroke-width="0.8"/>
<circle cx="441.43" cy="204.77" r="1.05" fill="#fff" stroke="#000" stroke-width="0.8"/>
<circle cx="445.84" cy="202.28" r="1.05" fill="#fff" stroke="#000" stroke-width="0.8"/>
<circle cx="445.31" cy="203.67" r="1.05" fill="#fff" stroke="#000" stroke-width="0.8"/>
<circle cx="444.72" cy="205.61" r="1.05" fill="#fff" stroke="#000" stroke-width="0.8"/>
<circle cx="444.03" cy="205.82" r="1.05" fill="#fff" stroke="#000" stroke-width="0.8"/>
<circle cx="441.61" cy="211.7" r="1.05" fill="#fff" stroke="#000" stroke-width="0.8"/>
<circle cx="444.06" cy="204.97" r="1.05" fill="#fff" stroke="#000" stroke-width="0.8"/>
<circle cx="444.3" cy="214.58" r="1.05" fill="#fff" stroke="#000" stroke-width="0.8"/>
<circle cx="443.61" cy="206.64" r="1.05" fill="#fff" stroke="#000" stroke-width="0.8"/>
<circle cx="445.54" cy="204.27" r="1.05" fill="#fff" stroke="#000" stroke-width="0.8"/>
<circle cx="445.22" cy="209.92" r="1.05" fill="#fff" stroke="#000" stroke-width="0.8"/>
<circle cx="443.93" cy="208.23" r="1.05" fill="#fff" stroke="#000" stroke-width="0.8"/>
<circle cx="445.84" cy="209.45" r="1.05" fill="#fff" stroke="#000" stroke-width="0.8"/>
<circle cx="445.95" cy="209.01" r="1.05" fill="#fff" stroke="#000" stroke-width="0.8"/>
<circle cx="444.46" cy="210.53" r="1.05" fill="#fff" stroke="#000" stroke-width="0.8"/>
<circle cx="444.52" cy="202.3" r="1.05" fill="#fff" stroke="#000" stroke-width="0.8"/>
<circle cx="441.31" cy="210" r="1.05" fill="#fff" stroke="#000" stroke-width="0.8"/>
<circle cx="443.1" cy="208.53" r="1.05" fill="#fff" stroke="#000" stroke-width="0.8"/>
<circle cx="445.06" cy="203.71" r="1.05" fill="#fff" stroke="#000" stroke-width="0.8"/>
<circle cx="443.27" cy="201.24" r="1.05" fill="#fff" stroke="#000" stroke-width="0.8"/>
<circle cx="443.89" cy="209.5" r="1.05" fill="#fff" stroke="#000" stroke-width="0.8"/>
<circle cx="442.46" cy="185.15" r="1.2" fill="#8a1a2e" stroke="#5a0a1a" stroke-width="0.4"/>
<circle cx="442.63" cy="189.02" r="1.2" fill="#8a1a2e" stroke="#5a0a1a" stroke-width="0.4"/>
<circle cx="443.36" cy="222.68" r="1.2" fill="#8a1a2e" stroke="#5a0a1a" stroke-width="0.4"/>
<circle cx="443.35" cy="223.03" r="1.2" fill="#8a1a2e" stroke="#5a0a1a" stroke-width="0.4"/>
<circle cx="442.89" cy="213.45" r="1.2" fill="#8a1a2e" stroke="#5a0a1a" stroke-width="0.4"/>
<circle cx="442.98" cy="224.36" r="1.2" fill="#8a1a2e" stroke="#5a0a1a" stroke-width="0.4"/>
<circle cx="443.76" cy="213.95" r="1.2" fill="#8a1a2e" stroke="#5a0a1a" stroke-width="0.4"/>
<circle cx="443.69" cy="223.11" r="1.2" fill="#8a1a2e" stroke="#5a0a1a" stroke-width="0.4"/>
<circle cx="444.61" cy="224.41" r="1.2" fill="#8a1a2e" stroke="#5a0a1a" stroke-width="0.4"/>
<circle cx="442.98" cy="213.36" r="1.2" fill="#8a1a2e" stroke="#5a0a1a" stroke-width="0.4"/>
<circle cx="444.11" cy="226.06" r="1.2" fill="#8a1a2e" stroke="#5a0a1a" stroke-width="0.4"/>
<circle cx="442.5" cy="225.72" r="1.2" fill="#8a1a2e" stroke="#5a0a1a" stroke-width="0.4"/>
<circle cx="443.95" cy="225.49" r="1.2" fill="#8a1a2e" stroke="#5a0a1a" stroke-width="0.4"/>
<circle cx="442.67" cy="226.38" r="1.2" fill="#8a1a2e" stroke="#5a0a1a" stroke-width="0.4"/>
<circle cx="444.48" cy="221.79" r="1.2" fill="#8a1a2e" stroke="#5a0a1a" stroke-width="0.4"/>
<circle cx="444.76" cy="224.29" r="1.2" fill="#8a1a2e" stroke="#5a0a1a" stroke-width="0.4"/>
<circle cx="442.91" cy="225.05" r="1.2" fill="#8a1a2e" stroke="#5a0a1a" stroke-width="0.4"/>
<circle cx="444.35" cy="227.11" r="1.2" fill="#8a1a2e" stroke="#5a0a1a" stroke-width="0.4"/>
<circle cx="442.82" cy="217.32" r="1.2" fill="#8a1a2e" stroke="#5a0a1a" stroke-width="0.4"/>
<circle cx="443.04" cy="226.63" r="1.2" fill="#8a1a2e" stroke="#5a0a1a" stroke-width="0.4"/>
<circle cx="442.52" cy="224.02" r="1.2" fill="#8a1a2e" stroke="#5a0a1a" stroke-width="0.4"/>
<circle cx="443.4" cy="219.23" r="1.2" fill="#8a1a2e" stroke="#5a0a1a" stroke-width="0.4"/>
<circle cx="442.52" cy="214.67" r="1.2" fill="#8a1a2e" stroke="#5a0a1a" stroke-width="0.4"/>
<circle cx="444.08" cy="217.88" r="1.2" fill="#8a1a2e" stroke="#5a0a1a" stroke-width="0.4"/>
<circle cx="443.75" cy="217.17" r="1.2" fill="#8a1a2e" stroke="#5a0a1a" stroke-width="0.4"/>
<circle cx="443.34" cy="217.29" r="1.2" fill="#8a1a2e" stroke="#5a0a1a" stroke-width="0.4"/>
<circle cx="444.1" cy="215.9" r="1.2" fill="#8a1a2e" stroke="#5a0a1a" stroke-width="0.4"/>
<circle cx="442.86" cy="215.1" r="1.2" fill="#8a1a2e" stroke="#5a0a1a" stroke-width="0.4"/>
<circle cx="443.11" cy="225.11" r="1.2" fill="#8a1a2e" stroke="#5a0a1a" stroke-width="0.4"/>
<circle cx="443.2" cy="226.56" r="1.2" fill="#8a1a2e" stroke="#5a0a1a" stroke-width="0.4"/>
<circle cx="442.26" cy="218.43" r="1.2" fill="#8a1a2e" stroke="#5a0a1a" stroke-width="0.4"/>
<circle cx="444.56" cy="219.9" r="1.2" fill="#8a1a2e" stroke="#5a0a1a" stroke-width="0.4"/>
<circle cx="442.48" cy="219.86" r="1.2" fill="#8a1a2e" stroke="#5a0a1a" stroke-width="0.4"/>
<circle cx="442.51" cy="216.12" r="1.2" fill="#8a1a2e" stroke="#5a0a1a" stroke-width="0.4"/>
<circle cx="444.32" cy="224.84" r="1.2" fill="#8a1a2e" stroke="#5a0a1a" stroke-width="0.4"/>
<circle cx="444.38" cy="217.21" r="1.2" fill="#8a1a2e" stroke="#5a0a1a" stroke-width="0.4"/>
<line x1="453.25" y1="208.21" x2="453.25" y2="198.65" stroke="#111" stroke-width="0.9"/>
<line x1="451.55" y1="198.65" x2="454.95" y2="198.65" stroke="#111" stroke-width="0.9"/>
<circle cx="452.83" cy="205.88" r="1.05" fill="#fff" stroke="#000" stroke-width="0.8"/>
<circle cx="450.61" cy="213.25" r="1.05" fill="#fff" stroke="#000" stroke-width="0.8"/>
<circle cx="451.89" cy="204.14" r="1.05" fill="#fff" stroke="#000" stroke-width="0.8"/>
<circle cx="455.4" cy="212.97" r="1.05" fill="#fff" stroke="#000" stroke-width="0.8"/>
<circle cx="452.52" cy="216.12" r="1.05" fill="#fff" stroke="#000" stroke-width="0.8"/>
<circle cx="454.56" cy="198.62" r="1.05" fill="#fff" stroke="#000" stroke-width="0.8"/>
<circle cx="454.53" cy="214.02" r="1.05" fill="#fff" stroke="#000" stroke-width="0.8"/>
<circle cx="453.94" cy="203.11" r="1.05" fill="#fff" stroke="#000" stroke-width="0.8"/>
<circle cx="454.83" cy="194.03" r="1.05" fill="#fff" stroke="#000" stroke-width="0.8"/>
<circle cx="454.68" cy="202.26" r="1.05" fill="#fff" stroke="#000" stroke-width="0.8"/>
<circle cx="453.52" cy="204.83" r="1.05" fill="#fff" stroke="#000" stroke-width="0.8"/>
<circle cx="453.88" cy="197.04" r="1.05" fill="#fff" stroke="#000" stroke-width="0.8"/>
<circle cx="450.71" cy="207.58" r="1.05" fill="#fff" stroke="#000" stroke-width="0.8"/>
<circle cx="452.4" cy="197.71" r="1.05" fill="#fff" stroke="#000" stroke-width="0.8"/>
<circle cx="452.12" cy="206.33" r="1.05" fill="#fff" stroke="#000" stroke-width="0.8"/>
<circle cx="452.73" cy="203.31" r="1.05" fill="#fff" stroke="#000" stroke-width="0.8"/>
<circle cx="453.75" cy="196.65" r="1.05" fill="#fff" stroke="#000" stroke-width="0.8"/>
<circle cx="454.75" cy="203.23" r="1.05" fill="#fff" stroke="#000" stroke-width="0.8"/>
<circle cx="453.44" cy="206.05" r="1.05" fill="#fff" stroke="#000" stroke-width="0.8"/>
<circle cx="454.43" cy="198.65" r="1.05" fill="#fff" stroke="#000" stroke-width="0.8"/>
<circle cx="455.32" cy="198.81" r="1.05" fill="#fff" stroke="#000" stroke-width="0.8"/>
<circle cx="453.54" cy="203.24" r="1.05" fill="#fff" stroke="#000" stroke-width="0.8"/>
<circle cx="451.88" cy="212.08" r="1.05" fill="#fff" stroke="#000" stroke-width="0.8"/>
<circle cx="453.24" cy="206.2" r="1.05" fill="#fff" stroke="#000" stroke-width="0.8"/>
<circle cx="450.83" cy="195.09" r="1.05" fill="#fff" stroke="#000" stroke-width="0.8"/>
<circle cx="454.52" cy="208.22" r="1.05" fill="#fff" stroke="#000" stroke-width="0.8"/>
<circle cx="455.1" cy="205.61" r="1.05" fill="#fff" stroke="#000" stroke-width="0.8"/>
<circle cx="454.69" cy="212.76" r="1.05" fill="#fff" stroke="#000" stroke-width="0.8"/>
<circle cx="453.61" cy="206.27" r="1.05" fill="#fff" stroke="#000" stroke-width="0.8"/>
<circle cx="452.74" cy="215.22" r="1.05" fill="#fff" stroke="#000" stroke-width="0.8"/>
<circle cx="454.5" cy="197.39" r="1.05" fill="#fff" stroke="#000" stroke-width="0.8"/>
<circle cx="452.84" cy="203.1" r="1.05" fill="#fff" stroke="#000" stroke-width="0.8"/>
<circle cx="454.31" cy="215.65" r="1.05" fill="#fff" stroke="#000" stroke-width="0.8"/>
<circle cx="454.44" cy="205.91" r="1.05" fill="#fff" stroke="#000" stroke-width="0.8"/>
<circle cx="452.73" cy="201.95" r="1.05" fill="#fff" stroke="#000" stroke-width="0.8"/>
<circle cx="451.3" cy="195.68" r="1.05" fill="#fff" stroke="#000" stroke-width="0.8"/>
<circle cx="451.06" cy="193.66" r="1.05" fill="#fff" stroke="#000" stroke-width="0.8"/>
<circle cx="453.71" cy="193.42" r="1.05" fill="#fff" stroke="#000" stroke-width="0.8"/>
<circle cx="455.56" cy="205.88" r="1.05" fill="#fff" stroke="#000" stroke-width="0.8"/>
<circle cx="453.29" cy="204.34" r="1.05" fill="#fff" stroke="#000" stroke-width="0.8"/>
<circle cx="454.83" cy="215.15" r="1.05" fill="#fff" stroke="#000" stroke-width="0.8"/>
<circle cx="451.87" cy="201.3" r="1.05" fill="#fff" stroke="#000" stroke-width="0.8"/>
<circle cx="452.83" cy="213.86" r="1.05" fill="#fff" stroke="#000" stroke-width="0.8"/>
<circle cx="455.21" cy="194.23" r="1.05" fill="#fff" stroke="#000" stroke-width="0.8"/>
<circle cx="450.79" cy="205.46" r="1.05" fill="#fff" stroke="#000" stroke-width="0.8"/>
<circle cx="451.67" cy="196.77" r="1.05" fill="#fff" stroke="#000" stroke-width="0.8"/>
<circle cx="453.25" cy="199.11" r="1.05" fill="#fff" stroke="#000" stroke-width="0.8"/>
<circle cx="451.38" cy="193.55" r="1.05" fill="#fff" stroke="#000" stroke-width="0.8"/>
<circle cx="453.82" cy="190.11" r="1.2" fill="#8a1a2e" stroke="#5a0a1a" stroke-width="0.4"/>
<line x1="462.95" y1="211.8" x2="462.95" y2="199.85" stroke="#111" stroke-width="0.9"/>
<line x1="461.25" y1="199.85" x2="464.65" y2="199.85" stroke="#111" stroke-width="0.9"/>
<circle cx="463.3" cy="220.87" r="1.05" fill="#fff" stroke="#000" stroke-width="0.8"/>
<circle cx="463.99" cy="212.9" r="1.05" fill="#fff" stroke="#000" stroke-width="0.8"/>
<circle cx="463.83" cy="193.79" r="1.05" fill="#fff" stroke="#000" stroke-width="0.8"/>
<circle cx="463.5" cy="207.19" r="1.05" fill="#fff" stroke="#000" stroke-width="0.8"/>
<circle cx="462.78" cy="214.23" r="1.05" fill="#fff" stroke="#000" stroke-width="0.8"/>
<circle cx="464.12" cy="218.02" r="1.05" fill="#fff" stroke="#000" stroke-width="0.8"/>
<circle cx="463.09" cy="219.47" r="1.05" fill="#fff" stroke="#000" stroke-width="0.8"/>
<circle cx="463.28" cy="216.21" r="1.05" fill="#fff" stroke="#000" stroke-width="0.8"/>
<circle cx="460.45" cy="219.74" r="1.05" fill="#fff" stroke="#000" stroke-width="0.8"/>
<circle cx="464.11" cy="203.44" r="1.05" fill="#fff" stroke="#000" stroke-width="0.8"/>
<circle cx="463.89" cy="195.88" r="1.05" fill="#fff" stroke="#000" stroke-width="0.8"/>
<circle cx="461.06" cy="192.8" r="1.05" fill="#fff" stroke="#000" stroke-width="0.8"/>
<circle cx="463.67" cy="203.32" r="1.05" fill="#fff" stroke="#000" stroke-width="0.8"/>
<circle cx="461.04" cy="216.33" r="1.05" fill="#fff" stroke="#000" stroke-width="0.8"/>
<circle cx="463.07" cy="214.46" r="1.05" fill="#fff" stroke="#000" stroke-width="0.8"/>
<circle cx="464.07" cy="198.78" r="1.05" fill="#fff" stroke="#000" stroke-width="0.8"/>
<circle cx="460.71" cy="204.96" r="1.05" fill="#fff" stroke="#000" stroke-width="0.8"/>
<circle cx="463.02" cy="200.66" r="1.05" fill="#fff" stroke="#000" stroke-width="0.8"/>
<circle cx="463.58" cy="216.5" r="1.05" fill="#fff" stroke="#000" stroke-width="0.8"/>
<circle cx="461.94" cy="214.31" r="1.05" fill="#fff" stroke="#000" stroke-width="0.8"/>
<circle cx="464.28" cy="208.42" r="1.05" fill="#fff" stroke="#000" stroke-width="0.8"/>
<circle cx="462.64" cy="218.3" r="1.05" fill="#fff" stroke="#000" stroke-width="0.8"/>
<circle cx="463.86" cy="214.62" r="1.05" fill="#fff" stroke="#000" stroke-width="0.8"/>
<circle cx="461.7" cy="197.96" r="1.05" fill="#fff" stroke="#000" stroke-width="0.8"/>
<circle cx="462.76" cy="200.72" r="1.05" fill="#fff" stroke="#000" stroke-width="0.8"/>
<circle cx="461.76" cy="215.12" r="1.05" fill="#fff" stroke="#000" stroke-width="0.8"/>
<circle cx="464.58" cy="205.93" r="1.05" fill="#fff" stroke="#000" stroke-width="0.8"/>
<circle cx="460.3" cy="204.1" r="1.05" fill="#fff" stroke="#000" stroke-width="0.8"/>
<circle cx="463.37" cy="198.95" r="1.05" fill="#fff" stroke="#000" stroke-width="0.8"/>
<circle cx="461.58" cy="209.24" r="1.05" fill="#fff" stroke="#000" stroke-width="0.8"/>
<circle cx="463.97" cy="208.72" r="1.05" fill="#fff" stroke="#000" stroke-width="0.8"/>
<circle cx="461.03" cy="213.58" r="1.05" fill="#fff" stroke="#000" stroke-width="0.8"/>
<circle cx="462.64" cy="196.16" r="1.05" fill="#fff" stroke="#000" stroke-width="0.8"/>
<circle cx="465.02" cy="219.33" r="1.05" fill="#fff" stroke="#000" stroke-width="0.8"/>
<circle cx="462.23" cy="218.22" r="1.05" fill="#fff" stroke="#000" stroke-width="0.8"/>
<circle cx="463.82" cy="203.6" r="1.05" fill="#fff" stroke="#000" stroke-width="0.8"/>
<circle cx="461.23" cy="195.58" r="1.05" fill="#fff" stroke="#000" stroke-width="0.8"/>
<circle cx="464.96" cy="205.03" r="1.05" fill="#fff" stroke="#000" stroke-width="0.8"/>
<circle cx="464.09" cy="207.95" r="1.05" fill="#fff" stroke="#000" stroke-width="0.8"/>
<circle cx="464.1" cy="207.98" r="1.05" fill="#fff" stroke="#000" stroke-width="0.8"/>
<circle cx="462.1" cy="193.88" r="1.05" fill="#fff" stroke="#000" stroke-width="0.8"/>
<circle cx="462.13" cy="200.22" r="1.05" fill="#fff" stroke="#000" stroke-width="0.8"/>
<circle cx="464.35" cy="195.9" r="1.05" fill="#fff" stroke="#000" stroke-width="0.8"/>
<circle cx="464.93" cy="196.76" r="1.05" fill="#fff" stroke="#000" stroke-width="0.8"/>
<circle cx="465.34" cy="204.29" r="1.05" fill="#fff" stroke="#000" stroke-width="0.8"/>
<circle cx="463.34" cy="216.9" r="1.05" fill="#fff" stroke="#000" stroke-width="0.8"/>
<circle cx="463.39" cy="219.23" r="1.05" fill="#fff" stroke="#000" stroke-width="0.8"/>
<circle cx="461.81" cy="201.65" r="1.05" fill="#fff" stroke="#000" stroke-width="0.8"/>
<circle cx="462.74" cy="181.96" r="1.2" fill="#8a1a2e" stroke="#5a0a1a" stroke-width="0.4"/>
<line x1="472.65" y1="217.77" x2="472.65" y2="205.82" stroke="#111" stroke-width="0.9"/>
<line x1="470.95" y1="205.82" x2="474.35" y2="205.82" stroke="#111" stroke-width="0.9"/>
<circle cx="471.02" cy="211.72" r="1.05" fill="#fff" stroke="#000" stroke-width="0.8"/>
<circle cx="472.04" cy="202.35" r="1.05" fill="#fff" stroke="#000" stroke-width="0.8"/>
<circle cx="471.62" cy="215.43" r="1.05" fill="#fff" stroke="#000" stroke-width="0.8"/>
<circle cx="472.5" cy="192.59" r="1.05" fill="#fff" stroke="#000" stroke-width="0.8"/>
<circle cx="472.26" cy="199.76" r="1.05" fill="#fff" stroke="#000" stroke-width="0.8"/>
<circle cx="473.24" cy="214.83" r="1.05" fill="#fff" stroke="#000" stroke-width="0.8"/>
<circle cx="470.65" cy="211.41" r="1.05" fill="#fff" stroke="#000" stroke-width="0.8"/>
<circle cx="473.58" cy="201.39" r="1.05" fill="#fff" stroke="#000" stroke-width="0.8"/>
<circle cx="475.01" cy="216.32" r="1.05" fill="#fff" stroke="#000" stroke-width="0.8"/>
<circle cx="470.88" cy="216.07" r="1.05" fill="#fff" stroke="#000" stroke-width="0.8"/>
<circle cx="474.23" cy="208.49" r="1.05" fill="#fff" stroke="#000" stroke-width="0.8"/>
<circle cx="473.94" cy="198.3" r="1.05" fill="#fff" stroke="#000" stroke-width="0.8"/>
<circle cx="474.83" cy="206" r="1.05" fill="#fff" stroke="#000" stroke-width="0.8"/>
<circle cx="475.09" cy="213.29" r="1.05" fill="#fff" stroke="#000" stroke-width="0.8"/>
<circle cx="470.81" cy="215.34" r="1.05" fill="#fff" stroke="#000" stroke-width="0.8"/>
<circle cx="474.08" cy="198.09" r="1.05" fill="#fff" stroke="#000" stroke-width="0.8"/>
<circle cx="471.32" cy="200.01" r="1.05" fill="#fff" stroke="#000" stroke-width="0.8"/>
<circle cx="472.73" cy="195.24" r="1.05" fill="#fff" stroke="#000" stroke-width="0.8"/>
<circle cx="470.51" cy="211.5" r="1.05" fill="#fff" stroke="#000" stroke-width="0.8"/>
<circle cx="470.3" cy="192.23" r="1.05" fill="#fff" stroke="#000" stroke-width="0.8"/>
<circle cx="471.89" cy="211.17" r="1.05" fill="#fff" stroke="#000" stroke-width="0.8"/>
<circle cx="474.4" cy="194.59" r="1.05" fill="#fff" stroke="#000" stroke-width="0.8"/>
<circle cx="473.34" cy="195.86" r="1.05" fill="#fff" stroke="#000" stroke-width="0.8"/>
<circle cx="473.91" cy="216.3" r="1.05" fill="#fff" stroke="#000" stroke-width="0.8"/>
<circle cx="475.02" cy="211.89" r="1.05" fill="#fff" stroke="#000" stroke-width="0.8"/>
<circle cx="470.35" cy="192.69" r="1.05" fill="#fff" stroke="#000" stroke-width="0.8"/>
<circle cx="471.28" cy="198.58" r="1.05" fill="#fff" stroke="#000" stroke-width="0.8"/>
<circle cx="474.64" cy="214.01" r="1.05" fill="#fff" stroke="#000" stroke-width="0.8"/>
<circle cx="471.56" cy="205.69" r="1.05" fill="#fff" stroke="#000" stroke-width="0.8"/>
<circle cx="470.34" cy="202.79" r="1.05" fill="#fff" stroke="#000" stroke-width="0.8"/>
<circle cx="473.44" cy="206.15" r="1.05" fill="#fff" stroke="#000" stroke-width="0.8"/>
<circle cx="470.65" cy="195.3" r="1.05" fill="#fff" stroke="#000" stroke-width="0.8"/>
<circle cx="470.56" cy="194.58" r="1.05" fill="#fff" stroke="#000" stroke-width="0.8"/>
<circle cx="471.77" cy="211.5" r="1.05" fill="#fff" stroke="#000" stroke-width="0.8"/>
<circle cx="470.48" cy="212.42" r="1.05" fill="#fff" stroke="#000" stroke-width="0.8"/>
<circle cx="472.11" cy="200.45" r="1.05" fill="#fff" stroke="#000" stroke-width="0.8"/>
<circle cx="472.73" cy="211.91" r="1.05" fill="#fff" stroke="#000" stroke-width="0.8"/>
<circle cx="473.61" cy="213.53" r="1.05" fill="#fff" stroke="#000" stroke-width="0.8"/>
<circle cx="472.48" cy="192.84" r="1.05" fill="#fff" stroke="#000" stroke-width="0.8"/>
<circle cx="472.11" cy="206.2" r="1.05" fill="#fff" stroke="#000" stroke-width="0.8"/>
<circle cx="472.38" cy="227.33" r="1.05" fill="#fff" stroke="#000" stroke-width="0.8"/>
<circle cx="471.91" cy="220.22" r="1.2" fill="#8a1a2e" stroke="#5a0a1a" stroke-width="0.4"/>
<circle cx="473.7" cy="221.69" r="1.2" fill="#8a1a2e" stroke="#5a0a1a" stroke-width="0.4"/>
<circle cx="473.76" cy="220.95" r="1.2" fill="#8a1a2e" stroke="#5a0a1a" stroke-width="0.4"/>
<circle cx="473.46" cy="218.5" r="1.2" fill="#8a1a2e" stroke="#5a0a1a" stroke-width="0.4"/>
<circle cx="473.59" cy="219.81" r="1.2" fill="#8a1a2e" stroke="#5a0a1a" stroke-width="0.4"/>
<circle cx="471.62" cy="222.37" r="1.2" fill="#8a1a2e" stroke="#5a0a1a" stroke-width="0.4"/>
<circle cx="473.22" cy="221.89" r="1.2" fill="#8a1a2e" stroke="#5a0a1a" stroke-width="0.4"/>
<circle cx="471.67" cy="217.57" r="1.2" fill="#8a1a2e" stroke="#5a0a1a" stroke-width="0.4"/>
<circle cx="473.55" cy="220.6" r="1.2" fill="#8a1a2e" stroke="#5a0a1a" stroke-width="0.4"/>
<circle cx="472.38" cy="217.64" r="1.2" fill="#8a1a2e" stroke="#5a0a1a" stroke-width="0.4"/>
<circle cx="472.62" cy="218.96" r="1.2" fill="#8a1a2e" stroke="#5a0a1a" stroke-width="0.4"/>
<circle cx="472.7" cy="218.91" r="1.2" fill="#8a1a2e" stroke="#5a0a1a" stroke-width="0.4"/>
<circle cx="471.89" cy="220.58" r="1.2" fill="#8a1a2e" stroke="#5a0a1a" stroke-width="0.4"/>
<circle cx="472.82" cy="219.19" r="1.2" fill="#8a1a2e" stroke="#5a0a1a" stroke-width="0.4"/>
<circle cx="473.59" cy="220.22" r="1.2" fill="#8a1a2e" stroke="#5a0a1a" stroke-width="0.4"/>
<circle cx="472.52" cy="219.58" r="1.2" fill="#8a1a2e" stroke="#5a0a1a" stroke-width="0.4"/>
<circle cx="472.49" cy="216.92" r="1.2" fill="#8a1a2e" stroke="#5a0a1a" stroke-width="0.4"/>
<circle cx="472.3" cy="222.13" r="1.2" fill="#8a1a2e" stroke="#5a0a1a" stroke-width="0.4"/>
<line x1="482.35" y1="212.99" x2="482.35" y2="203.44" stroke="#111" stroke-width="0.9"/>
<line x1="480.65" y1="203.44" x2="484.05" y2="203.44" stroke="#111" stroke-width="0.9"/>
<circle cx="481.21" cy="215.01" r="1.05" fill="#fff" stroke="#000" stroke-width="0.8"/>
<circle cx="484.81" cy="204.8" r="1.05" fill="#fff" stroke="#000" stroke-width="0.8"/>
<circle cx="481.22" cy="212.1" r="1.05" fill="#fff" stroke="#000" stroke-width="0.8"/>
<circle cx="484.28" cy="212.7" r="1.05" fill="#fff" stroke="#000" stroke-width="0.8"/>
<circle cx="480.67" cy="213.87" r="1.05" fill="#fff" stroke="#000" stroke-width="0.8"/>
<circle cx="480.16" cy="213.04" r="1.05" fill="#fff" stroke="#000" stroke-width="0.8"/>
<circle cx="480.93" cy="215.7" r="1.05" fill="#fff" stroke="#000" stroke-width="0.8"/>
<circle cx="484.62" cy="207.74" r="1.05" fill="#fff" stroke="#000" stroke-width="0.8"/>
<circle cx="481.25" cy="213.93" r="1.05" fill="#fff" stroke="#000" stroke-width="0.8"/>
<circle cx="479.86" cy="208.76" r="1.05" fill="#fff" stroke="#000" stroke-width="0.8"/>
<circle cx="482.74" cy="216.61" r="1.05" fill="#fff" stroke="#000" stroke-width="0.8"/>
<circle cx="481.56" cy="210.68" r="1.05" fill="#fff" stroke="#000" stroke-width="0.8"/>
<circle cx="479.8" cy="211.46" r="1.05" fill="#fff" stroke="#000" stroke-width="0.8"/>
<circle cx="480.64" cy="213.92" r="1.05" fill="#fff" stroke="#000" stroke-width="0.8"/>
<circle cx="480.07" cy="214.25" r="1.05" fill="#fff" stroke="#000" stroke-width="0.8"/>
<circle cx="479.79" cy="205.15" r="1.05" fill="#fff" stroke="#000" stroke-width="0.8"/>
<circle cx="480.61" cy="211.48" r="1.05" fill="#fff" stroke="#000" stroke-width="0.8"/>
<circle cx="483.73" cy="214.81" r="1.05" fill="#fff" stroke="#000" stroke-width="0.8"/>
<circle cx="484.82" cy="202.85" r="1.05" fill="#fff" stroke="#000" stroke-width="0.8"/>
<circle cx="482.57" cy="212.79" r="1.05" fill="#fff" stroke="#000" stroke-width="0.8"/>
<circle cx="480.12" cy="211.2" r="1.05" fill="#fff" stroke="#000" stroke-width="0.8"/>
<circle cx="482.94" cy="211.34" r="1.05" fill="#fff" stroke="#000" stroke-width="0.8"/>
<circle cx="483.86" cy="211.72" r="1.05" fill="#fff" stroke="#000" stroke-width="0.8"/>
<circle cx="481.26" cy="210.97" r="1.05" fill="#fff" stroke="#000" stroke-width="0.8"/>
<circle cx="482.72" cy="203.89" r="1.05" fill="#fff" stroke="#000" stroke-width="0.8"/>
<circle cx="484.49" cy="213.99" r="1.05" fill="#fff" stroke="#000" stroke-width="0.8"/>
<circle cx="482.9" cy="210.45" r="1.05" fill="#fff" stroke="#000" stroke-width="0.8"/>
<circle cx="484.25" cy="210.63" r="1.05" fill="#fff" stroke="#000" stroke-width="0.8"/>
<circle cx="482.04" cy="206.47" r="1.05" fill="#fff" stroke="#000" stroke-width="0.8"/>
<circle cx="483.79" cy="212.25" r="1.05" fill="#fff" stroke="#000" stroke-width="0.8"/>
<circle cx="482.89" cy="204.81" r="1.05" fill="#fff" stroke="#000" stroke-width="0.8"/>
<circle cx="482.5" cy="204.25" r="1.05" fill="#fff" stroke="#000" stroke-width="0.8"/>
<circle cx="481.38" cy="211.47" r="1.05" fill="#fff" stroke="#000" stroke-width="0.8"/>
<circle cx="480.51" cy="213.77" r="1.05" fill="#fff" stroke="#000" stroke-width="0.8"/>
<circle cx="483.2" cy="188.62" r="1.05" fill="#fff" stroke="#000" stroke-width="0.8"/>
<circle cx="482.46" cy="195.79" r="1.05" fill="#fff" stroke="#000" stroke-width="0.8"/>
<line x1="492.05" y1="211.8" x2="492.05" y2="202.24" stroke="#111" stroke-width="0.9"/>
<line x1="490.35" y1="202.24" x2="493.75" y2="202.24" stroke="#111" stroke-width="0.9"/>
<circle cx="490.51" cy="215.68" r="1.05" fill="#fff" stroke="#000" stroke-width="0.8"/>
<circle cx="493.67" cy="207.13" r="1.05" fill="#fff" stroke="#000" stroke-width="0.8"/>
<circle cx="493.43" cy="196.29" r="1.05" fill="#fff" stroke="#000" stroke-width="0.8"/>
<circle cx="491.66" cy="210.43" r="1.05" fill="#fff" stroke="#000" stroke-width="0.8"/>
<circle cx="491.45" cy="194" r="1.05" fill="#fff" stroke="#000" stroke-width="0.8"/>
<circle cx="489.67" cy="201.47" r="1.05" fill="#fff" stroke="#000" stroke-width="0.8"/>
<circle cx="492.08" cy="205.73" r="1.05" fill="#fff" stroke="#000" stroke-width="0.8"/>
<circle cx="494.49" cy="194.95" r="1.05" fill="#fff" stroke="#000" stroke-width="0.8"/>
<circle cx="491.16" cy="198.89" r="1.05" fill="#fff" stroke="#000" stroke-width="0.8"/>
<circle cx="494.25" cy="195.88" r="1.05" fill="#fff" stroke="#000" stroke-width="0.8"/>
<circle cx="491.65" cy="215.86" r="1.05" fill="#fff" stroke="#000" stroke-width="0.8"/>
<circle cx="491.02" cy="203.94" r="1.05" fill="#fff" stroke="#000" stroke-width="0.8"/>
<circle cx="493.56" cy="211.73" r="1.05" fill="#fff" stroke="#000" stroke-width="0.8"/>
<circle cx="492.33" cy="212.52" r="1.05" fill="#fff" stroke="#000" stroke-width="0.8"/>
<circle cx="491.85" cy="217.27" r="1.05" fill="#fff" stroke="#000" stroke-width="0.8"/>
<circle cx="489.42" cy="193.57" r="1.05" fill="#fff" stroke="#000" stroke-width="0.8"/>
<circle cx="494.17" cy="215.07" r="1.05" fill="#fff" stroke="#000" stroke-width="0.8"/>
<circle cx="492.08" cy="194.83" r="1.05" fill="#fff" stroke="#000" stroke-width="0.8"/>
<circle cx="490.98" cy="210.37" r="1.05" fill="#fff" stroke="#000" stroke-width="0.8"/>
<circle cx="492.48" cy="199.37" r="1.05" fill="#fff" stroke="#000" stroke-width="0.8"/>
<circle cx="493.06" cy="206.57" r="1.05" fill="#fff" stroke="#000" stroke-width="0.8"/>
<circle cx="491.46" cy="215.29" r="1.05" fill="#fff" stroke="#000" stroke-width="0.8"/>
<circle cx="494.23" cy="195.73" r="1.05" fill="#fff" stroke="#000" stroke-width="0.8"/>
<circle cx="493.55" cy="205.58" r="1.05" fill="#fff" stroke="#000" stroke-width="0.8"/>
<circle cx="492.16" cy="195.58" r="1.05" fill="#fff" stroke="#000" stroke-width="0.8"/>
<circle cx="489.95" cy="214.19" r="1.05" fill="#fff" stroke="#000" stroke-width="0.8"/>
<circle cx="491.21" cy="200.93" r="1.05" fill="#fff" stroke="#000" stroke-width="0.8"/>
<circle cx="489.62" cy="204.56" r="1.05" fill="#fff" stroke="#000" stroke-width="0.8"/>
<circle cx="490.87" cy="194" r="1.05" fill="#fff" stroke="#000" stroke-width="0.8"/>
<circle cx="492.7" cy="201.86" r="1.05" fill="#fff" stroke="#000" stroke-width="0.8"/>
<circle cx="490.51" cy="208.84" r="1.05" fill="#fff" stroke="#000" stroke-width="0.8"/>
<circle cx="491.13" cy="203.67" r="1.05" fill="#fff" stroke="#000" stroke-width="0.8"/>
<circle cx="490.33" cy="215.85" r="1.05" fill="#fff" stroke="#000" stroke-width="0.8"/>
<circle cx="494.16" cy="216.79" r="1.05" fill="#fff" stroke="#000" stroke-width="0.8"/>
<circle cx="494.27" cy="212.69" r="1.05" fill="#fff" stroke="#000" stroke-width="0.8"/>
<circle cx="494.47" cy="202.25" r="1.05" fill="#fff" stroke="#000" stroke-width="0.8"/>
<circle cx="490.75" cy="205.99" r="1.05" fill="#fff" stroke="#000" stroke-width="0.8"/>
<circle cx="492.69" cy="215.66" r="1.05" fill="#fff" stroke="#000" stroke-width="0.8"/>
<circle cx="493" cy="200.33" r="1.05" fill="#fff" stroke="#000" stroke-width="0.8"/>
<circle cx="489.92" cy="194.94" r="1.05" fill="#fff" stroke="#000" stroke-width="0.8"/>
<circle cx="492.34" cy="189.57" r="1.05" fill="#fff" stroke="#000" stroke-width="0.8"/>
<line x1="501.75" y1="209.41" x2="501.75" y2="199.85" stroke="#111" stroke-width="0.9"/>
<line x1="500.05" y1="199.85" x2="503.45" y2="199.85" stroke="#111" stroke-width="0.9"/>
<circle cx="504.09" cy="200.25" r="1.05" fill="#fff" stroke="#000" stroke-width="0.8"/>
<circle cx="504.04" cy="210" r="1.05" fill="#fff" stroke="#000" stroke-width="0.8"/>
<circle cx="502.22" cy="214.83" r="1.05" fill="#fff" stroke="#000" stroke-width="0.8"/>
<circle cx="501.85" cy="208.33" r="1.05" fill="#fff" stroke="#000" stroke-width="0.8"/>
<circle cx="501.14" cy="211.64" r="1.05" fill="#fff" stroke="#000" stroke-width="0.8"/>
<circle cx="501.56" cy="207.88" r="1.05" fill="#fff" stroke="#000" stroke-width="0.8"/>
<circle cx="500.26" cy="206.66" r="1.05" fill="#fff" stroke="#000" stroke-width="0.8"/>
<circle cx="501.58" cy="211.76" r="1.05" fill="#fff" stroke="#000" stroke-width="0.8"/>
<circle cx="503.6" cy="194.06" r="1.05" fill="#fff" stroke="#000" stroke-width="0.8"/>
<circle cx="502.46" cy="212.16" r="1.05" fill="#fff" stroke="#000" stroke-width="0.8"/>
<circle cx="500.82" cy="212.24" r="1.05" fill="#fff" stroke="#000" stroke-width="0.8"/>
<circle cx="500.9" cy="193.97" r="1.05" fill="#fff" stroke="#000" stroke-width="0.8"/>
<circle cx="502.08" cy="213.18" r="1.05" fill="#fff" stroke="#000" stroke-width="0.8"/>
<circle cx="501.81" cy="202.76" r="1.05" fill="#fff" stroke="#000" stroke-width="0.8"/>
<circle cx="501.82" cy="195.01" r="1.05" fill="#fff" stroke="#000" stroke-width="0.8"/>
<circle cx="500.2" cy="207.55" r="1.05" fill="#fff" stroke="#000" stroke-width="0.8"/>
<circle cx="503.04" cy="202.88" r="1.05" fill="#fff" stroke="#000" stroke-width="0.8"/>
<circle cx="501.17" cy="204.56" r="1.05" fill="#fff" stroke="#000" stroke-width="0.8"/>
<circle cx="503.58" cy="209.98" r="1.05" fill="#fff" stroke="#000" stroke-width="0.8"/>
<circle cx="502.2" cy="194.05" r="1.05" fill="#fff" stroke="#000" stroke-width="0.8"/>
<circle cx="500.82" cy="200.1" r="1.05" fill="#fff" stroke="#000" stroke-width="0.8"/>
<circle cx="499.4" cy="211.99" r="1.05" fill="#fff" stroke="#000" stroke-width="0.8"/>
<circle cx="503.96" cy="202.11" r="1.05" fill="#fff" stroke="#000" stroke-width="0.8"/>
<circle cx="502.67" cy="200.53" r="1.05" fill="#fff" stroke="#000" stroke-width="0.8"/>
<circle cx="501.28" cy="196.9" r="1.05" fill="#fff" stroke="#000" stroke-width="0.8"/>
<circle cx="500.48" cy="206.16" r="1.05" fill="#fff" stroke="#000" stroke-width="0.8"/>
<circle cx="502.76" cy="197.51" r="1.05" fill="#fff" stroke="#000" stroke-width="0.8"/>
<circle cx="503.23" cy="204.12" r="1.05" fill="#fff" stroke="#000" stroke-width="0.8"/>
<circle cx="499.34" cy="195.76" r="1.05" fill="#fff" stroke="#000" stroke-width="0.8"/>
<circle cx="501.58" cy="210.66" r="1.05" fill="#fff" stroke="#000" stroke-width="0.8"/>
<circle cx="500.38" cy="200.02" r="1.05" fill="#fff" stroke="#000" stroke-width="0.8"/>
<circle cx="502.62" cy="205.86" r="1.05" fill="#fff" stroke="#000" stroke-width="0.8"/>
<circle cx="502.65" cy="209.06" r="1.05" fill="#fff" stroke="#000" stroke-width="0.8"/>
<circle cx="501.29" cy="214.09" r="1.05" fill="#fff" stroke="#000" stroke-width="0.8"/>
<circle cx="503.68" cy="201.65" r="1.05" fill="#fff" stroke="#000" stroke-width="0.8"/>
<circle cx="502.62" cy="204.39" r="1.05" fill="#fff" stroke="#000" stroke-width="0.8"/>
<circle cx="502.13" cy="190.29" r="1.2" fill="#8a1a2e" stroke="#5a0a1a" stroke-width="0.4"/>
<line x1="417.4" y1="173.4" x2="417.4" y2="236.3" stroke="#111" stroke-width="1.3"/>
<line x1="416.8" y1="235.7" x2="507.5" y2="235.7" stroke="#111" stroke-width="1.3"/>
<line x1="414.8" y1="235.7" x2="417.4" y2="235.7" stroke="#111" stroke-width="0.9"/>
<text x="412.8" y="238" font-size="6.6" fill="#1a1a1a" text-anchor="end" font-weight="normal" stroke="#1a1a1a" stroke-width="0.22">0</text>
<line x1="414.8" y1="223.75" x2="417.4" y2="223.75" stroke="#111" stroke-width="0.9"/>
<text x="412.8" y="226.05" font-size="6.6" fill="#1a1a1a" text-anchor="end" font-weight="normal" stroke="#1a1a1a" stroke-width="0.22">5</text>
<line x1="414.8" y1="211.8" x2="417.4" y2="211.8" stroke="#111" stroke-width="0.9"/>
<text x="412.8" y="214.1" font-size="6.6" fill="#1a1a1a" text-anchor="end" font-weight="normal" stroke="#1a1a1a" stroke-width="0.22">10</text>
<line x1="414.8" y1="199.85" x2="417.4" y2="199.85" stroke="#111" stroke-width="0.9"/>
<text x="412.8" y="202.15" font-size="6.6" fill="#1a1a1a" text-anchor="end" font-weight="normal" stroke="#1a1a1a" stroke-width="0.22">15</text>
<line x1="414.8" y1="187.9" x2="417.4" y2="187.9" stroke="#111" stroke-width="0.9"/>
<text x="412.8" y="190.2" font-size="6.6" fill="#1a1a1a" text-anchor="end" font-weight="normal" stroke="#1a1a1a" stroke-width="0.22">20</text>
<line x1="414.8" y1="175.95" x2="417.4" y2="175.95" stroke="#111" stroke-width="0.9"/>
<text x="412.8" y="178.25" font-size="6.6" fill="#1a1a1a" text-anchor="end" font-weight="normal" stroke="#1a1a1a" stroke-width="0.22">25</text>
<line x1="424.15" y1="235.7" x2="424.15" y2="238.5" stroke="#111" stroke-width="1.0"/>
<text x="426.55" y="243.9" font-size="6.3" fill="#1a1a1a" text-anchor="end" font-weight="normal" stroke="#1a1a1a" stroke-width="0.2" letter-spacing="-0.1" transform="rotate(-45 426.55 243.9)">+/+</text>
<line x1="433.85" y1="235.7" x2="433.85" y2="238.5" stroke="#111" stroke-width="1.0"/>
<text x="436.25" y="243.9" font-size="6.3" fill="#1a1a1a" text-anchor="end" font-weight="normal" stroke="#1a1a1a" stroke-width="0.2" letter-spacing="-0.1" transform="rotate(-45 436.25 243.9)">weh/+</text>
<line x1="443.55" y1="235.7" x2="443.55" y2="238.5" stroke="#111" stroke-width="1.0"/>
<text x="445.95" y="243.9" font-size="6.3" fill="#1a1a1a" text-anchor="end" font-weight="normal" stroke="#1a1a1a" stroke-width="0.2" letter-spacing="-0.1" transform="rotate(-45 445.95 243.9)">weh/weh</text>
<line x1="453.25" y1="235.7" x2="453.25" y2="238.5" stroke="#111" stroke-width="1.0"/>
<text x="455.65" y="243.9" font-size="6.3" fill="#1a1a1a" text-anchor="end" font-weight="normal" stroke="#1a1a1a" stroke-width="0.2" letter-spacing="-0.1" transform="rotate(-45 455.65 243.9)">+/+</text>
<line x1="462.95" y1="235.7" x2="462.95" y2="238.5" stroke="#111" stroke-width="1.0"/>
<text x="465.35" y="243.9" font-size="6.3" fill="#1a1a1a" text-anchor="end" font-weight="normal" stroke="#1a1a1a" stroke-width="0.2" letter-spacing="-0.1" transform="rotate(-45 465.35 243.9)">weh/+</text>
<line x1="472.65" y1="235.7" x2="472.65" y2="238.5" stroke="#111" stroke-width="1.0"/>
<text x="475.05" y="243.9" font-size="6.3" fill="#1a1a1a" text-anchor="end" font-weight="normal" stroke="#1a1a1a" stroke-width="0.2" letter-spacing="-0.1" transform="rotate(-45 475.05 243.9)">weh/weh</text>
<line x1="482.35" y1="235.7" x2="482.35" y2="238.5" stroke="#111" stroke-width="1.0"/>
<text x="484.75" y="243.9" font-size="6.3" fill="#1a1a1a" text-anchor="end" font-weight="normal" stroke="#1a1a1a" stroke-width="0.2" letter-spacing="-0.1" transform="rotate(-45 484.75 243.9)">+/+</text>
<line x1="492.05" y1="235.7" x2="492.05" y2="238.5" stroke="#111" stroke-width="1.0"/>
<text x="494.45" y="243.9" font-size="6.3" fill="#1a1a1a" text-anchor="end" font-weight="normal" stroke="#1a1a1a" stroke-width="0.2" letter-spacing="-0.1" transform="rotate(-45 494.45 243.9)">weh/+</text>
<line x1="501.75" y1="235.7" x2="501.75" y2="238.5" stroke="#111" stroke-width="1.0"/>
<text x="504.15" y="243.9" font-size="6.3" fill="#1a1a1a" text-anchor="end" font-weight="normal" stroke="#1a1a1a" stroke-width="0.2" letter-spacing="-0.1" transform="rotate(-45 504.15 243.9)">weh/weh</text>
<text x="399" y="206.4" font-size="7.6" fill="#1a1a1a" text-anchor="middle" font-weight="normal" stroke="#1a1a1a" stroke-width="0.3" transform="rotate(-90 399 206.4)" textLength="51" lengthAdjust="spacingAndGlyphs">Nuclear area (μm²)</text>
<rect x="444.3" y="262.65" width="30.9" height="1.7" fill="#666666"/>
<rect x="480.7" y="262.65" width="32.9" height="1.7" fill="#666666"/>
<text x="460.75" y="272.3" font-size="6.3" fill="#d0456c" text-anchor="middle" font-weight="normal" stroke="#d0456c" stroke-width="0.1" textLength="30.5" lengthAdjust="spacingAndGlyphs">+10μM Iron</text>
<text x="497.65" y="272.3" font-size="6.3" fill="#5e5048" text-anchor="middle" font-weight="normal" stroke="#5e5048" stroke-width="0.1" textLength="30.5" lengthAdjust="spacingAndGlyphs">+15μM Iron</text>
<text x="393" y="151.4" font-size="10.6" fill="#000" text-anchor="start" font-weight="bold" stroke="#000" stroke-width="0.5">E</text>
<path d="M442.9 155.1V152.7H500.6V155.1" fill="none" stroke="#333" stroke-width="1.0"/>
<text x="471.75" y="153.4" font-size="5.4" fill="#222" text-anchor="middle" font-weight="normal" stroke="#222" stroke-width="0.2">***</text>
<path d="M423.7 161.8V159.4H472.3V161.8" fill="none" stroke="#333" stroke-width="1.0"/>
<text x="448" y="160.1" font-size="5.4" fill="#222" text-anchor="middle" font-weight="normal" stroke="#222" stroke-width="0.2">***</text>
<path d="M433.7 168.2V165.8H443.5V168.2" fill="none" stroke="#333" stroke-width="1.0"/>
<text x="438.6" y="166.5" font-size="5.4" fill="#222" text-anchor="middle" font-weight="normal" stroke="#222" stroke-width="0.2">***</text>
<path d="M423.7 176.6V174.2H443.5V176.6" fill="none" stroke="#333" stroke-width="1.0"/>
<text x="433.6" y="174.9" font-size="5.4" fill="#222" text-anchor="middle" font-weight="normal" stroke="#222" stroke-width="0.2">***</text>
<rect x="286.2" y="342.26" width="5.9" height="21.24" fill="#414d57"/>
<rect x="295.85" y="339.9" width="5.9" height="23.6" fill="#414d57"/>
<rect x="305.5" y="348.16" width="5.9" height="15.34" fill="#414d57"/>
<rect x="315.15" y="342.26" width="5.9" height="21.24" fill="#888e94"/>
<rect x="324.8" y="345.8" width="5.9" height="17.7" fill="#888e94"/>
<rect x="334.45" y="346.98" width="5.9" height="16.52" fill="#888e94"/>
<rect x="344.1" y="336.36" width="5.9" height="27.14" fill="#c4c7cb"/>
<rect x="353.75" y="344.62" width="5.9" height="18.88" fill="#c4c7cb"/>
<rect x="363.4" y="352.88" width="5.9" height="10.62" fill="#c4c7cb"/>
<line x1="284.7" y1="325.98" x2="373" y2="325.98" stroke="#d9738a" stroke-width="1.3" stroke-dasharray="3.2 2.2"/>
<line x1="284.7" y1="357.6" x2="373" y2="357.6" stroke="#d9738a" stroke-width="1.3" stroke-dasharray="3.2 2.2"/>
<line x1="289.15" y1="349.34" x2="289.15" y2="335.18" stroke="#111" stroke-width="0.9"/>
<line x1="287.45" y1="335.18" x2="290.85" y2="335.18" stroke="#111" stroke-width="0.9"/>
<circle cx="291.68" cy="338.79" r="1.2" fill="#fff" stroke="#000" stroke-width="0.8"/>
<circle cx="290.27" cy="342.65" r="1.2" fill="#fff" stroke="#000" stroke-width="0.8"/>
<circle cx="286.55" cy="346.67" r="1.2" fill="#fff" stroke="#000" stroke-width="0.8"/>
<circle cx="287.79" cy="341.59" r="1.2" fill="#fff" stroke="#000" stroke-width="0.8"/>
<circle cx="291.05" cy="346" r="1.2" fill="#fff" stroke="#000" stroke-width="0.8"/>
<circle cx="291.89" cy="338.53" r="1.2" fill="#fff" stroke="#000" stroke-width="0.8"/>
<circle cx="291.21" cy="345.21" r="1.2" fill="#fff" stroke="#000" stroke-width="0.8"/>
<circle cx="289.47" cy="345.47" r="1.2" fill="#fff" stroke="#000" stroke-width="0.8"/>
<circle cx="289.37" cy="341.1" r="1.2" fill="#fff" stroke="#000" stroke-width="0.8"/>
<circle cx="288.1" cy="336.06" r="1.2" fill="#fff" stroke="#000" stroke-width="0.8"/>
<circle cx="289.01" cy="343.13" r="1.2" fill="#fff" stroke="#000" stroke-width="0.8"/>
<circle cx="290.87" cy="341.49" r="1.2" fill="#fff" stroke="#000" stroke-width="0.8"/>
<circle cx="286.5" cy="333.06" r="1.2" fill="#fff" stroke="#000" stroke-width="0.8"/>
<circle cx="290.54" cy="351.6" r="1.2" fill="#fff" stroke="#000" stroke-width="0.8"/>
<circle cx="288.46" cy="338.99" r="1.2" fill="#fff" stroke="#000" stroke-width="0.8"/>
<circle cx="287.71" cy="334.35" r="1.2" fill="#fff" stroke="#000" stroke-width="0.8"/>
<circle cx="289.3" cy="336.16" r="1.2" fill="#fff" stroke="#000" stroke-width="0.8"/>
<circle cx="290.73" cy="348.72" r="1.2" fill="#fff" stroke="#000" stroke-width="0.8"/>
<circle cx="289.46" cy="346.32" r="1.2" fill="#fff" stroke="#000" stroke-width="0.8"/>
<circle cx="290.02" cy="347.93" r="1.2" fill="#fff" stroke="#000" stroke-width="0.8"/>
<circle cx="288.23" cy="340.11" r="1.2" fill="#fff" stroke="#000" stroke-width="0.8"/>
<circle cx="287.9" cy="336.54" r="1.2" fill="#fff" stroke="#000" stroke-width="0.8"/>
<circle cx="288.31" cy="346.8" r="1.2" fill="#fff" stroke="#000" stroke-width="0.8"/>
<circle cx="289.88" cy="347.13" r="1.2" fill="#fff" stroke="#000" stroke-width="0.8"/>
<circle cx="286.81" cy="342.89" r="1.2" fill="#fff" stroke="#000" stroke-width="0.8"/>
<circle cx="286.51" cy="330.74" r="1.2" fill="#fff" stroke="#000" stroke-width="0.8"/>
<circle cx="288.62" cy="339.9" r="1.2" fill="#fff" stroke="#000" stroke-width="0.8"/>
<circle cx="289.65" cy="333.65" r="1.2" fill="#fff" stroke="#000" stroke-width="0.8"/>
<circle cx="287.78" cy="349.28" r="1.2" fill="#fff" stroke="#000" stroke-width="0.8"/>
<circle cx="287.57" cy="353.9" r="1.2" fill="#fff" stroke="#000" stroke-width="0.8"/>
<circle cx="290.83" cy="338.07" r="1.2" fill="#fff" stroke="#000" stroke-width="0.8"/>
<circle cx="286.67" cy="333.09" r="1.2" fill="#fff" stroke="#000" stroke-width="0.8"/>
<circle cx="290.64" cy="343.17" r="1.2" fill="#fff" stroke="#000" stroke-width="0.8"/>
<circle cx="288.62" cy="336.41" r="1.2" fill="#fff" stroke="#000" stroke-width="0.8"/>
<circle cx="289.9" cy="355.33" r="1.2" fill="#fff" stroke="#000" stroke-width="0.8"/>
<circle cx="287.86" cy="346.64" r="1.2" fill="#fff" stroke="#000" stroke-width="0.8"/>
<circle cx="290.39" cy="351.11" r="1.2" fill="#fff" stroke="#000" stroke-width="0.8"/>
<circle cx="289.08" cy="345.15" r="1.2" fill="#fff" stroke="#000" stroke-width="0.8"/>
<circle cx="288.85" cy="342.45" r="1.2" fill="#fff" stroke="#000" stroke-width="0.8"/>
<circle cx="287.66" cy="333.26" r="1.2" fill="#fff" stroke="#000" stroke-width="0.8"/>
<circle cx="288.4" cy="350.42" r="1.2" fill="#fff" stroke="#000" stroke-width="0.8"/>
<circle cx="289.52" cy="346.66" r="1.2" fill="#fff" stroke="#000" stroke-width="0.8"/>
<circle cx="288.21" cy="338.96" r="1.2" fill="#fff" stroke="#000" stroke-width="0.8"/>
<circle cx="289.46" cy="336.24" r="1.2" fill="#fff" stroke="#000" stroke-width="0.8"/>
<circle cx="291.89" cy="343.71" r="1.2" fill="#fff" stroke="#000" stroke-width="0.8"/>
<circle cx="288.36" cy="342.62" r="1.2" fill="#fff" stroke="#000" stroke-width="0.8"/>
<circle cx="289.28" cy="341.88" r="1.2" fill="#fff" stroke="#000" stroke-width="0.8"/>
<circle cx="290.27" cy="346.73" r="1.2" fill="#fff" stroke="#000" stroke-width="0.8"/>
<circle cx="288.85" cy="340.4" r="1.2" fill="#fff" stroke="#000" stroke-width="0.8"/>
<circle cx="289.01" cy="342.87" r="1.2" fill="#fff" stroke="#000" stroke-width="0.8"/>
<circle cx="291.83" cy="353.7" r="1.2" fill="#fff" stroke="#000" stroke-width="0.8"/>
<circle cx="290.54" cy="339.28" r="1.2" fill="#fff" stroke="#000" stroke-width="0.8"/>
<circle cx="289.25" cy="350.83" r="1.2" fill="#fff" stroke="#000" stroke-width="0.8"/>
<circle cx="288.99" cy="347.31" r="1.2" fill="#fff" stroke="#000" stroke-width="0.8"/>
<circle cx="291.86" cy="336.1" r="1.2" fill="#fff" stroke="#000" stroke-width="0.8"/>
<circle cx="291.01" cy="343.34" r="1.2" fill="#fff" stroke="#000" stroke-width="0.8"/>
<circle cx="289.25" cy="322.37" r="1.3" fill="#8a1a2e" stroke="#5a0a1a" stroke-width="0.4"/>
<line x1="298.8" y1="348.16" x2="298.8" y2="331.64" stroke="#111" stroke-width="0.9"/>
<line x1="297.1" y1="331.64" x2="300.5" y2="331.64" stroke="#111" stroke-width="0.9"/>
<circle cx="299.62" cy="343.43" r="1.2" fill="#fff" stroke="#000" stroke-width="0.8"/>
<circle cx="298.4" cy="333.45" r="1.2" fill="#fff" stroke="#000" stroke-width="0.8"/>
<circle cx="297.08" cy="349.2" r="1.2" fill="#fff" stroke="#000" stroke-width="0.8"/>
<circle cx="297.96" cy="346.03" r="1.2" fill="#fff" stroke="#000" stroke-width="0.8"/>
<circle cx="301.41" cy="337.68" r="1.2" fill="#fff" stroke="#000" stroke-width="0.8"/>
<circle cx="300.18" cy="351.98" r="1.2" fill="#fff" stroke="#000" stroke-width="0.8"/>
<circle cx="300.62" cy="341.69" r="1.2" fill="#fff" stroke="#000" stroke-width="0.8"/>
<circle cx="297.62" cy="346.69" r="1.2" fill="#fff" stroke="#000" stroke-width="0.8"/>
<circle cx="299.01" cy="348.32" r="1.2" fill="#fff" stroke="#000" stroke-width="0.8"/>
<circle cx="297.61" cy="347.09" r="1.2" fill="#fff" stroke="#000" stroke-width="0.8"/>
<circle cx="299.8" cy="352.55" r="1.2" fill="#fff" stroke="#000" stroke-width="0.8"/>
<circle cx="298.06" cy="350.5" r="1.2" fill="#fff" stroke="#000" stroke-width="0.8"/>
<circle cx="300.38" cy="340.16" r="1.2" fill="#fff" stroke="#000" stroke-width="0.8"/>
<circle cx="298.45" cy="351.49" r="1.2" fill="#fff" stroke="#000" stroke-width="0.8"/>
<circle cx="298.93" cy="344.4" r="1.2" fill="#fff" stroke="#000" stroke-width="0.8"/>
<circle cx="299.13" cy="344.43" r="1.2" fill="#fff" stroke="#000" stroke-width="0.8"/>
<circle cx="297.79" cy="347.67" r="1.2" fill="#fff" stroke="#000" stroke-width="0.8"/>
<circle cx="301.31" cy="332.85" r="1.2" fill="#fff" stroke="#000" stroke-width="0.8"/>
<circle cx="296.98" cy="342.79" r="1.2" fill="#fff" stroke="#000" stroke-width="0.8"/>
<circle cx="298.4" cy="335.78" r="1.2" fill="#fff" stroke="#000" stroke-width="0.8"/>
<circle cx="300.18" cy="341.95" r="1.2" fill="#fff" stroke="#000" stroke-width="0.8"/>
<circle cx="297.38" cy="341.82" r="1.2" fill="#fff" stroke="#000" stroke-width="0.8"/>
<circle cx="296.09" cy="351.55" r="1.2" fill="#fff" stroke="#000" stroke-width="0.8"/>
<circle cx="298.42" cy="348.94" r="1.2" fill="#fff" stroke="#000" stroke-width="0.8"/>
<circle cx="296.99" cy="339.11" r="1.2" fill="#fff" stroke="#000" stroke-width="0.8"/>
<circle cx="297.92" cy="343.09" r="1.2" fill="#fff" stroke="#000" stroke-width="0.8"/>
<circle cx="301.35" cy="341.87" r="1.2" fill="#fff" stroke="#000" stroke-width="0.8"/>
<circle cx="300.8" cy="342.37" r="1.2" fill="#fff" stroke="#000" stroke-width="0.8"/>
<circle cx="296.84" cy="336.59" r="1.2" fill="#fff" stroke="#000" stroke-width="0.8"/>
<circle cx="300.93" cy="344.32" r="1.2" fill="#fff" stroke="#000" stroke-width="0.8"/>
<circle cx="300.42" cy="336.71" r="1.2" fill="#fff" stroke="#000" stroke-width="0.8"/>
<circle cx="300.82" cy="351.41" r="1.2" fill="#fff" stroke="#000" stroke-width="0.8"/>
<circle cx="297.54" cy="339" r="1.2" fill="#fff" stroke="#000" stroke-width="0.8"/>
<circle cx="301.05" cy="350.92" r="1.2" fill="#fff" stroke="#000" stroke-width="0.8"/>
<circle cx="296.24" cy="350.38" r="1.2" fill="#fff" stroke="#000" stroke-width="0.8"/>
<circle cx="299.76" cy="348.73" r="1.2" fill="#fff" stroke="#000" stroke-width="0.8"/>
<circle cx="297.48" cy="344.42" r="1.2" fill="#fff" stroke="#000" stroke-width="0.8"/>
<circle cx="301.22" cy="340.2" r="1.2" fill="#fff" stroke="#000" stroke-width="0.8"/>
<circle cx="297.19" cy="343.67" r="1.2" fill="#fff" stroke="#000" stroke-width="0.8"/>
<circle cx="301.24" cy="339.56" r="1.2" fill="#fff" stroke="#000" stroke-width="0.8"/>
<circle cx="298.14" cy="345.2" r="1.2" fill="#fff" stroke="#000" stroke-width="0.8"/>
<circle cx="300.02" cy="348.36" r="1.2" fill="#fff" stroke="#000" stroke-width="0.8"/>
<circle cx="298.71" cy="332.29" r="1.2" fill="#fff" stroke="#000" stroke-width="0.8"/>
<circle cx="296.77" cy="341.82" r="1.2" fill="#fff" stroke="#000" stroke-width="0.8"/>
<circle cx="297.3" cy="333.42" r="1.2" fill="#fff" stroke="#000" stroke-width="0.8"/>
<circle cx="300.74" cy="344.83" r="1.2" fill="#fff" stroke="#000" stroke-width="0.8"/>
<circle cx="301.28" cy="344.17" r="1.2" fill="#fff" stroke="#000" stroke-width="0.8"/>
<circle cx="298.76" cy="331.29" r="1.2" fill="#fff" stroke="#000" stroke-width="0.8"/>
<circle cx="301.43" cy="344.95" r="1.2" fill="#fff" stroke="#000" stroke-width="0.8"/>
<circle cx="297.06" cy="336.51" r="1.2" fill="#fff" stroke="#000" stroke-width="0.8"/>
<circle cx="297.14" cy="350.63" r="1.2" fill="#fff" stroke="#000" stroke-width="0.8"/>
<circle cx="296.73" cy="353.79" r="1.2" fill="#fff" stroke="#000" stroke-width="0.8"/>
<circle cx="297.68" cy="350.24" r="1.2" fill="#fff" stroke="#000" stroke-width="0.8"/>
<circle cx="297.76" cy="345.06" r="1.2" fill="#fff" stroke="#000" stroke-width="0.8"/>
<circle cx="299.15" cy="348.54" r="1.2" fill="#fff" stroke="#000" stroke-width="0.8"/>
<circle cx="299" cy="346.03" r="1.2" fill="#fff" stroke="#000" stroke-width="0.8"/>
<circle cx="299.92" cy="336.33" r="1.2" fill="#fff" stroke="#000" stroke-width="0.8"/>
<circle cx="301" cy="344.79" r="1.2" fill="#fff" stroke="#000" stroke-width="0.8"/>
<circle cx="296.64" cy="332.33" r="1.2" fill="#fff" stroke="#000" stroke-width="0.8"/>
<circle cx="297.86" cy="345.39" r="1.2" fill="#fff" stroke="#000" stroke-width="0.8"/>
<circle cx="301.43" cy="339.36" r="1.2" fill="#fff" stroke="#000" stroke-width="0.8"/>
<circle cx="296.67" cy="345.92" r="1.2" fill="#fff" stroke="#000" stroke-width="0.8"/>
<circle cx="297.61" cy="319.57" r="1.3" fill="#8a1a2e" stroke="#5a0a1a" stroke-width="0.4"/>
<circle cx="298.52" cy="322.62" r="1.3" fill="#8a1a2e" stroke="#5a0a1a" stroke-width="0.4"/>
<circle cx="297.78" cy="320.69" r="1.3" fill="#8a1a2e" stroke="#5a0a1a" stroke-width="0.4"/>
<circle cx="299.43" cy="318.8" r="1.3" fill="#8a1a2e" stroke="#5a0a1a" stroke-width="0.4"/>
<circle cx="297.87" cy="315.93" r="1.3" fill="#8a1a2e" stroke="#5a0a1a" stroke-width="0.4"/>
<line x1="308.45" y1="354.06" x2="308.45" y2="342.26" stroke="#111" stroke-width="0.9"/>
<line x1="306.75" y1="342.26" x2="310.15" y2="342.26" stroke="#111" stroke-width="0.9"/>
<circle cx="305.96" cy="344.25" r="1.2" fill="#fff" stroke="#000" stroke-width="0.8"/>
<circle cx="311.18" cy="342.38" r="1.2" fill="#fff" stroke="#000" stroke-width="0.8"/>
<circle cx="308.32" cy="354.44" r="1.2" fill="#fff" stroke="#000" stroke-width="0.8"/>
<circle cx="307.37" cy="344.92" r="1.2" fill="#fff" stroke="#000" stroke-width="0.8"/>
<circle cx="306.19" cy="352.6" r="1.2" fill="#fff" stroke="#000" stroke-width="0.8"/>
<circle cx="310.52" cy="351.12" r="1.2" fill="#fff" stroke="#000" stroke-width="0.8"/>
<circle cx="308.23" cy="346.1" r="1.2" fill="#fff" stroke="#000" stroke-width="0.8"/>
<circle cx="306.21" cy="336.25" r="1.2" fill="#fff" stroke="#000" stroke-width="0.8"/>
<circle cx="310.81" cy="345.04" r="1.2" fill="#fff" stroke="#000" stroke-width="0.8"/>
<circle cx="309.36" cy="340.33" r="1.2" fill="#fff" stroke="#000" stroke-width="0.8"/>
<circle cx="307.47" cy="346.44" r="1.2" fill="#fff" stroke="#000" stroke-width="0.8"/>
<circle cx="310.8" cy="354.56" r="1.2" fill="#fff" stroke="#000" stroke-width="0.8"/>
<circle cx="307.32" cy="347.21" r="1.2" fill="#fff" stroke="#000" stroke-width="0.8"/>
<circle cx="310.18" cy="350.61" r="1.2" fill="#fff" stroke="#000" stroke-width="0.8"/>
<circle cx="308.53" cy="351.46" r="1.2" fill="#fff" stroke="#000" stroke-width="0.8"/>
<circle cx="307.15" cy="342.08" r="1.2" fill="#fff" stroke="#000" stroke-width="0.8"/>
<circle cx="307.93" cy="347.62" r="1.2" fill="#fff" stroke="#000" stroke-width="0.8"/>
<circle cx="310.46" cy="346.04" r="1.2" fill="#fff" stroke="#000" stroke-width="0.8"/>
<circle cx="308.29" cy="338.12" r="1.2" fill="#fff" stroke="#000" stroke-width="0.8"/>
<circle cx="306.24" cy="344.31" r="1.2" fill="#fff" stroke="#000" stroke-width="0.8"/>
<circle cx="306.85" cy="347.68" r="1.2" fill="#fff" stroke="#000" stroke-width="0.8"/>
<circle cx="309.1" cy="341.18" r="1.2" fill="#fff" stroke="#000" stroke-width="0.8"/>
<circle cx="305.73" cy="352.94" r="1.2" fill="#fff" stroke="#000" stroke-width="0.8"/>
<circle cx="309.62" cy="353.04" r="1.2" fill="#fff" stroke="#000" stroke-width="0.8"/>
<circle cx="305.95" cy="341.59" r="1.2" fill="#fff" stroke="#000" stroke-width="0.8"/>
<circle cx="305.78" cy="337.88" r="1.2" fill="#fff" stroke="#000" stroke-width="0.8"/>
<circle cx="307.48" cy="336.37" r="1.2" fill="#fff" stroke="#000" stroke-width="0.8"/>
<circle cx="309.36" cy="339.21" r="1.2" fill="#fff" stroke="#000" stroke-width="0.8"/>
<circle cx="308.92" cy="344.85" r="1.2" fill="#fff" stroke="#000" stroke-width="0.8"/>
<circle cx="310.24" cy="341.04" r="1.2" fill="#fff" stroke="#000" stroke-width="0.8"/>
<circle cx="306.31" cy="338.05" r="1.2" fill="#fff" stroke="#000" stroke-width="0.8"/>
<circle cx="308.49" cy="354.96" r="1.2" fill="#fff" stroke="#000" stroke-width="0.8"/>
<circle cx="305.74" cy="336.26" r="1.2" fill="#fff" stroke="#000" stroke-width="0.8"/>
<circle cx="309.32" cy="352.06" r="1.2" fill="#fff" stroke="#000" stroke-width="0.8"/>
<circle cx="306.81" cy="348.4" r="1.2" fill="#fff" stroke="#000" stroke-width="0.8"/>
<circle cx="310.94" cy="340.28" r="1.2" fill="#fff" stroke="#000" stroke-width="0.8"/>
<circle cx="310.99" cy="346.82" r="1.2" fill="#fff" stroke="#000" stroke-width="0.8"/>
<circle cx="309.71" cy="344.82" r="1.2" fill="#fff" stroke="#000" stroke-width="0.8"/>
<circle cx="306.28" cy="350.2" r="1.2" fill="#fff" stroke="#000" stroke-width="0.8"/>
<circle cx="307.13" cy="346.74" r="1.2" fill="#fff" stroke="#000" stroke-width="0.8"/>
<circle cx="308.18" cy="344.57" r="1.2" fill="#fff" stroke="#000" stroke-width="0.8"/>
<circle cx="310.12" cy="350.46" r="1.2" fill="#fff" stroke="#000" stroke-width="0.8"/>
<circle cx="308.53" cy="351.56" r="1.2" fill="#fff" stroke="#000" stroke-width="0.8"/>
<circle cx="306.33" cy="353.9" r="1.2" fill="#fff" stroke="#000" stroke-width="0.8"/>
<circle cx="307.5" cy="352" r="1.2" fill="#fff" stroke="#000" stroke-width="0.8"/>
<circle cx="310.35" cy="352.13" r="1.2" fill="#fff" stroke="#000" stroke-width="0.8"/>
<circle cx="305.75" cy="342.01" r="1.2" fill="#fff" stroke="#000" stroke-width="0.8"/>
<circle cx="309.9" cy="344.89" r="1.2" fill="#fff" stroke="#000" stroke-width="0.8"/>
<circle cx="308.22" cy="322.76" r="1.3" fill="#8a1a2e" stroke="#5a0a1a" stroke-width="0.4"/>
<line x1="318.1" y1="349.34" x2="318.1" y2="335.18" stroke="#111" stroke-width="0.9"/>
<line x1="316.4" y1="335.18" x2="319.8" y2="335.18" stroke="#111" stroke-width="0.9"/>
<circle cx="318.55" cy="344.34" r="1.2" fill="#fff" stroke="#000" stroke-width="0.8"/>
<circle cx="315.84" cy="344.01" r="1.2" fill="#fff" stroke="#000" stroke-width="0.8"/>
<circle cx="318.54" cy="343.88" r="1.2" fill="#fff" stroke="#000" stroke-width="0.8"/>
<circle cx="319.88" cy="350.98" r="1.2" fill="#fff" stroke="#000" stroke-width="0.8"/>
<circle cx="319.44" cy="349.49" r="1.2" fill="#fff" stroke="#000" stroke-width="0.8"/>
<circle cx="320.46" cy="331.42" r="1.2" fill="#fff" stroke="#000" stroke-width="0.8"/>
<circle cx="317.87" cy="349.01" r="1.2" fill="#fff" stroke="#000" stroke-width="0.8"/>
<circle cx="318.79" cy="335.66" r="1.2" fill="#fff" stroke="#000" stroke-width="0.8"/>
<circle cx="318.47" cy="343.68" r="1.2" fill="#fff" stroke="#000" stroke-width="0.8"/>
<circle cx="317.05" cy="338.1" r="1.2" fill="#fff" stroke="#000" stroke-width="0.8"/>
<circle cx="319.23" cy="340" r="1.2" fill="#fff" stroke="#000" stroke-width="0.8"/>
<circle cx="316.08" cy="334.83" r="1.2" fill="#fff" stroke="#000" stroke-width="0.8"/>
<circle cx="319.37" cy="342.52" r="1.2" fill="#fff" stroke="#000" stroke-width="0.8"/>
<circle cx="317.34" cy="351.17" r="1.2" fill="#fff" stroke="#000" stroke-width="0.8"/>
<circle cx="320.67" cy="352.31" r="1.2" fill="#fff" stroke="#000" stroke-width="0.8"/>
<circle cx="318.07" cy="339.92" r="1.2" fill="#fff" stroke="#000" stroke-width="0.8"/>
<circle cx="316.09" cy="343.77" r="1.2" fill="#fff" stroke="#000" stroke-width="0.8"/>
<circle cx="320.63" cy="338.41" r="1.2" fill="#fff" stroke="#000" stroke-width="0.8"/>
<circle cx="317.65" cy="336.64" r="1.2" fill="#fff" stroke="#000" stroke-width="0.8"/>
<circle cx="320.31" cy="333.95" r="1.2" fill="#fff" stroke="#000" stroke-width="0.8"/>
<circle cx="315.76" cy="346.63" r="1.2" fill="#fff" stroke="#000" stroke-width="0.8"/>
<circle cx="318.6" cy="341.77" r="1.2" fill="#fff" stroke="#000" stroke-width="0.8"/>
<circle cx="316.12" cy="344.36" r="1.2" fill="#fff" stroke="#000" stroke-width="0.8"/>
<circle cx="316.87" cy="341.09" r="1.2" fill="#fff" stroke="#000" stroke-width="0.8"/>
<circle cx="316.8" cy="330.93" r="1.2" fill="#fff" stroke="#000" stroke-width="0.8"/>
<circle cx="315.4" cy="338.93" r="1.2" fill="#fff" stroke="#000" stroke-width="0.8"/>
<circle cx="319.06" cy="340" r="1.2" fill="#fff" stroke="#000" stroke-width="0.8"/>
<circle cx="315.66" cy="347.5" r="1.2" fill="#fff" stroke="#000" stroke-width="0.8"/>
<circle cx="318.84" cy="344.03" r="1.2" fill="#fff" stroke="#000" stroke-width="0.8"/>
<circle cx="317.36" cy="348.05" r="1.2" fill="#fff" stroke="#000" stroke-width="0.8"/>
<circle cx="316.71" cy="349.36" r="1.2" fill="#fff" stroke="#000" stroke-width="0.8"/>
<circle cx="319.87" cy="338.96" r="1.2" fill="#fff" stroke="#000" stroke-width="0.8"/>
<circle cx="317.26" cy="337.66" r="1.2" fill="#fff" stroke="#000" stroke-width="0.8"/>
<circle cx="319.49" cy="333.18" r="1.2" fill="#fff" stroke="#000" stroke-width="0.8"/>
<circle cx="320.2" cy="335.13" r="1.2" fill="#fff" stroke="#000" stroke-width="0.8"/>
<circle cx="318.48" cy="345.74" r="1.2" fill="#fff" stroke="#000" stroke-width="0.8"/>
<circle cx="316.76" cy="348.44" r="1.2" fill="#fff" stroke="#000" stroke-width="0.8"/>
<circle cx="319.21" cy="342.57" r="1.2" fill="#fff" stroke="#000" stroke-width="0.8"/>
<circle cx="316.08" cy="338.42" r="1.2" fill="#fff" stroke="#000" stroke-width="0.8"/>
<circle cx="317.08" cy="337.23" r="1.2" fill="#fff" stroke="#000" stroke-width="0.8"/>
<circle cx="317.37" cy="344.6" r="1.2" fill="#fff" stroke="#000" stroke-width="0.8"/>
<circle cx="320.38" cy="346.71" r="1.2" fill="#fff" stroke="#000" stroke-width="0.8"/>
<circle cx="315.4" cy="345.83" r="1.2" fill="#fff" stroke="#000" stroke-width="0.8"/>
<circle cx="320.65" cy="347.1" r="1.2" fill="#fff" stroke="#000" stroke-width="0.8"/>
<circle cx="320.37" cy="330.11" r="1.2" fill="#fff" stroke="#000" stroke-width="0.8"/>
<circle cx="318.38" cy="343.78" r="1.2" fill="#fff" stroke="#000" stroke-width="0.8"/>
<circle cx="316.55" cy="341.49" r="1.2" fill="#fff" stroke="#000" stroke-width="0.8"/>
<circle cx="319.14" cy="353.97" r="1.2" fill="#fff" stroke="#000" stroke-width="0.8"/>
<circle cx="319.05" cy="322.2" r="1.3" fill="#8a1a2e" stroke="#5a0a1a" stroke-width="0.4"/>
<circle cx="317.6" cy="322.8" r="1.3" fill="#8a1a2e" stroke="#5a0a1a" stroke-width="0.4"/>
<line x1="327.75" y1="351.7" x2="327.75" y2="339.9" stroke="#111" stroke-width="0.9"/>
<line x1="326.05" y1="339.9" x2="329.45" y2="339.9" stroke="#111" stroke-width="0.9"/>
<circle cx="326.11" cy="344.77" r="1.2" fill="#fff" stroke="#000" stroke-width="0.8"/>
<circle cx="329.99" cy="342.67" r="1.2" fill="#fff" stroke="#000" stroke-width="0.8"/>
<circle cx="330.12" cy="350.61" r="1.2" fill="#fff" stroke="#000" stroke-width="0.8"/>
<circle cx="328.93" cy="339.43" r="1.2" fill="#fff" stroke="#000" stroke-width="0.8"/>
<circle cx="329.16" cy="347.16" r="1.2" fill="#fff" stroke="#000" stroke-width="0.8"/>
<circle cx="325.03" cy="342.42" r="1.2" fill="#fff" stroke="#000" stroke-width="0.8"/>
<circle cx="330.1" cy="349.27" r="1.2" fill="#fff" stroke="#000" stroke-width="0.8"/>
<circle cx="326.79" cy="355.77" r="1.2" fill="#fff" stroke="#000" stroke-width="0.8"/>
<circle cx="328.75" cy="344.5" r="1.2" fill="#fff" stroke="#000" stroke-width="0.8"/>
<circle cx="327.13" cy="340.1" r="1.2" fill="#fff" stroke="#000" stroke-width="0.8"/>
<circle cx="326.47" cy="346.22" r="1.2" fill="#fff" stroke="#000" stroke-width="0.8"/>
<circle cx="326.42" cy="343.68" r="1.2" fill="#fff" stroke="#000" stroke-width="0.8"/>
<circle cx="330.1" cy="348.51" r="1.2" fill="#fff" stroke="#000" stroke-width="0.8"/>
<circle cx="329.91" cy="348.65" r="1.2" fill="#fff" stroke="#000" stroke-width="0.8"/>
<circle cx="326.65" cy="349.68" r="1.2" fill="#fff" stroke="#000" stroke-width="0.8"/>
<circle cx="330.15" cy="338.81" r="1.2" fill="#fff" stroke="#000" stroke-width="0.8"/>
<circle cx="327.82" cy="350.12" r="1.2" fill="#fff" stroke="#000" stroke-width="0.8"/>
<circle cx="326.5" cy="342.44" r="1.2" fill="#fff" stroke="#000" stroke-width="0.8"/>
<circle cx="326.63" cy="340.78" r="1.2" fill="#fff" stroke="#000" stroke-width="0.8"/>
<circle cx="327.98" cy="349.4" r="1.2" fill="#fff" stroke="#000" stroke-width="0.8"/>
<circle cx="326.07" cy="344.65" r="1.2" fill="#fff" stroke="#000" stroke-width="0.8"/>
<circle cx="329.86" cy="345.97" r="1.2" fill="#fff" stroke="#000" stroke-width="0.8"/>
<circle cx="327.2" cy="339.42" r="1.2" fill="#fff" stroke="#000" stroke-width="0.8"/>
<circle cx="325.89" cy="344.24" r="1.2" fill="#fff" stroke="#000" stroke-width="0.8"/>
<circle cx="328.13" cy="352.83" r="1.2" fill="#fff" stroke="#000" stroke-width="0.8"/>
<circle cx="328.03" cy="350.44" r="1.2" fill="#fff" stroke="#000" stroke-width="0.8"/>
<circle cx="326.36" cy="333.95" r="1.2" fill="#fff" stroke="#000" stroke-width="0.8"/>
<circle cx="329.73" cy="346.09" r="1.2" fill="#fff" stroke="#000" stroke-width="0.8"/>
<circle cx="326.73" cy="348.88" r="1.2" fill="#fff" stroke="#000" stroke-width="0.8"/>
<circle cx="326.35" cy="333.88" r="1.2" fill="#fff" stroke="#000" stroke-width="0.8"/>
<circle cx="326.38" cy="343.41" r="1.2" fill="#fff" stroke="#000" stroke-width="0.8"/>
<circle cx="330.25" cy="341.28" r="1.2" fill="#fff" stroke="#000" stroke-width="0.8"/>
<circle cx="330.06" cy="342.16" r="1.2" fill="#fff" stroke="#000" stroke-width="0.8"/>
<circle cx="327.31" cy="343.94" r="1.2" fill="#fff" stroke="#000" stroke-width="0.8"/>
<circle cx="326.77" cy="349.47" r="1.2" fill="#fff" stroke="#000" stroke-width="0.8"/>
<circle cx="325.31" cy="343.03" r="1.2" fill="#fff" stroke="#000" stroke-width="0.8"/>
<circle cx="330.04" cy="338.98" r="1.2" fill="#fff" stroke="#000" stroke-width="0.8"/>
<circle cx="329.39" cy="345.61" r="1.2" fill="#fff" stroke="#000" stroke-width="0.8"/>
<circle cx="328.31" cy="341.33" r="1.2" fill="#fff" stroke="#000" stroke-width="0.8"/>
<circle cx="325.18" cy="348.78" r="1.2" fill="#fff" stroke="#000" stroke-width="0.8"/>
<circle cx="325.96" cy="345.27" r="1.2" fill="#fff" stroke="#000" stroke-width="0.8"/>
<circle cx="326.79" cy="334.63" r="1.2" fill="#fff" stroke="#000" stroke-width="0.8"/>
<line x1="337.4" y1="352.88" x2="337.4" y2="341.08" stroke="#111" stroke-width="0.9"/>
<line x1="335.7" y1="341.08" x2="339.1" y2="341.08" stroke="#111" stroke-width="0.9"/>
<circle cx="338.12" cy="354.84" r="1.2" fill="#fff" stroke="#000" stroke-width="0.8"/>
<circle cx="338.96" cy="342.15" r="1.2" fill="#fff" stroke="#000" stroke-width="0.8"/>
<circle cx="335.9" cy="350.12" r="1.2" fill="#fff" stroke="#000" stroke-width="0.8"/>
<circle cx="339.53" cy="357.23" r="1.2" fill="#fff" stroke="#000" stroke-width="0.8"/>
<circle cx="338.22" cy="354.58" r="1.2" fill="#fff" stroke="#000" stroke-width="0.8"/>
<circle cx="334.82" cy="346.33" r="1.2" fill="#fff" stroke="#000" stroke-width="0.8"/>
<circle cx="339.9" cy="350.61" r="1.2" fill="#fff" stroke="#000" stroke-width="0.8"/>
<circle cx="338.89" cy="353.47" r="1.2" fill="#fff" stroke="#000" stroke-width="0.8"/>
<circle cx="338.65" cy="341.16" r="1.2" fill="#fff" stroke="#000" stroke-width="0.8"/>
<circle cx="336.44" cy="350.27" r="1.2" fill="#fff" stroke="#000" stroke-width="0.8"/>
<circle cx="338.78" cy="346.55" r="1.2" fill="#fff" stroke="#000" stroke-width="0.8"/>
<circle cx="335.7" cy="338.5" r="1.2" fill="#fff" stroke="#000" stroke-width="0.8"/>
<circle cx="335.4" cy="345.17" r="1.2" fill="#fff" stroke="#000" stroke-width="0.8"/>
<circle cx="336.88" cy="339.17" r="1.2" fill="#fff" stroke="#000" stroke-width="0.8"/>
<circle cx="338.15" cy="338.68" r="1.2" fill="#fff" stroke="#000" stroke-width="0.8"/>
<circle cx="338.39" cy="346.9" r="1.2" fill="#fff" stroke="#000" stroke-width="0.8"/>
<circle cx="334.97" cy="352.51" r="1.2" fill="#fff" stroke="#000" stroke-width="0.8"/>
<circle cx="334.75" cy="336.67" r="1.2" fill="#fff" stroke="#000" stroke-width="0.8"/>
<circle cx="339.35" cy="341.99" r="1.2" fill="#fff" stroke="#000" stroke-width="0.8"/>
<circle cx="336.58" cy="345.57" r="1.2" fill="#fff" stroke="#000" stroke-width="0.8"/>
<circle cx="338.74" cy="351.85" r="1.2" fill="#fff" stroke="#000" stroke-width="0.8"/>
<circle cx="336.08" cy="341.58" r="1.2" fill="#fff" stroke="#000" stroke-width="0.8"/>
<circle cx="337.52" cy="344.13" r="1.2" fill="#fff" stroke="#000" stroke-width="0.8"/>
<circle cx="339.09" cy="341.74" r="1.2" fill="#fff" stroke="#000" stroke-width="0.8"/>
<circle cx="339.27" cy="337.64" r="1.2" fill="#fff" stroke="#000" stroke-width="0.8"/>
<circle cx="338.24" cy="333.83" r="1.2" fill="#fff" stroke="#000" stroke-width="0.8"/>
<circle cx="336" cy="349.78" r="1.2" fill="#fff" stroke="#000" stroke-width="0.8"/>
<circle cx="337.29" cy="341.3" r="1.2" fill="#fff" stroke="#000" stroke-width="0.8"/>
<circle cx="337.65" cy="353.19" r="1.2" fill="#fff" stroke="#000" stroke-width="0.8"/>
<circle cx="336.34" cy="343.77" r="1.2" fill="#fff" stroke="#000" stroke-width="0.8"/>
<circle cx="337.18" cy="344.27" r="1.2" fill="#fff" stroke="#000" stroke-width="0.8"/>
<circle cx="337.54" cy="353.69" r="1.2" fill="#fff" stroke="#000" stroke-width="0.8"/>
<circle cx="336.64" cy="341.34" r="1.2" fill="#fff" stroke="#000" stroke-width="0.8"/>
<circle cx="338.91" cy="338.02" r="1.2" fill="#fff" stroke="#000" stroke-width="0.8"/>
<circle cx="340.09" cy="346.4" r="1.2" fill="#fff" stroke="#000" stroke-width="0.8"/>
<circle cx="335.33" cy="342.1" r="1.2" fill="#fff" stroke="#000" stroke-width="0.8"/>
<circle cx="335.87" cy="342.38" r="1.2" fill="#fff" stroke="#000" stroke-width="0.8"/>
<circle cx="335.46" cy="348.55" r="1.2" fill="#fff" stroke="#000" stroke-width="0.8"/>
<circle cx="339.88" cy="344.78" r="1.2" fill="#fff" stroke="#000" stroke-width="0.8"/>
<circle cx="336.52" cy="344.61" r="1.2" fill="#fff" stroke="#000" stroke-width="0.8"/>
<circle cx="339.77" cy="346.03" r="1.2" fill="#fff" stroke="#000" stroke-width="0.8"/>
<circle cx="338.04" cy="346.66" r="1.2" fill="#fff" stroke="#000" stroke-width="0.8"/>
<line x1="347.05" y1="343.44" x2="347.05" y2="329.28" stroke="#111" stroke-width="0.9"/>
<line x1="345.35" y1="329.28" x2="348.75" y2="329.28" stroke="#111" stroke-width="0.9"/>
<circle cx="346.45" cy="331.71" r="1.2" fill="#fff" stroke="#000" stroke-width="0.8"/>
<circle cx="349.75" cy="334.82" r="1.2" fill="#fff" stroke="#000" stroke-width="0.8"/>
<circle cx="348.24" cy="340.54" r="1.2" fill="#fff" stroke="#000" stroke-width="0.8"/>
<circle cx="346.38" cy="338.02" r="1.2" fill="#fff" stroke="#000" stroke-width="0.8"/>
<circle cx="349.32" cy="334.5" r="1.2" fill="#fff" stroke="#000" stroke-width="0.8"/>
<circle cx="347.88" cy="339.85" r="1.2" fill="#fff" stroke="#000" stroke-width="0.8"/>
<circle cx="346.61" cy="342.72" r="1.2" fill="#fff" stroke="#000" stroke-width="0.8"/>
<circle cx="349.48" cy="336.8" r="1.2" fill="#fff" stroke="#000" stroke-width="0.8"/>
<circle cx="345.57" cy="336.97" r="1.2" fill="#fff" stroke="#000" stroke-width="0.8"/>
<circle cx="347.69" cy="337.89" r="1.2" fill="#fff" stroke="#000" stroke-width="0.8"/>
<circle cx="347.82" cy="336.1" r="1.2" fill="#fff" stroke="#000" stroke-width="0.8"/>
<circle cx="346.83" cy="344.16" r="1.2" fill="#fff" stroke="#000" stroke-width="0.8"/>
<circle cx="346.22" cy="342.14" r="1.2" fill="#fff" stroke="#000" stroke-width="0.8"/>
<circle cx="349.22" cy="344.25" r="1.2" fill="#fff" stroke="#000" stroke-width="0.8"/>
<circle cx="345.5" cy="330.8" r="1.2" fill="#fff" stroke="#000" stroke-width="0.8"/>
<circle cx="345.24" cy="337.35" r="1.2" fill="#fff" stroke="#000" stroke-width="0.8"/>
<circle cx="349.56" cy="337.04" r="1.2" fill="#fff" stroke="#000" stroke-width="0.8"/>
<circle cx="347.03" cy="342.4" r="1.2" fill="#fff" stroke="#000" stroke-width="0.8"/>
<circle cx="344.38" cy="335.39" r="1.2" fill="#fff" stroke="#000" stroke-width="0.8"/>
<circle cx="346.36" cy="331.79" r="1.2" fill="#fff" stroke="#000" stroke-width="0.8"/>
<circle cx="346.58" cy="333.11" r="1.2" fill="#fff" stroke="#000" stroke-width="0.8"/>
<circle cx="349.47" cy="345.59" r="1.2" fill="#fff" stroke="#000" stroke-width="0.8"/>
<circle cx="344.77" cy="337.25" r="1.2" fill="#fff" stroke="#000" stroke-width="0.8"/>
<circle cx="347.95" cy="337.94" r="1.2" fill="#fff" stroke="#000" stroke-width="0.8"/>
<circle cx="348.16" cy="338.49" r="1.2" fill="#fff" stroke="#000" stroke-width="0.8"/>
<circle cx="346.6" cy="336.74" r="1.2" fill="#fff" stroke="#000" stroke-width="0.8"/>
<circle cx="344.85" cy="333.15" r="1.2" fill="#fff" stroke="#000" stroke-width="0.8"/>
<circle cx="345.04" cy="341.96" r="1.2" fill="#fff" stroke="#000" stroke-width="0.8"/>
<circle cx="345.89" cy="343.74" r="1.2" fill="#fff" stroke="#000" stroke-width="0.8"/>
<circle cx="347.93" cy="339.16" r="1.2" fill="#fff" stroke="#000" stroke-width="0.8"/>
<circle cx="344.74" cy="337.77" r="1.2" fill="#fff" stroke="#000" stroke-width="0.8"/>
<circle cx="346.85" cy="336.48" r="1.2" fill="#fff" stroke="#000" stroke-width="0.8"/>
<circle cx="346.87" cy="338.96" r="1.2" fill="#fff" stroke="#000" stroke-width="0.8"/>
<circle cx="347.33" cy="332.67" r="1.2" fill="#fff" stroke="#000" stroke-width="0.8"/>
<circle cx="347.95" cy="336.56" r="1.2" fill="#fff" stroke="#000" stroke-width="0.8"/>
<circle cx="345.76" cy="335.84" r="1.2" fill="#fff" stroke="#000" stroke-width="0.8"/>
<circle cx="348.22" cy="314.32" r="1.3" fill="#8a1a2e" stroke="#5a0a1a" stroke-width="0.4"/>
<circle cx="345.78" cy="323.56" r="1.3" fill="#8a1a2e" stroke="#5a0a1a" stroke-width="0.4"/>
<circle cx="346.96" cy="327.25" r="1.3" fill="#8a1a2e" stroke="#5a0a1a" stroke-width="0.4"/>
<circle cx="347.15" cy="322.57" r="1.3" fill="#8a1a2e" stroke="#5a0a1a" stroke-width="0.4"/>
<circle cx="346.82" cy="325.71" r="1.3" fill="#8a1a2e" stroke="#5a0a1a" stroke-width="0.4"/>
<line x1="356.7" y1="352.88" x2="356.7" y2="336.36" stroke="#111" stroke-width="0.9"/>
<line x1="355" y1="336.36" x2="358.4" y2="336.36" stroke="#111" stroke-width="0.9"/>
<circle cx="355.18" cy="355.24" r="1.2" fill="#fff" stroke="#000" stroke-width="0.8"/>
<circle cx="357.21" cy="349.21" r="1.2" fill="#fff" stroke="#000" stroke-width="0.8"/>
<circle cx="356.78" cy="338.02" r="1.2" fill="#fff" stroke="#000" stroke-width="0.8"/>
<circle cx="355.68" cy="348.25" r="1.2" fill="#fff" stroke="#000" stroke-width="0.8"/>
<circle cx="359.31" cy="347.9" r="1.2" fill="#fff" stroke="#000" stroke-width="0.8"/>
<circle cx="358.99" cy="344.11" r="1.2" fill="#fff" stroke="#000" stroke-width="0.8"/>
<circle cx="358.4" cy="337.04" r="1.2" fill="#fff" stroke="#000" stroke-width="0.8"/>
<circle cx="357.63" cy="340.12" r="1.2" fill="#fff" stroke="#000" stroke-width="0.8"/>
<circle cx="358.86" cy="339.36" r="1.2" fill="#fff" stroke="#000" stroke-width="0.8"/>
<circle cx="355.1" cy="355.48" r="1.2" fill="#fff" stroke="#000" stroke-width="0.8"/>
<circle cx="355.39" cy="349.55" r="1.2" fill="#fff" stroke="#000" stroke-width="0.8"/>
<circle cx="355.64" cy="341.72" r="1.2" fill="#fff" stroke="#000" stroke-width="0.8"/>
<circle cx="359.3" cy="330.93" r="1.2" fill="#fff" stroke="#000" stroke-width="0.8"/>
<circle cx="358.05" cy="333.79" r="1.2" fill="#fff" stroke="#000" stroke-width="0.8"/>
<circle cx="359.3" cy="337.46" r="1.2" fill="#fff" stroke="#000" stroke-width="0.8"/>
<circle cx="357.73" cy="347.22" r="1.2" fill="#fff" stroke="#000" stroke-width="0.8"/>
<circle cx="355.98" cy="344.32" r="1.2" fill="#fff" stroke="#000" stroke-width="0.8"/>
<circle cx="356.37" cy="330.68" r="1.2" fill="#fff" stroke="#000" stroke-width="0.8"/>
<circle cx="355.16" cy="341.36" r="1.2" fill="#fff" stroke="#000" stroke-width="0.8"/>
<circle cx="355.61" cy="334.49" r="1.2" fill="#fff" stroke="#000" stroke-width="0.8"/>
<circle cx="357.92" cy="345.73" r="1.2" fill="#fff" stroke="#000" stroke-width="0.8"/>
<circle cx="357.71" cy="349.09" r="1.2" fill="#fff" stroke="#000" stroke-width="0.8"/>
<circle cx="355.29" cy="346.41" r="1.2" fill="#fff" stroke="#000" stroke-width="0.8"/>
<circle cx="357.67" cy="348.09" r="1.2" fill="#fff" stroke="#000" stroke-width="0.8"/>
<circle cx="356.27" cy="344.95" r="1.2" fill="#fff" stroke="#000" stroke-width="0.8"/>
<circle cx="358.09" cy="332.16" r="1.2" fill="#fff" stroke="#000" stroke-width="0.8"/>
<circle cx="357.37" cy="352.69" r="1.2" fill="#fff" stroke="#000" stroke-width="0.8"/>
<circle cx="354.57" cy="354.11" r="1.2" fill="#fff" stroke="#000" stroke-width="0.8"/>
<circle cx="354.29" cy="353.89" r="1.2" fill="#fff" stroke="#000" stroke-width="0.8"/>
<circle cx="354.04" cy="331.28" r="1.2" fill="#fff" stroke="#000" stroke-width="0.8"/>
<circle cx="359.16" cy="333.97" r="1.2" fill="#fff" stroke="#000" stroke-width="0.8"/>
<circle cx="357.96" cy="342.27" r="1.2" fill="#fff" stroke="#000" stroke-width="0.8"/>
<circle cx="358.42" cy="348.19" r="1.2" fill="#fff" stroke="#000" stroke-width="0.8"/>
<circle cx="359.09" cy="354.24" r="1.2" fill="#fff" stroke="#000" stroke-width="0.8"/>
<circle cx="356.05" cy="348.55" r="1.2" fill="#fff" stroke="#000" stroke-width="0.8"/>
<circle cx="358.5" cy="352.56" r="1.2" fill="#fff" stroke="#000" stroke-width="0.8"/>
<circle cx="357.61" cy="343.09" r="1.2" fill="#fff" stroke="#000" stroke-width="0.8"/>
<circle cx="356.98" cy="332.4" r="1.2" fill="#fff" stroke="#000" stroke-width="0.8"/>
<circle cx="355.16" cy="343.66" r="1.2" fill="#fff" stroke="#000" stroke-width="0.8"/>
<circle cx="359.19" cy="345.25" r="1.2" fill="#fff" stroke="#000" stroke-width="0.8"/>
<circle cx="357.93" cy="343.69" r="1.2" fill="#fff" stroke="#000" stroke-width="0.8"/>
<circle cx="356.13" cy="337.05" r="1.2" fill="#fff" stroke="#000" stroke-width="0.8"/>
<circle cx="357.44" cy="321.16" r="1.3" fill="#8a1a2e" stroke="#5a0a1a" stroke-width="0.4"/>
<circle cx="356.34" cy="328.3" r="1.3" fill="#8a1a2e" stroke="#5a0a1a" stroke-width="0.4"/>
<circle cx="357.02" cy="360.43" r="1.3" fill="#8a1a2e" stroke="#5a0a1a" stroke-width="0.4"/>
<line x1="366.35" y1="357.6" x2="366.35" y2="348.16" stroke="#111" stroke-width="0.9"/>
<line x1="364.65" y1="348.16" x2="368.05" y2="348.16" stroke="#111" stroke-width="0.9"/>
<circle cx="363.79" cy="350.37" r="1.2" fill="#fff" stroke="#000" stroke-width="0.8"/>
<circle cx="365.91" cy="346.89" r="1.2" fill="#fff" stroke="#000" stroke-width="0.8"/>
<circle cx="367.36" cy="356.94" r="1.2" fill="#fff" stroke="#000" stroke-width="0.8"/>
<circle cx="364.21" cy="354.93" r="1.2" fill="#fff" stroke="#000" stroke-width="0.8"/>
<circle cx="366.7" cy="354.91" r="1.2" fill="#fff" stroke="#000" stroke-width="0.8"/>
<circle cx="364.19" cy="350.43" r="1.2" fill="#fff" stroke="#000" stroke-width="0.8"/>
<circle cx="367.53" cy="350.98" r="1.2" fill="#fff" stroke="#000" stroke-width="0.8"/>
<circle cx="366.9" cy="345.36" r="1.2" fill="#fff" stroke="#000" stroke-width="0.8"/>
<circle cx="365.47" cy="348.4" r="1.2" fill="#fff" stroke="#000" stroke-width="0.8"/>
<circle cx="368.3" cy="355.88" r="1.2" fill="#fff" stroke="#000" stroke-width="0.8"/>
<circle cx="368.94" cy="350.8" r="1.2" fill="#fff" stroke="#000" stroke-width="0.8"/>
<circle cx="367.29" cy="346.54" r="1.2" fill="#fff" stroke="#000" stroke-width="0.8"/>
<circle cx="364.72" cy="353.26" r="1.2" fill="#fff" stroke="#000" stroke-width="0.8"/>
<circle cx="364.91" cy="347.4" r="1.2" fill="#fff" stroke="#000" stroke-width="0.8"/>
<circle cx="368.41" cy="347.26" r="1.2" fill="#fff" stroke="#000" stroke-width="0.8"/>
<circle cx="364.83" cy="353.06" r="1.2" fill="#fff" stroke="#000" stroke-width="0.8"/>
<circle cx="366.66" cy="354.38" r="1.2" fill="#fff" stroke="#000" stroke-width="0.8"/>
<circle cx="367.96" cy="351.08" r="1.2" fill="#fff" stroke="#000" stroke-width="0.8"/>
<circle cx="364.94" cy="348.99" r="1.2" fill="#fff" stroke="#000" stroke-width="0.8"/>
<circle cx="365.98" cy="348.5" r="1.2" fill="#fff" stroke="#000" stroke-width="0.8"/>
<circle cx="365.49" cy="355.04" r="1.2" fill="#fff" stroke="#000" stroke-width="0.8"/>
<circle cx="366.81" cy="356.49" r="1.2" fill="#fff" stroke="#000" stroke-width="0.8"/>
<circle cx="364.97" cy="355.45" r="1.2" fill="#fff" stroke="#000" stroke-width="0.8"/>
<circle cx="368.94" cy="349.49" r="1.2" fill="#fff" stroke="#000" stroke-width="0.8"/>
<circle cx="368.91" cy="350.3" r="1.2" fill="#fff" stroke="#000" stroke-width="0.8"/>
<circle cx="363.76" cy="354.84" r="1.2" fill="#fff" stroke="#000" stroke-width="0.8"/>
<circle cx="368.46" cy="349.42" r="1.2" fill="#fff" stroke="#000" stroke-width="0.8"/>
<circle cx="368.51" cy="345.32" r="1.2" fill="#fff" stroke="#000" stroke-width="0.8"/>
<circle cx="367.26" cy="335.18" r="1.2" fill="#fff" stroke="#000" stroke-width="0.8"/>
<circle cx="365.97" cy="357.57" r="1.3" fill="#8a1a2e" stroke="#5a0a1a" stroke-width="0.4"/>
<circle cx="366.02" cy="356.68" r="1.3" fill="#8a1a2e" stroke="#5a0a1a" stroke-width="0.4"/>
<circle cx="367.29" cy="357.65" r="1.3" fill="#8a1a2e" stroke="#5a0a1a" stroke-width="0.4"/>
<line x1="282.7" y1="301.4" x2="282.7" y2="364.1" stroke="#111" stroke-width="1.3"/>
<line x1="282.1" y1="363.5" x2="373" y2="363.5" stroke="#111" stroke-width="1.3"/>
<line x1="280.1" y1="363.5" x2="282.7" y2="363.5" stroke="#111" stroke-width="0.9"/>
<text x="278.1" y="365.8" font-size="6.6" fill="#1a1a1a" text-anchor="end" font-weight="normal" stroke="#1a1a1a" stroke-width="0.22">0</text>
<line x1="280.1" y1="351.7" x2="282.7" y2="351.7" stroke="#111" stroke-width="0.9"/>
<text x="278.1" y="354" font-size="6.6" fill="#1a1a1a" text-anchor="end" font-weight="normal" stroke="#1a1a1a" stroke-width="0.22">1</text>
<line x1="280.1" y1="339.9" x2="282.7" y2="339.9" stroke="#111" stroke-width="0.9"/>
<text x="278.1" y="342.2" font-size="6.6" fill="#1a1a1a" text-anchor="end" font-weight="normal" stroke="#1a1a1a" stroke-width="0.22">2</text>
<line x1="280.1" y1="328.1" x2="282.7" y2="328.1" stroke="#111" stroke-width="0.9"/>
<text x="278.1" y="330.4" font-size="6.6" fill="#1a1a1a" text-anchor="end" font-weight="normal" stroke="#1a1a1a" stroke-width="0.22">3</text>
<line x1="280.1" y1="316.3" x2="282.7" y2="316.3" stroke="#111" stroke-width="0.9"/>
<text x="278.1" y="318.6" font-size="6.6" fill="#1a1a1a" text-anchor="end" font-weight="normal" stroke="#1a1a1a" stroke-width="0.22">4</text>
<line x1="280.1" y1="304.5" x2="282.7" y2="304.5" stroke="#111" stroke-width="0.9"/>
<text x="278.1" y="306.8" font-size="6.6" fill="#1a1a1a" text-anchor="end" font-weight="normal" stroke="#1a1a1a" stroke-width="0.22">5</text>
<line x1="289.15" y1="363.5" x2="289.15" y2="366.3" stroke="#111" stroke-width="1.0"/>
<text x="291.55" y="371.7" font-size="6.3" fill="#1a1a1a" text-anchor="end" font-weight="normal" stroke="#1a1a1a" stroke-width="0.2" letter-spacing="-0.1" transform="rotate(-45 291.55 371.7)">+/+</text>
<line x1="298.8" y1="363.5" x2="298.8" y2="366.3" stroke="#111" stroke-width="1.0"/>
<text x="301.2" y="371.7" font-size="6.3" fill="#1a1a1a" text-anchor="end" font-weight="normal" stroke="#1a1a1a" stroke-width="0.2" letter-spacing="-0.1" transform="rotate(-45 301.2 371.7)">weh/+</text>
<line x1="308.45" y1="363.5" x2="308.45" y2="366.3" stroke="#111" stroke-width="1.0"/>
<text x="310.85" y="371.7" font-size="6.3" fill="#1a1a1a" text-anchor="end" font-weight="normal" stroke="#1a1a1a" stroke-width="0.2" letter-spacing="-0.1" transform="rotate(-45 310.85 371.7)">weh/weh</text>
<line x1="318.1" y1="363.5" x2="318.1" y2="366.3" stroke="#111" stroke-width="1.0"/>
<text x="320.5" y="371.7" font-size="6.3" fill="#1a1a1a" text-anchor="end" font-weight="normal" stroke="#1a1a1a" stroke-width="0.2" letter-spacing="-0.1" transform="rotate(-45 320.5 371.7)">+/+</text>
<line x1="327.75" y1="363.5" x2="327.75" y2="366.3" stroke="#111" stroke-width="1.0"/>
<text x="330.15" y="371.7" font-size="6.3" fill="#1a1a1a" text-anchor="end" font-weight="normal" stroke="#1a1a1a" stroke-width="0.2" letter-spacing="-0.1" transform="rotate(-45 330.15 371.7)">weh/+</text>
<line x1="337.4" y1="363.5" x2="337.4" y2="366.3" stroke="#111" stroke-width="1.0"/>
<text x="339.8" y="371.7" font-size="6.3" fill="#1a1a1a" text-anchor="end" font-weight="normal" stroke="#1a1a1a" stroke-width="0.2" letter-spacing="-0.1" transform="rotate(-45 339.8 371.7)">weh/weh</text>
<line x1="347.05" y1="363.5" x2="347.05" y2="366.3" stroke="#111" stroke-width="1.0"/>
<text x="349.45" y="371.7" font-size="6.3" fill="#1a1a1a" text-anchor="end" font-weight="normal" stroke="#1a1a1a" stroke-width="0.2" letter-spacing="-0.1" transform="rotate(-45 349.45 371.7)">+/+</text>
<line x1="356.7" y1="363.5" x2="356.7" y2="366.3" stroke="#111" stroke-width="1.0"/>
<text x="359.1" y="371.7" font-size="6.3" fill="#1a1a1a" text-anchor="end" font-weight="normal" stroke="#1a1a1a" stroke-width="0.2" letter-spacing="-0.1" transform="rotate(-45 359.1 371.7)">weh/+</text>
<line x1="366.35" y1="363.5" x2="366.35" y2="366.3" stroke="#111" stroke-width="1.0"/>
<text x="368.75" y="371.7" font-size="6.3" fill="#1a1a1a" text-anchor="end" font-weight="normal" stroke="#1a1a1a" stroke-width="0.2" letter-spacing="-0.1" transform="rotate(-45 368.75 371.7)">weh/weh</text>
<text x="264" y="334.3" font-size="7.6" fill="#1a1a1a" text-anchor="middle" font-weight="normal" stroke="#1a1a1a" stroke-width="0.3" transform="rotate(-90 264 334.3)" textLength="63.5" lengthAdjust="spacingAndGlyphs">Cytoplasmic/nuclear area</text>
<rect x="308.1" y="390.45" width="30.7" height="1.7" fill="#666666"/>
<rect x="345.2" y="390.45" width="33.2" height="1.7" fill="#666666"/>
<text x="324.45" y="400.1" font-size="6.3" fill="#d0456c" text-anchor="middle" font-weight="normal" stroke="#d0456c" stroke-width="0.1" textLength="30.5" lengthAdjust="spacingAndGlyphs">+10μM Iron</text>
<text x="362.3" y="400.1" font-size="6.3" fill="#5e5048" text-anchor="middle" font-weight="normal" stroke="#5e5048" stroke-width="0.1" textLength="30.5" lengthAdjust="spacingAndGlyphs">+15μM Iron</text>
<text x="253.4" y="289.4" font-size="10.6" fill="#000" text-anchor="start" font-weight="bold" stroke="#000" stroke-width="0.5">F</text>
<path d="M288.3 296.8V294.4H366V296.8" fill="none" stroke="#333" stroke-width="1.0"/>
<text x="327.15" y="295.1" font-size="5.4" fill="#222" text-anchor="middle" font-weight="normal" stroke="#222" stroke-width="0.2">***</text>
<path d="M298.7 305.1V302.7H309V305.1" fill="none" stroke="#333" stroke-width="1.0"/>
<text x="303.85" y="303.4" font-size="5.4" fill="#222" text-anchor="middle" font-weight="normal" stroke="#222" stroke-width="0.2">***</text>
<path d="M288.3 312.8V310.4H309V312.8" fill="none" stroke="#333" stroke-width="1.0"/>
<text x="298.65" y="311.1" font-size="5.4" fill="#222" text-anchor="middle" font-weight="normal" stroke="#222" stroke-width="0.2">***</text>
<rect x="0.5" y="0.5" width="519" height="408" fill="none" stroke="#4a4a4a" stroke-width="1.2"/>
</svg>
</body></html>
